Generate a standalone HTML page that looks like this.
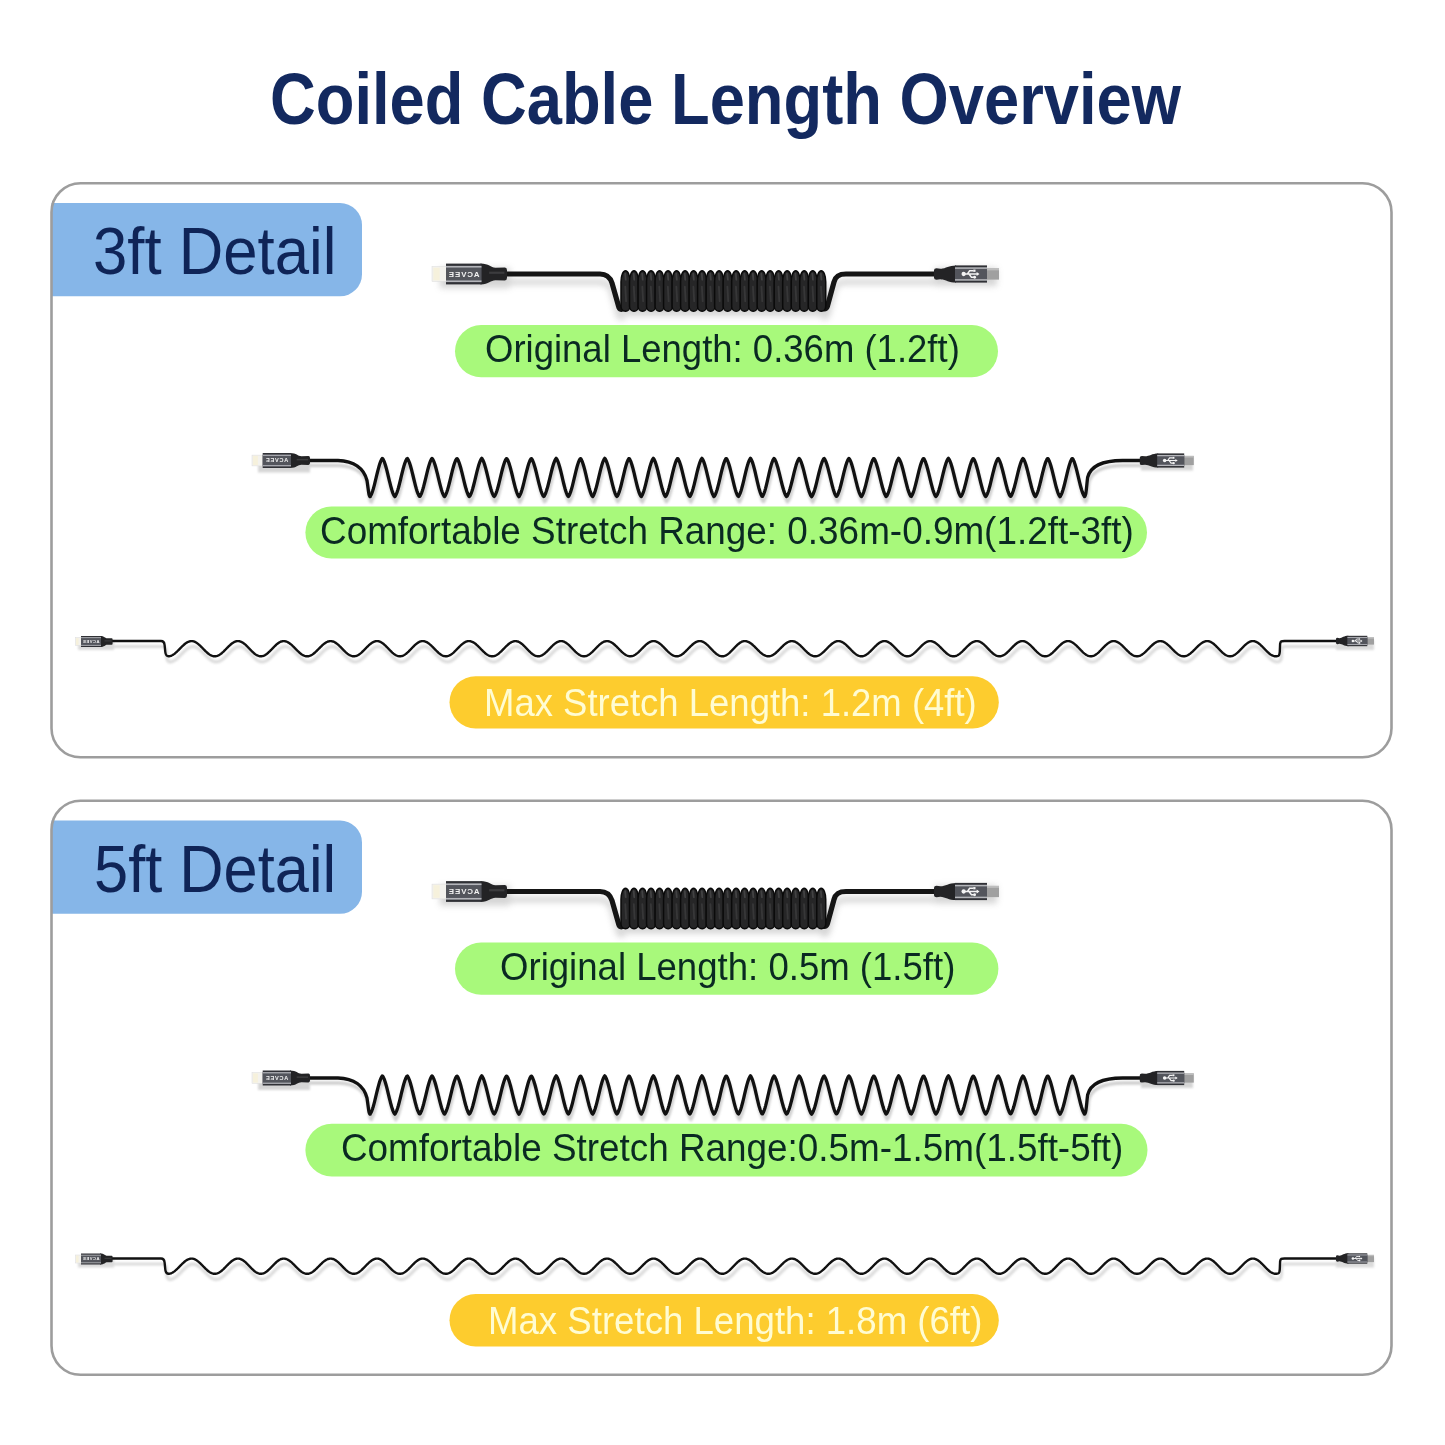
<!DOCTYPE html>
<html><head><meta charset="utf-8"><style>
html,body{margin:0;padding:0;background:#fff;}
body{width:1445px;height:1445px;position:relative;overflow:hidden;font-family:"Liberation Sans",sans-serif;}
svg{position:absolute;left:0;top:0;}
.t{position:absolute;white-space:nowrap;line-height:1;transform-origin:0 0;}
</style></head><body>
<svg width="1445" height="1445" viewBox="0 0 1445 1445">
<defs><filter id="sh" x="-10%" y="-50%" width="120%" height="200%"><feGaussianBlur stdDeviation="3"/></filter><filter id="sh2" x="-10%" y="-100%" width="120%" height="300%"><feGaussianBlur stdDeviation="1.3"/></filter></defs>
<path d="M51.5,203 H340 A22,22 0 0 1 362,225 V274.3 A22,22 0 0 1 340,296.3 H51.5 Z" fill="#86b6e8"/>
<rect x="51.5" y="183.3" width="1340" height="574" rx="29" ry="29" fill="none" stroke="#9d9d9d" stroke-width="2.6"/>
<path d="M51.5,820.5 H340 A22,22 0 0 1 362,842.5 V891.8 A22,22 0 0 1 340,913.8 H51.5 Z" fill="#86b6e8"/>
<rect x="51.5" y="800.8" width="1340" height="574" rx="29" ry="29" fill="none" stroke="#9d9d9d" stroke-width="2.6"/>
<rect x="455" y="325" width="543" height="52.3" rx="26.15" ry="26.15" fill="#a8f97b"/>
<rect x="305.4" y="506.6" width="841.6" height="51.9" rx="25.95" ry="25.95" fill="#a8f97b"/>
<rect x="449.5" y="676.2" width="549.3" height="52.3" rx="26.15" ry="26.15" fill="#fdcc2e"/>
<rect x="455" y="942.5" width="543.4" height="52.3" rx="26.15" ry="26.15" fill="#a8f97b"/>
<rect x="305.4" y="1123.7" width="842.1" height="52.7" rx="26.35" ry="26.35" fill="#a8f97b"/>
<rect x="449.5" y="1294" width="549.3" height="52.4" rx="26.2" ry="26.2" fill="#fdcc2e"/>
<g filter="url(#sh)" opacity="0.35"><path d="M505,274 L600,274 C606,274 610,277 612,283 L618.5,306 C619.5,310 622,310 624,308" stroke="#777" stroke-width="5" fill="none" transform="translate(0,8)"/><path d="M822,308 C825,310 827,309 828,304 L834,282 C835.5,276 839,274 846,274 L936,274" stroke="#777" stroke-width="5" fill="none" transform="translate(0,8)"/><rect x="622" y="284" width="206" height="32" rx="4" fill="#888"/><rect x="440" y="268" width="70" height="20" fill="#888"/><rect x="935" y="268" width="62" height="18" fill="#888"/></g>
<path d="M505,274 L600,274 C606,274 610,277 612,283 L618.5,306 C619.5,310 622,310 624,308" stroke="#151515" stroke-width="5.2" fill="none" stroke-linecap="round"/>
<path d="M822,308 C825,310 827,309 828,304 L834,282 C835.5,276 839,274 846,274 L936,274" stroke="#151515" stroke-width="5.2" fill="none" stroke-linecap="round"/>
<rect x="622" y="280.7" width="202.73" height="24.5" fill="#141414"/>
<path d="M621,281.7 C621,275.62 623.01,270.7 625.5,270.7 C627.99,270.7 630,275.62 630,281.7 V306.2 C630,308.96 627.99,311.2 625.5,311.2 C623.01,311.2 621,308.96 621,306.2 Z" fill="#262627" stroke="#0a0a0a" stroke-width="1.5"/>
<path d="M625.2,273.7 L625.7,279.7" stroke="#4a4a4b" stroke-width="1.8" stroke-linecap="round" opacity="0.8"/>
<path d="M625.3,286.7 L626.1,301.2" stroke="#3c3c3d" stroke-width="1.8" stroke-linecap="round" opacity="0.8"/>
<path d="M629.51,281.7 C629.51,275.62 631.52,270.7 634.01,270.7 C636.5,270.7 638.51,275.62 638.51,281.7 V306.2 C638.51,308.96 636.5,311.2 634.01,311.2 C631.52,311.2 629.51,308.96 629.51,306.2 Z" fill="#262627" stroke="#0a0a0a" stroke-width="1.5"/>
<path d="M633.71,273.7 L634.21,279.7" stroke="#4a4a4b" stroke-width="1.8" stroke-linecap="round" opacity="0.8"/>
<path d="M633.81,286.7 L634.61,301.2" stroke="#3c3c3d" stroke-width="1.8" stroke-linecap="round" opacity="0.8"/>
<path d="M638.02,281.7 C638.02,275.62 640.03,270.7 642.52,270.7 C645.01,270.7 647.02,275.62 647.02,281.7 V306.2 C647.02,308.96 645.01,311.2 642.52,311.2 C640.03,311.2 638.02,308.96 638.02,306.2 Z" fill="#262627" stroke="#0a0a0a" stroke-width="1.5"/>
<path d="M642.22,273.7 L642.72,279.7" stroke="#4a4a4b" stroke-width="1.8" stroke-linecap="round" opacity="0.8"/>
<path d="M642.32,286.7 L643.12,301.2" stroke="#3c3c3d" stroke-width="1.8" stroke-linecap="round" opacity="0.8"/>
<path d="M646.53,281.7 C646.53,275.62 648.54,270.7 651.03,270.7 C653.52,270.7 655.53,275.62 655.53,281.7 V306.2 C655.53,308.96 653.52,311.2 651.03,311.2 C648.54,311.2 646.53,308.96 646.53,306.2 Z" fill="#262627" stroke="#0a0a0a" stroke-width="1.5"/>
<path d="M650.73,273.7 L651.23,279.7" stroke="#4a4a4b" stroke-width="1.8" stroke-linecap="round" opacity="0.8"/>
<path d="M650.83,286.7 L651.63,301.2" stroke="#3c3c3d" stroke-width="1.8" stroke-linecap="round" opacity="0.8"/>
<path d="M655.04,281.7 C655.04,275.62 657.05,270.7 659.54,270.7 C662.03,270.7 664.04,275.62 664.04,281.7 V306.2 C664.04,308.96 662.03,311.2 659.54,311.2 C657.05,311.2 655.04,308.96 655.04,306.2 Z" fill="#262627" stroke="#0a0a0a" stroke-width="1.5"/>
<path d="M659.24,273.7 L659.74,279.7" stroke="#4a4a4b" stroke-width="1.8" stroke-linecap="round" opacity="0.8"/>
<path d="M659.34,286.7 L660.14,301.2" stroke="#3c3c3d" stroke-width="1.8" stroke-linecap="round" opacity="0.8"/>
<path d="M663.55,281.7 C663.55,275.62 665.56,270.7 668.05,270.7 C670.54,270.7 672.55,275.62 672.55,281.7 V306.2 C672.55,308.96 670.54,311.2 668.05,311.2 C665.56,311.2 663.55,308.96 663.55,306.2 Z" fill="#262627" stroke="#0a0a0a" stroke-width="1.5"/>
<path d="M667.75,273.7 L668.25,279.7" stroke="#4a4a4b" stroke-width="1.8" stroke-linecap="round" opacity="0.8"/>
<path d="M667.85,286.7 L668.65,301.2" stroke="#3c3c3d" stroke-width="1.8" stroke-linecap="round" opacity="0.8"/>
<path d="M672.06,281.7 C672.06,275.62 674.07,270.7 676.56,270.7 C679.05,270.7 681.06,275.62 681.06,281.7 V306.2 C681.06,308.96 679.05,311.2 676.56,311.2 C674.07,311.2 672.06,308.96 672.06,306.2 Z" fill="#262627" stroke="#0a0a0a" stroke-width="1.5"/>
<path d="M676.26,273.7 L676.76,279.7" stroke="#4a4a4b" stroke-width="1.8" stroke-linecap="round" opacity="0.8"/>
<path d="M676.36,286.7 L677.16,301.2" stroke="#3c3c3d" stroke-width="1.8" stroke-linecap="round" opacity="0.8"/>
<path d="M680.57,281.7 C680.57,275.62 682.58,270.7 685.07,270.7 C687.56,270.7 689.57,275.62 689.57,281.7 V306.2 C689.57,308.96 687.56,311.2 685.07,311.2 C682.58,311.2 680.57,308.96 680.57,306.2 Z" fill="#262627" stroke="#0a0a0a" stroke-width="1.5"/>
<path d="M684.77,273.7 L685.27,279.7" stroke="#4a4a4b" stroke-width="1.8" stroke-linecap="round" opacity="0.8"/>
<path d="M684.87,286.7 L685.67,301.2" stroke="#3c3c3d" stroke-width="1.8" stroke-linecap="round" opacity="0.8"/>
<path d="M689.08,281.7 C689.08,275.62 691.09,270.7 693.58,270.7 C696.07,270.7 698.08,275.62 698.08,281.7 V306.2 C698.08,308.96 696.07,311.2 693.58,311.2 C691.09,311.2 689.08,308.96 689.08,306.2 Z" fill="#262627" stroke="#0a0a0a" stroke-width="1.5"/>
<path d="M693.28,273.7 L693.78,279.7" stroke="#4a4a4b" stroke-width="1.8" stroke-linecap="round" opacity="0.8"/>
<path d="M693.38,286.7 L694.18,301.2" stroke="#3c3c3d" stroke-width="1.8" stroke-linecap="round" opacity="0.8"/>
<path d="M697.59,281.7 C697.59,275.62 699.6,270.7 702.09,270.7 C704.58,270.7 706.59,275.62 706.59,281.7 V306.2 C706.59,308.96 704.58,311.2 702.09,311.2 C699.6,311.2 697.59,308.96 697.59,306.2 Z" fill="#262627" stroke="#0a0a0a" stroke-width="1.5"/>
<path d="M701.79,273.7 L702.29,279.7" stroke="#4a4a4b" stroke-width="1.8" stroke-linecap="round" opacity="0.8"/>
<path d="M701.89,286.7 L702.69,301.2" stroke="#3c3c3d" stroke-width="1.8" stroke-linecap="round" opacity="0.8"/>
<path d="M706.1,281.7 C706.1,275.62 708.11,270.7 710.6,270.7 C713.09,270.7 715.1,275.62 715.1,281.7 V306.2 C715.1,308.96 713.09,311.2 710.6,311.2 C708.11,311.2 706.1,308.96 706.1,306.2 Z" fill="#262627" stroke="#0a0a0a" stroke-width="1.5"/>
<path d="M710.3,273.7 L710.8,279.7" stroke="#4a4a4b" stroke-width="1.8" stroke-linecap="round" opacity="0.8"/>
<path d="M710.4,286.7 L711.2,301.2" stroke="#3c3c3d" stroke-width="1.8" stroke-linecap="round" opacity="0.8"/>
<path d="M714.61,281.7 C714.61,275.62 716.62,270.7 719.11,270.7 C721.6,270.7 723.61,275.62 723.61,281.7 V306.2 C723.61,308.96 721.6,311.2 719.11,311.2 C716.62,311.2 714.61,308.96 714.61,306.2 Z" fill="#262627" stroke="#0a0a0a" stroke-width="1.5"/>
<path d="M718.81,273.7 L719.31,279.7" stroke="#4a4a4b" stroke-width="1.8" stroke-linecap="round" opacity="0.8"/>
<path d="M718.91,286.7 L719.71,301.2" stroke="#3c3c3d" stroke-width="1.8" stroke-linecap="round" opacity="0.8"/>
<path d="M723.12,281.7 C723.12,275.62 725.13,270.7 727.62,270.7 C730.11,270.7 732.12,275.62 732.12,281.7 V306.2 C732.12,308.96 730.11,311.2 727.62,311.2 C725.13,311.2 723.12,308.96 723.12,306.2 Z" fill="#262627" stroke="#0a0a0a" stroke-width="1.5"/>
<path d="M727.32,273.7 L727.82,279.7" stroke="#4a4a4b" stroke-width="1.8" stroke-linecap="round" opacity="0.8"/>
<path d="M727.42,286.7 L728.22,301.2" stroke="#3c3c3d" stroke-width="1.8" stroke-linecap="round" opacity="0.8"/>
<path d="M731.63,281.7 C731.63,275.62 733.64,270.7 736.13,270.7 C738.62,270.7 740.63,275.62 740.63,281.7 V306.2 C740.63,308.96 738.62,311.2 736.13,311.2 C733.64,311.2 731.63,308.96 731.63,306.2 Z" fill="#262627" stroke="#0a0a0a" stroke-width="1.5"/>
<path d="M735.83,273.7 L736.33,279.7" stroke="#4a4a4b" stroke-width="1.8" stroke-linecap="round" opacity="0.8"/>
<path d="M735.93,286.7 L736.73,301.2" stroke="#3c3c3d" stroke-width="1.8" stroke-linecap="round" opacity="0.8"/>
<path d="M740.14,281.7 C740.14,275.62 742.15,270.7 744.64,270.7 C747.13,270.7 749.14,275.62 749.14,281.7 V306.2 C749.14,308.96 747.13,311.2 744.64,311.2 C742.15,311.2 740.14,308.96 740.14,306.2 Z" fill="#262627" stroke="#0a0a0a" stroke-width="1.5"/>
<path d="M744.34,273.7 L744.84,279.7" stroke="#4a4a4b" stroke-width="1.8" stroke-linecap="round" opacity="0.8"/>
<path d="M744.44,286.7 L745.24,301.2" stroke="#3c3c3d" stroke-width="1.8" stroke-linecap="round" opacity="0.8"/>
<path d="M748.65,281.7 C748.65,275.62 750.66,270.7 753.15,270.7 C755.64,270.7 757.65,275.62 757.65,281.7 V306.2 C757.65,308.96 755.64,311.2 753.15,311.2 C750.66,311.2 748.65,308.96 748.65,306.2 Z" fill="#262627" stroke="#0a0a0a" stroke-width="1.5"/>
<path d="M752.85,273.7 L753.35,279.7" stroke="#4a4a4b" stroke-width="1.8" stroke-linecap="round" opacity="0.8"/>
<path d="M752.95,286.7 L753.75,301.2" stroke="#3c3c3d" stroke-width="1.8" stroke-linecap="round" opacity="0.8"/>
<path d="M757.16,281.7 C757.16,275.62 759.17,270.7 761.66,270.7 C764.15,270.7 766.16,275.62 766.16,281.7 V306.2 C766.16,308.96 764.15,311.2 761.66,311.2 C759.17,311.2 757.16,308.96 757.16,306.2 Z" fill="#262627" stroke="#0a0a0a" stroke-width="1.5"/>
<path d="M761.36,273.7 L761.86,279.7" stroke="#4a4a4b" stroke-width="1.8" stroke-linecap="round" opacity="0.8"/>
<path d="M761.46,286.7 L762.26,301.2" stroke="#3c3c3d" stroke-width="1.8" stroke-linecap="round" opacity="0.8"/>
<path d="M765.67,281.7 C765.67,275.62 767.68,270.7 770.17,270.7 C772.66,270.7 774.67,275.62 774.67,281.7 V306.2 C774.67,308.96 772.66,311.2 770.17,311.2 C767.68,311.2 765.67,308.96 765.67,306.2 Z" fill="#262627" stroke="#0a0a0a" stroke-width="1.5"/>
<path d="M769.87,273.7 L770.37,279.7" stroke="#4a4a4b" stroke-width="1.8" stroke-linecap="round" opacity="0.8"/>
<path d="M769.97,286.7 L770.77,301.2" stroke="#3c3c3d" stroke-width="1.8" stroke-linecap="round" opacity="0.8"/>
<path d="M774.18,281.7 C774.18,275.62 776.19,270.7 778.68,270.7 C781.17,270.7 783.18,275.62 783.18,281.7 V306.2 C783.18,308.96 781.17,311.2 778.68,311.2 C776.19,311.2 774.18,308.96 774.18,306.2 Z" fill="#262627" stroke="#0a0a0a" stroke-width="1.5"/>
<path d="M778.38,273.7 L778.88,279.7" stroke="#4a4a4b" stroke-width="1.8" stroke-linecap="round" opacity="0.8"/>
<path d="M778.48,286.7 L779.28,301.2" stroke="#3c3c3d" stroke-width="1.8" stroke-linecap="round" opacity="0.8"/>
<path d="M782.69,281.7 C782.69,275.62 784.7,270.7 787.19,270.7 C789.68,270.7 791.69,275.62 791.69,281.7 V306.2 C791.69,308.96 789.68,311.2 787.19,311.2 C784.7,311.2 782.69,308.96 782.69,306.2 Z" fill="#262627" stroke="#0a0a0a" stroke-width="1.5"/>
<path d="M786.89,273.7 L787.39,279.7" stroke="#4a4a4b" stroke-width="1.8" stroke-linecap="round" opacity="0.8"/>
<path d="M786.99,286.7 L787.79,301.2" stroke="#3c3c3d" stroke-width="1.8" stroke-linecap="round" opacity="0.8"/>
<path d="M791.2,281.7 C791.2,275.62 793.21,270.7 795.7,270.7 C798.19,270.7 800.2,275.62 800.2,281.7 V306.2 C800.2,308.96 798.19,311.2 795.7,311.2 C793.21,311.2 791.2,308.96 791.2,306.2 Z" fill="#262627" stroke="#0a0a0a" stroke-width="1.5"/>
<path d="M795.4,273.7 L795.9,279.7" stroke="#4a4a4b" stroke-width="1.8" stroke-linecap="round" opacity="0.8"/>
<path d="M795.5,286.7 L796.3,301.2" stroke="#3c3c3d" stroke-width="1.8" stroke-linecap="round" opacity="0.8"/>
<path d="M799.71,281.7 C799.71,275.62 801.72,270.7 804.21,270.7 C806.7,270.7 808.71,275.62 808.71,281.7 V306.2 C808.71,308.96 806.7,311.2 804.21,311.2 C801.72,311.2 799.71,308.96 799.71,306.2 Z" fill="#262627" stroke="#0a0a0a" stroke-width="1.5"/>
<path d="M803.91,273.7 L804.41,279.7" stroke="#4a4a4b" stroke-width="1.8" stroke-linecap="round" opacity="0.8"/>
<path d="M804.01,286.7 L804.81,301.2" stroke="#3c3c3d" stroke-width="1.8" stroke-linecap="round" opacity="0.8"/>
<path d="M808.22,281.7 C808.22,275.62 810.23,270.7 812.72,270.7 C815.21,270.7 817.22,275.62 817.22,281.7 V306.2 C817.22,308.96 815.21,311.2 812.72,311.2 C810.23,311.2 808.22,308.96 808.22,306.2 Z" fill="#262627" stroke="#0a0a0a" stroke-width="1.5"/>
<path d="M812.42,273.7 L812.92,279.7" stroke="#4a4a4b" stroke-width="1.8" stroke-linecap="round" opacity="0.8"/>
<path d="M812.52,286.7 L813.32,301.2" stroke="#3c3c3d" stroke-width="1.8" stroke-linecap="round" opacity="0.8"/>
<path d="M816.73,281.7 C816.73,275.62 818.74,270.7 821.23,270.7 C823.72,270.7 825.73,275.62 825.73,281.7 V306.2 C825.73,308.96 823.72,311.2 821.23,311.2 C818.74,311.2 816.73,308.96 816.73,306.2 Z" fill="#262627" stroke="#0a0a0a" stroke-width="1.5"/>
<path d="M820.93,273.7 L821.43,279.7" stroke="#4a4a4b" stroke-width="1.8" stroke-linecap="round" opacity="0.8"/>
<path d="M821.03,286.7 L821.83,301.2" stroke="#3c3c3d" stroke-width="1.8" stroke-linecap="round" opacity="0.8"/>
<rect x="432" y="266.6" width="15" height="14.8" fill="#f3f2ee" stroke="#dcdcdc" stroke-width="0.5"/>
<rect x="433.4" y="267.71" width="6.3" height="12.58" fill="#f6f1dc"/>
<path d="M480.5,263.6 C489.15,263.6 490.43,267.7 495.52,267.7 L504.96,267.57 Q507,267.7 507,270.22 L507,277.78 Q507,280.3 504.96,280.43 L495.52,280.3 C490.43,280.3 489.15,284.4 480.5,284.4 Z" fill="#232325"/>
<path d="M489.15,272.74 L504.45,272.74" stroke="#3c3c3e" stroke-width="2.2"/>
<rect x="446" y="263.6" width="35.5" height="20.8" fill="#303136"/>
<rect x="446" y="266.51" width="35.5" height="14.98" fill="#53555c"/>
<rect x="446" y="265.89" width="35.5" height="1.66" fill="#b4b5ba"/>
<rect x="446" y="280.45" width="35.5" height="1.66" fill="#b4b5ba"/>
<g opacity="0.99"><text x="0" y="0" transform="translate(463.75,276.7) scale(-1.05,1)" text-anchor="middle" font-family="Liberation Sans" font-weight="bold" font-size="7.49" fill="#f4f4f4" letter-spacing="0.9">ACVEE</text></g>
<rect x="986" y="268.4" width="13" height="11.2" fill="#a0a0a0"/>
<rect x="986" y="268.4" width="13" height="1.96" fill="#bdbdbd"/>
<path d="M934,270.22 Q934,268.33 936.52,268.33 L940.3,268.87 C945.55,268.6 948.7,265.4 956,265.4 L956,282.6 C948.7,282.6 945.55,279.4 940.3,279.13 L936.52,279.67 Q934,279.67 934,277.78 Z" fill="#232325"/>
<rect x="955" y="265.4" width="32" height="17.2" fill="#303136"/>
<rect x="955" y="267.98" width="32" height="12.04" fill="#53555c"/>
<rect x="955" y="267.29" width="32" height="1.55" fill="#b4b5ba"/>
<rect x="955" y="279.16" width="32" height="1.55" fill="#b4b5ba"/>
<g transform="translate(971,274) scale(1.13)" fill="#f4f4f4" stroke="#f4f4f4"><circle cx="-6.5" cy="0" r="1.9" stroke="none"/><path d="M-6,0 H6 M-3.2,0 L-1.2,-2.9 H2.2 M-1.8,0 L0.4,2.9 H2.6" fill="none" stroke-width="1.3"/><path d="M7.5,0 L5,-1.7 V1.7 Z" stroke="none"/><rect x="2" y="-3.9" width="2" height="2" stroke="none"/><circle cx="3.2" cy="2.9" r="1.25" stroke="none"/></g>
<g filter="url(#sh2)" opacity="0.4"><path d="M309,460.5 L338,460.5 C354,461 364,468.5 367,480.5 C368.5,490.5 368.8,496.7 370.2,496.7 L370.2,496.42 L370.8,495.48 L371.4,494.27 L372,492.81 L372.6,491.1 L373.2,489.18 L373.8,487.08 L374.4,484.82 L375,482.43 L375.6,479.97 L376.2,477.47 L376.8,474.96 L377.4,472.5 L378,470.12 L378.6,467.86 L379.2,465.76 L379.8,463.85 L380.4,462.15 L381,460.69 L381.6,459.49 L382.2,458.55 L382.8,458.83 L383.4,459.85 L384,461.13 L384.6,462.67 L385.2,464.44 L385.8,466.42 L386.4,468.57 L387,470.87 L387.6,473.29 L388.19,475.76 L388.79,478.27 L389.39,480.77 L389.99,483.21 L390.59,485.56 L391.19,487.77 L391.79,489.82 L392.39,491.68 L392.99,493.31 L393.59,494.69 L394.19,495.81 L394.79,496.67 L395.39,495.9 L395.99,494.8 L396.59,493.44 L397.19,491.83 L397.79,490 L398.39,487.97 L398.99,485.76 L399.59,483.43 L400.19,480.99 L400.79,478.5 L401.39,475.99 L401.99,473.51 L402.59,471.09 L403.19,468.77 L403.79,466.6 L404.39,464.61 L404.99,462.82 L405.59,461.26 L406.19,459.95 L406.79,458.91 L407.39,458.48 L407.99,459.39 L408.59,460.57 L409.19,462.01 L409.79,463.68 L410.39,465.58 L410.99,467.67 L411.59,469.91 L412.19,472.28 L412.79,474.74 L413.39,477.24 L413.99,479.75 L414.59,482.21 L415.19,484.61 L415.79,486.88 L416.39,489 L416.99,490.94 L417.59,492.66 L418.19,494.15 L418.79,495.38 L419.39,496.35 L419.99,496.28 L420.59,495.29 L421.19,494.03 L421.79,492.52 L422.39,490.78 L422.99,488.82 L423.59,486.69 L424.18,484.4 L424.78,482 L425.38,479.53 L425.98,477.02 L426.58,474.52 L427.18,472.07 L427.78,469.71 L428.38,467.48 L428.98,465.41 L429.58,463.53 L430.18,461.87 L430.78,460.46 L431.38,459.3 L431.98,458.42 L432.58,458.99 L433.18,460.05 L433.78,461.39 L434.38,462.97 L434.98,464.77 L435.58,466.79 L436.18,468.97 L436.78,471.29 L437.38,473.72 L437.98,476.21 L438.58,478.72 L439.18,481.21 L439.78,483.63 L440.38,485.96 L440.98,488.15 L441.58,490.17 L442.18,491.98 L442.78,493.57 L443.38,494.91 L443.98,495.99 L444.58,496.6 L445.18,495.73 L445.78,494.58 L446.38,493.17 L446.98,491.52 L447.58,489.65 L448.18,487.59 L448.78,485.36 L449.38,483 L449.98,480.55 L450.58,478.05 L451.18,475.55 L451.78,473.07 L452.38,470.67 L452.98,468.38 L453.58,466.24 L454.18,464.28 L454.78,462.53 L455.38,461.01 L455.98,459.75 L456.58,458.75 L457.18,458.63 L457.78,459.58 L458.38,460.81 L458.98,462.29 L459.57,464 L460.17,465.94 L460.77,468.05 L461.37,470.32 L461.97,472.71 L462.57,475.18 L463.17,477.68 L463.77,480.19 L464.37,482.64 L464.97,485.02 L465.57,487.27 L466.17,489.36 L466.77,491.26 L467.37,492.95 L467.97,494.39 L468.57,495.57 L469.17,496.49 L469.77,496.12 L470.37,495.08 L470.97,493.78 L471.57,492.23 L472.17,490.45 L472.77,488.46 L473.37,486.29 L473.97,483.98 L474.57,481.57 L475.17,479.09 L475.77,476.58 L476.37,474.08 L476.97,471.65 L477.57,469.31 L478.17,467.1 L478.77,465.06 L479.37,463.22 L479.97,461.6 L480.57,460.24 L481.17,459.13 L481.77,458.31 L482.37,459.16 L482.97,460.27 L483.57,461.65 L484.17,463.27 L484.77,465.12 L485.37,467.16 L485.97,469.37 L486.57,471.72 L487.17,474.16 L487.77,476.65 L488.37,479.16 L488.97,481.64 L489.57,484.05 L490.17,486.36 L490.77,488.52 L491.37,490.5 L491.97,492.28 L492.57,493.82 L493.17,495.12 L493.77,496.15 L494.37,496.47 L494.97,495.54 L495.56,494.35 L496.16,492.9 L496.76,491.21 L497.36,489.3 L497.96,487.2 L498.56,484.95 L499.16,482.57 L499.76,480.11 L500.36,477.61 L500.96,475.11 L501.56,472.64 L502.16,470.26 L502.76,467.99 L503.36,465.88 L503.96,463.95 L504.56,462.24 L505.16,460.77 L505.76,459.55 L506.36,458.6 L506.96,458.78 L507.56,459.79 L508.16,461.07 L508.76,462.61 L509.36,464.38 L509.96,466.36 L510.56,468.53 L511.16,470.84 L511.76,473.26 L512.36,475.76 L512.96,478.28 L513.56,480.79 L514.16,483.24 L514.76,485.6 L515.36,487.83 L515.96,489.88 L516.56,491.74 L517.16,493.37 L517.76,494.75 L518.36,495.87 L518.96,496.69 L519.56,495.84 L520.16,494.72 L520.76,493.33 L521.36,491.69 L521.96,489.83 L522.56,487.77 L523.16,485.54 L523.76,483.18 L524.36,480.72 L524.96,478.21 L525.56,475.69 L526.16,473.19 L526.76,470.77 L527.36,468.47 L527.96,466.3 L528.56,464.33 L529.16,462.56 L529.76,461.03 L530.36,459.76 L530.95,458.75 L531.55,458.62 L532.15,459.58 L532.75,460.8 L533.35,462.27 L533.95,463.98 L534.55,465.91 L535.15,468.02 L535.75,470.28 L536.35,472.66 L536.95,475.12 L537.55,477.62 L538.15,480.11 L538.75,482.57 L539.35,484.94 L539.95,487.19 L540.55,489.28 L541.15,491.19 L541.75,492.88 L542.35,494.33 L542.95,495.52 L543.55,496.45 L544.15,496.17 L544.75,495.15 L545.35,493.87 L545.95,492.33 L546.55,490.57 L547.15,488.59 L547.75,486.44 L548.35,484.15 L548.95,481.75 L549.55,479.27 L550.15,476.77 L550.75,474.28 L551.35,471.84 L551.95,469.5 L552.55,467.28 L553.15,465.23 L553.75,463.38 L554.35,461.75 L554.95,460.36 L555.55,459.22 L556.15,458.36 L556.75,459.08 L557.35,460.2 L557.95,461.6 L558.55,463.25 L559.15,465.14 L559.75,467.23 L560.35,469.5 L560.95,471.91 L561.55,474.41 L562.15,476.96 L562.75,479.53 L563.35,482.06 L563.95,484.51 L564.55,486.84 L565.15,489.01 L565.75,490.99 L566.35,492.74 L566.94,494.25 L567.54,495.49 L568.14,496.44 L568.74,496.15 L569.34,495.1 L569.94,493.77 L570.54,492.18 L571.14,490.35 L571.74,488.3 L572.34,486.07 L572.94,483.69 L573.54,481.21 L574.14,478.67 L574.74,476.1 L575.34,473.56 L575.94,471.08 L576.54,468.72 L577.14,466.51 L577.74,464.48 L578.34,462.67 L578.94,461.1 L579.54,459.79 L580.14,458.76 L580.74,458.63 L581.34,459.61 L581.94,460.88 L582.54,462.41 L583.14,464.18 L583.74,466.18 L584.34,468.37 L584.94,470.71 L585.54,473.17 L586.14,475.71 L586.74,478.27 L587.34,480.82 L587.94,483.32 L588.54,485.71 L589.14,487.97 L589.74,490.04 L590.34,491.91 L590.94,493.54 L591.54,494.91 L592.14,496.01 L592.74,496.57 L593.34,495.65 L593.94,494.46 L594.54,492.99 L595.14,491.27 L595.74,489.33 L596.34,487.18 L596.94,484.88 L597.54,482.44 L598.14,479.92 L598.74,477.36 L599.34,474.8 L599.94,472.29 L600.54,469.86 L601.14,467.57 L601.74,465.45 L602.34,463.53 L602.93,461.83 L603.53,460.4 L604.13,459.23 L604.73,458.35 L605.33,459.1 L605.93,460.22 L606.53,461.62 L607.13,463.28 L607.73,465.17 L608.33,467.27 L608.93,469.54 L609.53,471.95 L610.13,474.46 L610.73,477.01 L611.33,479.58 L611.93,482.1 L612.53,484.55 L613.13,486.88 L613.73,489.05 L614.33,491.02 L614.93,492.77 L615.53,494.27 L616.13,495.51 L616.73,496.46 L617.33,496.14 L617.93,495.08 L618.53,493.74 L619.13,492.15 L619.73,490.31 L620.33,488.26 L620.93,486.03 L621.53,483.65 L622.13,481.16 L622.73,478.62 L623.33,476.05 L623.93,473.51 L624.53,471.04 L625.13,468.68 L625.73,466.47 L626.33,464.44 L626.93,462.63 L627.53,461.07 L628.13,459.77 L628.73,458.75 L629.33,458.65 L629.93,459.64 L630.53,460.9 L631.13,462.44 L631.73,464.22 L632.33,466.22 L632.93,468.41 L633.53,470.76 L634.13,473.22 L634.73,475.75 L635.33,478.32 L635.93,480.87 L636.53,483.36 L637.13,485.76 L637.73,488.01 L638.32,490.08 L638.92,491.94 L639.52,493.57 L640.12,494.94 L640.72,496.03 L641.32,496.55 L641.92,495.63 L642.52,494.43 L643.12,492.96 L643.72,491.24 L644.32,489.29 L644.92,487.14 L645.52,484.83 L646.12,482.39 L646.72,479.87 L647.32,477.31 L647.92,474.75 L648.52,472.24 L649.12,469.82 L649.72,467.53 L650.32,465.41 L650.92,463.49 L651.52,461.8 L652.12,460.37 L652.72,459.21 L653.32,458.34 L653.92,459.12 L654.52,460.25 L655.12,461.65 L655.72,463.32 L656.32,465.21 L656.92,467.31 L657.52,469.59 L658.12,472 L658.72,474.5 L659.32,477.06 L659.92,479.62 L660.52,482.15 L661.12,484.6 L661.72,486.92 L662.32,489.09 L662.92,491.06 L663.52,492.8 L664.12,494.3 L664.72,495.53 L665.32,496.48 L665.92,496.12 L666.52,495.06 L667.12,493.72 L667.72,492.11 L668.32,490.27 L668.92,488.22 L669.52,485.98 L670.12,483.6 L670.72,481.12 L671.32,478.57 L671.92,476 L672.52,473.46 L673.12,470.99 L673.72,468.63 L674.31,466.43 L674.91,464.4 L675.51,462.6 L676.11,461.04 L676.71,459.75 L677.31,458.73 L677.91,458.66 L678.51,459.66 L679.11,460.93 L679.71,462.47 L680.31,464.25 L680.91,466.26 L681.51,468.45 L682.11,470.8 L682.71,473.27 L683.31,475.8 L683.91,478.37 L684.51,480.92 L685.11,483.41 L685.71,485.8 L686.31,488.05 L686.91,490.12 L687.51,491.98 L688.11,493.6 L688.71,494.96 L689.31,496.05 L689.91,496.54 L690.51,495.61 L691.11,494.41 L691.71,492.93 L692.31,491.2 L692.91,489.25 L693.51,487.1 L694.11,484.79 L694.71,482.35 L695.31,479.82 L695.91,477.26 L696.51,474.7 L697.11,472.19 L697.71,469.77 L698.31,467.49 L698.91,465.37 L699.51,463.46 L700.11,461.78 L700.71,460.35 L701.31,459.19 L701.91,458.32 L702.51,459.13 L703.11,460.27 L703.71,461.68 L704.31,463.35 L704.91,465.25 L705.51,467.36 L706.11,469.63 L706.71,472.05 L707.31,474.55 L707.91,477.11 L708.51,479.67 L709.11,482.2 L709.7,484.64 L710.3,486.97 L710.9,489.13 L711.5,491.09 L712.1,492.84 L712.7,494.33 L713.3,495.55 L713.9,496.49 L714.5,496.1 L715.1,495.03 L715.7,493.69 L716.3,492.08 L716.9,490.24 L717.5,488.18 L718.1,485.94 L718.7,483.56 L719.3,481.07 L719.9,478.52 L720.5,475.95 L721.1,473.42 L721.7,470.95 L722.3,468.59 L722.9,466.39 L723.5,464.37 L724.1,462.57 L724.7,461.02 L725.3,459.73 L725.9,458.71 L726.5,458.68 L727.1,459.68 L727.7,460.96 L728.3,462.5 L728.9,464.29 L729.5,466.3 L730.1,468.5 L730.7,470.85 L731.3,473.31 L731.9,475.85 L732.5,478.42 L733.1,480.97 L733.7,483.46 L734.3,485.84 L734.9,488.09 L735.5,490.16 L736.1,492.01 L736.7,493.63 L737.3,494.98 L737.9,496.06 L738.5,496.52 L739.1,495.59 L739.7,494.38 L740.3,492.9 L740.9,491.17 L741.5,489.21 L742.1,487.06 L742.7,484.74 L743.3,482.3 L743.9,479.78 L744.5,477.21 L745.1,474.65 L745.69,472.15 L746.29,469.73 L746.89,467.45 L747.49,465.33 L748.09,463.42 L748.69,461.75 L749.29,460.32 L749.89,459.17 L750.49,458.31 L751.09,459.18 L751.69,460.38 L752.29,461.86 L752.89,463.61 L753.49,465.61 L754.09,467.81 L754.69,470.2 L755.29,472.71 L755.89,475.32 L756.49,477.96 L757.09,480.6 L757.69,483.17 L758.29,485.65 L758.89,487.98 L759.49,490.11 L760.09,492.03 L760.69,493.69 L761.29,495.07 L761.89,496.16 L762.49,496.41 L763.09,495.41 L763.69,494.11 L764.29,492.52 L764.89,490.68 L765.49,488.6 L766.09,486.32 L766.69,483.89 L767.29,481.33 L767.89,478.71 L768.49,476.06 L769.09,473.44 L769.69,470.9 L770.29,468.47 L770.89,466.21 L771.49,464.15 L772.09,462.33 L772.69,460.77 L773.29,459.49 L773.89,458.51 L774.49,458.88 L775.09,459.9 L775.69,461.18 L776.29,462.71 L776.89,464.46 L777.49,466.41 L778.09,468.54 L778.69,470.81 L779.29,473.19 L779.89,475.63 L780.49,478.11 L781.08,480.58 L781.68,482.99 L782.28,485.32 L782.88,487.53 L783.48,489.58 L784.08,491.43 L784.68,493.08 L785.28,494.48 L785.88,495.64 L786.48,496.53 L787.08,496.09 L787.68,495.06 L788.28,493.77 L788.88,492.24 L789.48,490.48 L790.08,488.52 L790.68,486.38 L791.28,484.11 L791.88,481.73 L792.48,479.28 L793.08,476.8 L793.68,474.33 L794.28,471.92 L794.88,469.59 L795.48,467.39 L796.08,465.35 L796.68,463.5 L797.28,461.87 L797.88,460.47 L798.48,459.33 L799.08,458.44 L799.68,458.95 L800.28,460.01 L800.88,461.33 L801.48,462.9 L802.08,464.69 L802.68,466.69 L803.28,468.87 L803.88,471.18 L804.48,473.6 L805.08,476.09 L805.68,478.59 L806.28,481.08 L806.88,483.51 L807.48,485.84 L808.08,488.04 L808.68,490.06 L809.28,491.89 L809.88,493.49 L810.48,494.84 L811.08,495.93 L811.68,496.65 L812.28,495.79 L812.88,494.66 L813.48,493.27 L814.08,491.64 L814.68,489.78 L815.28,487.73 L815.88,485.51 L816.48,483.17 L817.07,480.73 L817.67,478.23 L818.27,475.73 L818.87,473.25 L819.47,470.84 L820.07,468.55 L820.67,466.39 L821.27,464.42 L821.87,462.66 L822.47,461.12 L823.07,459.84 L823.67,458.82 L824.27,458.56 L824.87,459.49 L825.47,460.69 L826.07,462.15 L826.67,463.85 L827.27,465.76 L827.87,467.86 L828.47,470.11 L829.07,472.49 L829.67,474.95 L830.27,477.45 L830.87,479.95 L831.47,482.41 L832.07,484.79 L832.67,487.05 L833.27,489.16 L833.87,491.08 L834.47,492.79 L835.07,494.25 L835.67,495.46 L836.27,496.41 L836.87,496.21 L837.47,495.21 L838.07,493.94 L838.67,492.41 L839.27,490.65 L839.87,488.69 L840.47,486.54 L841.07,484.25 L841.67,481.85 L842.27,479.37 L842.87,476.87 L843.47,474.37 L844.07,471.93 L844.67,469.58 L845.27,467.36 L845.87,465.3 L846.47,463.43 L847.07,461.79 L847.67,460.39 L848.27,459.25 L848.87,458.38 L849.47,459.03 L850.07,460.11 L850.67,461.45 L851.27,463.04 L851.87,464.86 L852.46,466.88 L853.06,469.07 L853.66,471.39 L854.26,473.82 L854.86,476.31 L855.46,478.81 L856.06,481.3 L856.66,483.72 L857.26,486.04 L857.86,488.22 L858.46,490.23 L859.06,492.04 L859.66,493.61 L860.26,494.94 L860.86,496.01 L861.46,496.58 L862.06,495.7 L862.66,494.55 L863.26,493.14 L863.86,491.48 L864.46,489.61 L865.06,487.54 L865.66,485.31 L866.26,482.96 L866.86,480.51 L867.46,478.01 L868.06,475.51 L868.66,473.04 L869.26,470.64 L869.86,468.35 L870.46,466.21 L871.06,464.26 L871.66,462.51 L872.26,461 L872.86,459.74 L873.46,458.74 L874.06,458.63 L874.66,459.59 L875.26,460.81 L875.86,462.29 L876.46,464.01 L877.06,465.93 L877.66,468.05 L878.26,470.32 L878.86,472.7 L879.46,475.17 L880.06,477.67 L880.66,480.17 L881.26,482.63 L881.86,485 L882.46,487.25 L883.06,489.34 L883.66,491.24 L884.26,492.92 L884.86,494.37 L885.46,495.56 L886.06,496.48 L886.66,496.14 L887.26,495.11 L887.86,493.81 L888.45,492.27 L889.05,490.49 L889.65,488.51 L890.25,486.35 L890.85,484.04 L891.45,481.63 L892.05,479.15 L892.65,476.65 L893.25,474.16 L893.85,471.72 L894.45,469.38 L895.05,467.17 L895.65,465.12 L896.25,463.28 L896.85,461.66 L897.45,460.28 L898.05,459.16 L898.65,458.32 L899.25,459.12 L899.85,460.22 L900.45,461.59 L901.05,463.2 L901.65,465.03 L902.25,467.06 L902.85,469.27 L903.45,471.6 L904.05,474.04 L904.65,476.53 L905.25,479.03 L905.85,481.51 L906.45,483.93 L907.05,486.24 L907.65,488.41 L908.25,490.4 L908.85,492.18 L909.45,493.74 L910.05,495.05 L910.65,496.09 L911.25,496.52 L911.85,495.61 L912.45,494.43 L913.05,493 L913.65,491.33 L914.25,489.44 L914.85,487.35 L915.45,485.11 L916.05,482.74 L916.65,480.29 L917.25,477.79 L917.85,475.29 L918.45,472.82 L919.05,470.43 L919.65,468.16 L920.25,466.03 L920.85,464.09 L921.45,462.37 L922.05,460.88 L922.65,459.64 L923.25,458.67 L923.85,458.7 L924.44,459.68 L925.04,460.93 L925.64,462.43 L926.24,464.17 L926.84,466.11 L927.44,468.24 L928.04,470.52 L928.64,472.92 L929.24,475.39 L929.84,477.89 L930.44,480.39 L931.04,482.84 L931.64,485.2 L932.24,487.44 L932.84,489.51 L933.44,491.4 L934.04,493.06 L934.64,494.48 L935.24,495.65 L935.84,496.55 L936.44,496.06 L937.04,495 L937.64,493.69 L938.24,492.12 L938.84,490.32 L939.44,488.32 L940.04,486.15 L940.64,483.84 L941.24,481.42 L941.84,478.93 L942.44,476.43 L943.04,473.94 L943.64,471.51 L944.24,469.18 L944.84,466.98 L945.44,464.95 L946.04,463.13 L946.64,461.53 L947.24,460.17 L947.84,459.08 L948.44,458.35 L949.04,459.2 L949.64,460.33 L950.24,461.72 L950.84,463.35 L951.44,465.2 L952.04,467.25 L952.64,469.47 L953.24,471.81 L953.84,474.25 L954.44,476.75 L955.04,479.25 L955.64,481.73 L956.24,484.14 L956.84,486.43 L957.44,488.59 L958.04,490.56 L958.64,492.33 L959.24,493.87 L959.83,495.15 L960.43,496.17 L961.03,496.45 L961.63,495.52 L962.23,494.32 L962.83,492.86 L963.43,491.17 L964.03,489.26 L964.63,487.16 L965.23,484.91 L965.83,482.53 L966.43,480.07 L967.03,477.57 L967.63,475.07 L968.23,472.61 L968.83,470.23 L969.43,467.96 L970.03,465.86 L970.63,463.93 L971.23,462.23 L971.83,460.76 L972.43,459.54 L973.03,458.6 L973.63,458.78 L974.23,459.78 L974.83,461.05 L975.43,462.58 L976.03,464.33 L976.63,466.29 L977.23,468.44 L977.83,470.73 L978.43,473.13 L979.03,475.61 L979.63,478.11 L980.23,480.61 L980.83,483.05 L981.43,485.4 L982.03,487.63 L982.63,489.69 L983.23,491.55 L983.83,493.2 L984.43,494.6 L985.03,495.74 L985.63,496.61 L986.23,495.98 L986.83,494.9 L987.43,493.56 L988.03,491.97 L988.63,490.16 L989.23,488.14 L989.83,485.95 L990.43,483.63 L991.03,481.2 L991.63,478.71 L992.23,476.21 L992.83,473.72 L993.43,471.3 L994.03,468.98 L994.63,466.8 L995.23,464.79 L995.82,462.98 L996.42,461.4 L997.02,460.07 L997.62,459 L998.22,458.41 L998.82,459.29 L999.42,460.44 L1000.02,461.85 L1000.62,463.5 L1001.22,465.37 L1001.82,467.44 L1002.42,469.67 L1003.02,472.02 L1003.62,474.47 L1004.22,476.97 L1004.82,479.47 L1005.42,481.94 L1006.02,484.34 L1006.62,486.63 L1007.22,488.77 L1007.82,490.73 L1008.42,492.48 L1009.02,493.99 L1009.62,495.25 L1010.22,496.25 L1010.82,496.38 L1011.42,495.42 L1012.02,494.2 L1012.62,492.72 L1013.22,491.01 L1013.82,489.08 L1014.42,486.97 L1015.02,484.7 L1015.62,482.32 L1016.22,479.85 L1016.82,477.35 L1017.42,474.85 L1018.02,472.39 L1018.62,470.02 L1019.22,467.77 L1019.82,465.68 L1020.42,463.78 L1021.02,462.09 L1021.62,460.64 L1022.22,459.45 L1022.82,458.53 L1023.42,458.86 L1024.02,459.9 L1024.62,461.2 L1025.22,462.76 L1025.82,464.55 L1026.42,466.56 L1027.02,468.74 L1027.62,471.06 L1028.22,473.49 L1028.82,475.99 L1029.42,478.51 L1030.02,481.02 L1030.62,483.47 L1031.21,485.81 L1031.81,488.03 L1032.41,490.06 L1033.01,491.9 L1033.61,493.51 L1034.21,494.86 L1034.81,495.96 L1035.41,496.62 L1036.01,495.75 L1036.61,494.6 L1037.21,493.19 L1037.81,491.53 L1038.41,489.65 L1039.01,487.57 L1039.61,485.32 L1040.21,482.95 L1040.81,480.49 L1041.41,477.98 L1042.01,475.45 L1042.61,472.97 L1043.21,470.56 L1043.81,468.26 L1044.41,466.11 L1045.01,464.15 L1045.61,462.41 L1046.21,460.9 L1046.81,459.65 L1047.41,458.67 L1048.01,458.71 L1048.61,459.7 L1049.21,460.97 L1049.81,462.49 L1050.41,464.25 L1051.01,466.23 L1051.61,468.39 L1052.21,470.71 L1052.81,473.14 L1053.41,475.64 L1054.01,478.17 L1054.61,480.69 L1055.21,483.16 L1055.81,485.53 L1056.41,487.77 L1057.01,489.84 L1057.61,491.71 L1058.21,493.35 L1058.81,494.74 L1059.41,495.86 L1060.01,496.69 L1060.61,495.84 L1061.21,494.71 L1061.81,493.31 L1062.41,491.67 L1063.01,489.79 L1063.61,487.72 L1064.21,485.48 L1064.81,483.1 L1065.41,480.63 L1066.01,478.11 L1066.61,475.58 L1067.2,473.08 L1067.8,470.65 L1068.4,468.34 L1069,466.18 L1069.6,464.21 L1070.2,462.45 L1070.8,460.93 L1071.4,459.67 L1072,458.69 L1072.6,458.7 L1073.2,459.69 L1073.8,460.95 L1074.4,462.47 L1075,464.23 L1075.6,466.21 L1076.2,468.37 L1076.8,470.68 L1077.4,473.11 L1078,475.61 L1078.6,478.14 L1079.2,480.66 L1079.8,483.13 L1080.4,485.5 L1081,487.75 L1081.6,489.82 L1082.2,491.69 L1082.8,493.33 L1083.4,494.72 L1084,495.85 L1084.6,496.7 C1086.1,496.7 1086.6,485.5 1087.6,477.5 C1090.6,465.5 1102.6,460.5 1122.6,460.5 L1141,460.5" stroke="#888" stroke-width="3.5" fill="none" transform="translate(1,5)"/><rect x="258" y="458.5" width="52" height="14" fill="#999"/><rect x="1141" y="458.5" width="52" height="12" fill="#999"/></g>
<path d="M309,460.5 L338,460.5 C354,461 364,468.5 367,480.5 C368.5,490.5 368.8,496.7 370.2,496.7 L370.2,496.42 L370.8,495.48 L371.4,494.27 L372,492.81 L372.6,491.1 L373.2,489.18 L373.8,487.08 L374.4,484.82 L375,482.43 L375.6,479.97 L376.2,477.47 L376.8,474.96 L377.4,472.5 L378,470.12 L378.6,467.86 L379.2,465.76 L379.8,463.85 L380.4,462.15 L381,460.69 L381.6,459.49 L382.2,458.55 L382.8,458.83 L383.4,459.85 L384,461.13 L384.6,462.67 L385.2,464.44 L385.8,466.42 L386.4,468.57 L387,470.87 L387.6,473.29 L388.19,475.76 L388.79,478.27 L389.39,480.77 L389.99,483.21 L390.59,485.56 L391.19,487.77 L391.79,489.82 L392.39,491.68 L392.99,493.31 L393.59,494.69 L394.19,495.81 L394.79,496.67 L395.39,495.9 L395.99,494.8 L396.59,493.44 L397.19,491.83 L397.79,490 L398.39,487.97 L398.99,485.76 L399.59,483.43 L400.19,480.99 L400.79,478.5 L401.39,475.99 L401.99,473.51 L402.59,471.09 L403.19,468.77 L403.79,466.6 L404.39,464.61 L404.99,462.82 L405.59,461.26 L406.19,459.95 L406.79,458.91 L407.39,458.48 L407.99,459.39 L408.59,460.57 L409.19,462.01 L409.79,463.68 L410.39,465.58 L410.99,467.67 L411.59,469.91 L412.19,472.28 L412.79,474.74 L413.39,477.24 L413.99,479.75 L414.59,482.21 L415.19,484.61 L415.79,486.88 L416.39,489 L416.99,490.94 L417.59,492.66 L418.19,494.15 L418.79,495.38 L419.39,496.35 L419.99,496.28 L420.59,495.29 L421.19,494.03 L421.79,492.52 L422.39,490.78 L422.99,488.82 L423.59,486.69 L424.18,484.4 L424.78,482 L425.38,479.53 L425.98,477.02 L426.58,474.52 L427.18,472.07 L427.78,469.71 L428.38,467.48 L428.98,465.41 L429.58,463.53 L430.18,461.87 L430.78,460.46 L431.38,459.3 L431.98,458.42 L432.58,458.99 L433.18,460.05 L433.78,461.39 L434.38,462.97 L434.98,464.77 L435.58,466.79 L436.18,468.97 L436.78,471.29 L437.38,473.72 L437.98,476.21 L438.58,478.72 L439.18,481.21 L439.78,483.63 L440.38,485.96 L440.98,488.15 L441.58,490.17 L442.18,491.98 L442.78,493.57 L443.38,494.91 L443.98,495.99 L444.58,496.6 L445.18,495.73 L445.78,494.58 L446.38,493.17 L446.98,491.52 L447.58,489.65 L448.18,487.59 L448.78,485.36 L449.38,483 L449.98,480.55 L450.58,478.05 L451.18,475.55 L451.78,473.07 L452.38,470.67 L452.98,468.38 L453.58,466.24 L454.18,464.28 L454.78,462.53 L455.38,461.01 L455.98,459.75 L456.58,458.75 L457.18,458.63 L457.78,459.58 L458.38,460.81 L458.98,462.29 L459.57,464 L460.17,465.94 L460.77,468.05 L461.37,470.32 L461.97,472.71 L462.57,475.18 L463.17,477.68 L463.77,480.19 L464.37,482.64 L464.97,485.02 L465.57,487.27 L466.17,489.36 L466.77,491.26 L467.37,492.95 L467.97,494.39 L468.57,495.57 L469.17,496.49 L469.77,496.12 L470.37,495.08 L470.97,493.78 L471.57,492.23 L472.17,490.45 L472.77,488.46 L473.37,486.29 L473.97,483.98 L474.57,481.57 L475.17,479.09 L475.77,476.58 L476.37,474.08 L476.97,471.65 L477.57,469.31 L478.17,467.1 L478.77,465.06 L479.37,463.22 L479.97,461.6 L480.57,460.24 L481.17,459.13 L481.77,458.31 L482.37,459.16 L482.97,460.27 L483.57,461.65 L484.17,463.27 L484.77,465.12 L485.37,467.16 L485.97,469.37 L486.57,471.72 L487.17,474.16 L487.77,476.65 L488.37,479.16 L488.97,481.64 L489.57,484.05 L490.17,486.36 L490.77,488.52 L491.37,490.5 L491.97,492.28 L492.57,493.82 L493.17,495.12 L493.77,496.15 L494.37,496.47 L494.97,495.54 L495.56,494.35 L496.16,492.9 L496.76,491.21 L497.36,489.3 L497.96,487.2 L498.56,484.95 L499.16,482.57 L499.76,480.11 L500.36,477.61 L500.96,475.11 L501.56,472.64 L502.16,470.26 L502.76,467.99 L503.36,465.88 L503.96,463.95 L504.56,462.24 L505.16,460.77 L505.76,459.55 L506.36,458.6 L506.96,458.78 L507.56,459.79 L508.16,461.07 L508.76,462.61 L509.36,464.38 L509.96,466.36 L510.56,468.53 L511.16,470.84 L511.76,473.26 L512.36,475.76 L512.96,478.28 L513.56,480.79 L514.16,483.24 L514.76,485.6 L515.36,487.83 L515.96,489.88 L516.56,491.74 L517.16,493.37 L517.76,494.75 L518.36,495.87 L518.96,496.69 L519.56,495.84 L520.16,494.72 L520.76,493.33 L521.36,491.69 L521.96,489.83 L522.56,487.77 L523.16,485.54 L523.76,483.18 L524.36,480.72 L524.96,478.21 L525.56,475.69 L526.16,473.19 L526.76,470.77 L527.36,468.47 L527.96,466.3 L528.56,464.33 L529.16,462.56 L529.76,461.03 L530.36,459.76 L530.95,458.75 L531.55,458.62 L532.15,459.58 L532.75,460.8 L533.35,462.27 L533.95,463.98 L534.55,465.91 L535.15,468.02 L535.75,470.28 L536.35,472.66 L536.95,475.12 L537.55,477.62 L538.15,480.11 L538.75,482.57 L539.35,484.94 L539.95,487.19 L540.55,489.28 L541.15,491.19 L541.75,492.88 L542.35,494.33 L542.95,495.52 L543.55,496.45 L544.15,496.17 L544.75,495.15 L545.35,493.87 L545.95,492.33 L546.55,490.57 L547.15,488.59 L547.75,486.44 L548.35,484.15 L548.95,481.75 L549.55,479.27 L550.15,476.77 L550.75,474.28 L551.35,471.84 L551.95,469.5 L552.55,467.28 L553.15,465.23 L553.75,463.38 L554.35,461.75 L554.95,460.36 L555.55,459.22 L556.15,458.36 L556.75,459.08 L557.35,460.2 L557.95,461.6 L558.55,463.25 L559.15,465.14 L559.75,467.23 L560.35,469.5 L560.95,471.91 L561.55,474.41 L562.15,476.96 L562.75,479.53 L563.35,482.06 L563.95,484.51 L564.55,486.84 L565.15,489.01 L565.75,490.99 L566.35,492.74 L566.94,494.25 L567.54,495.49 L568.14,496.44 L568.74,496.15 L569.34,495.1 L569.94,493.77 L570.54,492.18 L571.14,490.35 L571.74,488.3 L572.34,486.07 L572.94,483.69 L573.54,481.21 L574.14,478.67 L574.74,476.1 L575.34,473.56 L575.94,471.08 L576.54,468.72 L577.14,466.51 L577.74,464.48 L578.34,462.67 L578.94,461.1 L579.54,459.79 L580.14,458.76 L580.74,458.63 L581.34,459.61 L581.94,460.88 L582.54,462.41 L583.14,464.18 L583.74,466.18 L584.34,468.37 L584.94,470.71 L585.54,473.17 L586.14,475.71 L586.74,478.27 L587.34,480.82 L587.94,483.32 L588.54,485.71 L589.14,487.97 L589.74,490.04 L590.34,491.91 L590.94,493.54 L591.54,494.91 L592.14,496.01 L592.74,496.57 L593.34,495.65 L593.94,494.46 L594.54,492.99 L595.14,491.27 L595.74,489.33 L596.34,487.18 L596.94,484.88 L597.54,482.44 L598.14,479.92 L598.74,477.36 L599.34,474.8 L599.94,472.29 L600.54,469.86 L601.14,467.57 L601.74,465.45 L602.34,463.53 L602.93,461.83 L603.53,460.4 L604.13,459.23 L604.73,458.35 L605.33,459.1 L605.93,460.22 L606.53,461.62 L607.13,463.28 L607.73,465.17 L608.33,467.27 L608.93,469.54 L609.53,471.95 L610.13,474.46 L610.73,477.01 L611.33,479.58 L611.93,482.1 L612.53,484.55 L613.13,486.88 L613.73,489.05 L614.33,491.02 L614.93,492.77 L615.53,494.27 L616.13,495.51 L616.73,496.46 L617.33,496.14 L617.93,495.08 L618.53,493.74 L619.13,492.15 L619.73,490.31 L620.33,488.26 L620.93,486.03 L621.53,483.65 L622.13,481.16 L622.73,478.62 L623.33,476.05 L623.93,473.51 L624.53,471.04 L625.13,468.68 L625.73,466.47 L626.33,464.44 L626.93,462.63 L627.53,461.07 L628.13,459.77 L628.73,458.75 L629.33,458.65 L629.93,459.64 L630.53,460.9 L631.13,462.44 L631.73,464.22 L632.33,466.22 L632.93,468.41 L633.53,470.76 L634.13,473.22 L634.73,475.75 L635.33,478.32 L635.93,480.87 L636.53,483.36 L637.13,485.76 L637.73,488.01 L638.32,490.08 L638.92,491.94 L639.52,493.57 L640.12,494.94 L640.72,496.03 L641.32,496.55 L641.92,495.63 L642.52,494.43 L643.12,492.96 L643.72,491.24 L644.32,489.29 L644.92,487.14 L645.52,484.83 L646.12,482.39 L646.72,479.87 L647.32,477.31 L647.92,474.75 L648.52,472.24 L649.12,469.82 L649.72,467.53 L650.32,465.41 L650.92,463.49 L651.52,461.8 L652.12,460.37 L652.72,459.21 L653.32,458.34 L653.92,459.12 L654.52,460.25 L655.12,461.65 L655.72,463.32 L656.32,465.21 L656.92,467.31 L657.52,469.59 L658.12,472 L658.72,474.5 L659.32,477.06 L659.92,479.62 L660.52,482.15 L661.12,484.6 L661.72,486.92 L662.32,489.09 L662.92,491.06 L663.52,492.8 L664.12,494.3 L664.72,495.53 L665.32,496.48 L665.92,496.12 L666.52,495.06 L667.12,493.72 L667.72,492.11 L668.32,490.27 L668.92,488.22 L669.52,485.98 L670.12,483.6 L670.72,481.12 L671.32,478.57 L671.92,476 L672.52,473.46 L673.12,470.99 L673.72,468.63 L674.31,466.43 L674.91,464.4 L675.51,462.6 L676.11,461.04 L676.71,459.75 L677.31,458.73 L677.91,458.66 L678.51,459.66 L679.11,460.93 L679.71,462.47 L680.31,464.25 L680.91,466.26 L681.51,468.45 L682.11,470.8 L682.71,473.27 L683.31,475.8 L683.91,478.37 L684.51,480.92 L685.11,483.41 L685.71,485.8 L686.31,488.05 L686.91,490.12 L687.51,491.98 L688.11,493.6 L688.71,494.96 L689.31,496.05 L689.91,496.54 L690.51,495.61 L691.11,494.41 L691.71,492.93 L692.31,491.2 L692.91,489.25 L693.51,487.1 L694.11,484.79 L694.71,482.35 L695.31,479.82 L695.91,477.26 L696.51,474.7 L697.11,472.19 L697.71,469.77 L698.31,467.49 L698.91,465.37 L699.51,463.46 L700.11,461.78 L700.71,460.35 L701.31,459.19 L701.91,458.32 L702.51,459.13 L703.11,460.27 L703.71,461.68 L704.31,463.35 L704.91,465.25 L705.51,467.36 L706.11,469.63 L706.71,472.05 L707.31,474.55 L707.91,477.11 L708.51,479.67 L709.11,482.2 L709.7,484.64 L710.3,486.97 L710.9,489.13 L711.5,491.09 L712.1,492.84 L712.7,494.33 L713.3,495.55 L713.9,496.49 L714.5,496.1 L715.1,495.03 L715.7,493.69 L716.3,492.08 L716.9,490.24 L717.5,488.18 L718.1,485.94 L718.7,483.56 L719.3,481.07 L719.9,478.52 L720.5,475.95 L721.1,473.42 L721.7,470.95 L722.3,468.59 L722.9,466.39 L723.5,464.37 L724.1,462.57 L724.7,461.02 L725.3,459.73 L725.9,458.71 L726.5,458.68 L727.1,459.68 L727.7,460.96 L728.3,462.5 L728.9,464.29 L729.5,466.3 L730.1,468.5 L730.7,470.85 L731.3,473.31 L731.9,475.85 L732.5,478.42 L733.1,480.97 L733.7,483.46 L734.3,485.84 L734.9,488.09 L735.5,490.16 L736.1,492.01 L736.7,493.63 L737.3,494.98 L737.9,496.06 L738.5,496.52 L739.1,495.59 L739.7,494.38 L740.3,492.9 L740.9,491.17 L741.5,489.21 L742.1,487.06 L742.7,484.74 L743.3,482.3 L743.9,479.78 L744.5,477.21 L745.1,474.65 L745.69,472.15 L746.29,469.73 L746.89,467.45 L747.49,465.33 L748.09,463.42 L748.69,461.75 L749.29,460.32 L749.89,459.17 L750.49,458.31 L751.09,459.18 L751.69,460.38 L752.29,461.86 L752.89,463.61 L753.49,465.61 L754.09,467.81 L754.69,470.2 L755.29,472.71 L755.89,475.32 L756.49,477.96 L757.09,480.6 L757.69,483.17 L758.29,485.65 L758.89,487.98 L759.49,490.11 L760.09,492.03 L760.69,493.69 L761.29,495.07 L761.89,496.16 L762.49,496.41 L763.09,495.41 L763.69,494.11 L764.29,492.52 L764.89,490.68 L765.49,488.6 L766.09,486.32 L766.69,483.89 L767.29,481.33 L767.89,478.71 L768.49,476.06 L769.09,473.44 L769.69,470.9 L770.29,468.47 L770.89,466.21 L771.49,464.15 L772.09,462.33 L772.69,460.77 L773.29,459.49 L773.89,458.51 L774.49,458.88 L775.09,459.9 L775.69,461.18 L776.29,462.71 L776.89,464.46 L777.49,466.41 L778.09,468.54 L778.69,470.81 L779.29,473.19 L779.89,475.63 L780.49,478.11 L781.08,480.58 L781.68,482.99 L782.28,485.32 L782.88,487.53 L783.48,489.58 L784.08,491.43 L784.68,493.08 L785.28,494.48 L785.88,495.64 L786.48,496.53 L787.08,496.09 L787.68,495.06 L788.28,493.77 L788.88,492.24 L789.48,490.48 L790.08,488.52 L790.68,486.38 L791.28,484.11 L791.88,481.73 L792.48,479.28 L793.08,476.8 L793.68,474.33 L794.28,471.92 L794.88,469.59 L795.48,467.39 L796.08,465.35 L796.68,463.5 L797.28,461.87 L797.88,460.47 L798.48,459.33 L799.08,458.44 L799.68,458.95 L800.28,460.01 L800.88,461.33 L801.48,462.9 L802.08,464.69 L802.68,466.69 L803.28,468.87 L803.88,471.18 L804.48,473.6 L805.08,476.09 L805.68,478.59 L806.28,481.08 L806.88,483.51 L807.48,485.84 L808.08,488.04 L808.68,490.06 L809.28,491.89 L809.88,493.49 L810.48,494.84 L811.08,495.93 L811.68,496.65 L812.28,495.79 L812.88,494.66 L813.48,493.27 L814.08,491.64 L814.68,489.78 L815.28,487.73 L815.88,485.51 L816.48,483.17 L817.07,480.73 L817.67,478.23 L818.27,475.73 L818.87,473.25 L819.47,470.84 L820.07,468.55 L820.67,466.39 L821.27,464.42 L821.87,462.66 L822.47,461.12 L823.07,459.84 L823.67,458.82 L824.27,458.56 L824.87,459.49 L825.47,460.69 L826.07,462.15 L826.67,463.85 L827.27,465.76 L827.87,467.86 L828.47,470.11 L829.07,472.49 L829.67,474.95 L830.27,477.45 L830.87,479.95 L831.47,482.41 L832.07,484.79 L832.67,487.05 L833.27,489.16 L833.87,491.08 L834.47,492.79 L835.07,494.25 L835.67,495.46 L836.27,496.41 L836.87,496.21 L837.47,495.21 L838.07,493.94 L838.67,492.41 L839.27,490.65 L839.87,488.69 L840.47,486.54 L841.07,484.25 L841.67,481.85 L842.27,479.37 L842.87,476.87 L843.47,474.37 L844.07,471.93 L844.67,469.58 L845.27,467.36 L845.87,465.3 L846.47,463.43 L847.07,461.79 L847.67,460.39 L848.27,459.25 L848.87,458.38 L849.47,459.03 L850.07,460.11 L850.67,461.45 L851.27,463.04 L851.87,464.86 L852.46,466.88 L853.06,469.07 L853.66,471.39 L854.26,473.82 L854.86,476.31 L855.46,478.81 L856.06,481.3 L856.66,483.72 L857.26,486.04 L857.86,488.22 L858.46,490.23 L859.06,492.04 L859.66,493.61 L860.26,494.94 L860.86,496.01 L861.46,496.58 L862.06,495.7 L862.66,494.55 L863.26,493.14 L863.86,491.48 L864.46,489.61 L865.06,487.54 L865.66,485.31 L866.26,482.96 L866.86,480.51 L867.46,478.01 L868.06,475.51 L868.66,473.04 L869.26,470.64 L869.86,468.35 L870.46,466.21 L871.06,464.26 L871.66,462.51 L872.26,461 L872.86,459.74 L873.46,458.74 L874.06,458.63 L874.66,459.59 L875.26,460.81 L875.86,462.29 L876.46,464.01 L877.06,465.93 L877.66,468.05 L878.26,470.32 L878.86,472.7 L879.46,475.17 L880.06,477.67 L880.66,480.17 L881.26,482.63 L881.86,485 L882.46,487.25 L883.06,489.34 L883.66,491.24 L884.26,492.92 L884.86,494.37 L885.46,495.56 L886.06,496.48 L886.66,496.14 L887.26,495.11 L887.86,493.81 L888.45,492.27 L889.05,490.49 L889.65,488.51 L890.25,486.35 L890.85,484.04 L891.45,481.63 L892.05,479.15 L892.65,476.65 L893.25,474.16 L893.85,471.72 L894.45,469.38 L895.05,467.17 L895.65,465.12 L896.25,463.28 L896.85,461.66 L897.45,460.28 L898.05,459.16 L898.65,458.32 L899.25,459.12 L899.85,460.22 L900.45,461.59 L901.05,463.2 L901.65,465.03 L902.25,467.06 L902.85,469.27 L903.45,471.6 L904.05,474.04 L904.65,476.53 L905.25,479.03 L905.85,481.51 L906.45,483.93 L907.05,486.24 L907.65,488.41 L908.25,490.4 L908.85,492.18 L909.45,493.74 L910.05,495.05 L910.65,496.09 L911.25,496.52 L911.85,495.61 L912.45,494.43 L913.05,493 L913.65,491.33 L914.25,489.44 L914.85,487.35 L915.45,485.11 L916.05,482.74 L916.65,480.29 L917.25,477.79 L917.85,475.29 L918.45,472.82 L919.05,470.43 L919.65,468.16 L920.25,466.03 L920.85,464.09 L921.45,462.37 L922.05,460.88 L922.65,459.64 L923.25,458.67 L923.85,458.7 L924.44,459.68 L925.04,460.93 L925.64,462.43 L926.24,464.17 L926.84,466.11 L927.44,468.24 L928.04,470.52 L928.64,472.92 L929.24,475.39 L929.84,477.89 L930.44,480.39 L931.04,482.84 L931.64,485.2 L932.24,487.44 L932.84,489.51 L933.44,491.4 L934.04,493.06 L934.64,494.48 L935.24,495.65 L935.84,496.55 L936.44,496.06 L937.04,495 L937.64,493.69 L938.24,492.12 L938.84,490.32 L939.44,488.32 L940.04,486.15 L940.64,483.84 L941.24,481.42 L941.84,478.93 L942.44,476.43 L943.04,473.94 L943.64,471.51 L944.24,469.18 L944.84,466.98 L945.44,464.95 L946.04,463.13 L946.64,461.53 L947.24,460.17 L947.84,459.08 L948.44,458.35 L949.04,459.2 L949.64,460.33 L950.24,461.72 L950.84,463.35 L951.44,465.2 L952.04,467.25 L952.64,469.47 L953.24,471.81 L953.84,474.25 L954.44,476.75 L955.04,479.25 L955.64,481.73 L956.24,484.14 L956.84,486.43 L957.44,488.59 L958.04,490.56 L958.64,492.33 L959.24,493.87 L959.83,495.15 L960.43,496.17 L961.03,496.45 L961.63,495.52 L962.23,494.32 L962.83,492.86 L963.43,491.17 L964.03,489.26 L964.63,487.16 L965.23,484.91 L965.83,482.53 L966.43,480.07 L967.03,477.57 L967.63,475.07 L968.23,472.61 L968.83,470.23 L969.43,467.96 L970.03,465.86 L970.63,463.93 L971.23,462.23 L971.83,460.76 L972.43,459.54 L973.03,458.6 L973.63,458.78 L974.23,459.78 L974.83,461.05 L975.43,462.58 L976.03,464.33 L976.63,466.29 L977.23,468.44 L977.83,470.73 L978.43,473.13 L979.03,475.61 L979.63,478.11 L980.23,480.61 L980.83,483.05 L981.43,485.4 L982.03,487.63 L982.63,489.69 L983.23,491.55 L983.83,493.2 L984.43,494.6 L985.03,495.74 L985.63,496.61 L986.23,495.98 L986.83,494.9 L987.43,493.56 L988.03,491.97 L988.63,490.16 L989.23,488.14 L989.83,485.95 L990.43,483.63 L991.03,481.2 L991.63,478.71 L992.23,476.21 L992.83,473.72 L993.43,471.3 L994.03,468.98 L994.63,466.8 L995.23,464.79 L995.82,462.98 L996.42,461.4 L997.02,460.07 L997.62,459 L998.22,458.41 L998.82,459.29 L999.42,460.44 L1000.02,461.85 L1000.62,463.5 L1001.22,465.37 L1001.82,467.44 L1002.42,469.67 L1003.02,472.02 L1003.62,474.47 L1004.22,476.97 L1004.82,479.47 L1005.42,481.94 L1006.02,484.34 L1006.62,486.63 L1007.22,488.77 L1007.82,490.73 L1008.42,492.48 L1009.02,493.99 L1009.62,495.25 L1010.22,496.25 L1010.82,496.38 L1011.42,495.42 L1012.02,494.2 L1012.62,492.72 L1013.22,491.01 L1013.82,489.08 L1014.42,486.97 L1015.02,484.7 L1015.62,482.32 L1016.22,479.85 L1016.82,477.35 L1017.42,474.85 L1018.02,472.39 L1018.62,470.02 L1019.22,467.77 L1019.82,465.68 L1020.42,463.78 L1021.02,462.09 L1021.62,460.64 L1022.22,459.45 L1022.82,458.53 L1023.42,458.86 L1024.02,459.9 L1024.62,461.2 L1025.22,462.76 L1025.82,464.55 L1026.42,466.56 L1027.02,468.74 L1027.62,471.06 L1028.22,473.49 L1028.82,475.99 L1029.42,478.51 L1030.02,481.02 L1030.62,483.47 L1031.21,485.81 L1031.81,488.03 L1032.41,490.06 L1033.01,491.9 L1033.61,493.51 L1034.21,494.86 L1034.81,495.96 L1035.41,496.62 L1036.01,495.75 L1036.61,494.6 L1037.21,493.19 L1037.81,491.53 L1038.41,489.65 L1039.01,487.57 L1039.61,485.32 L1040.21,482.95 L1040.81,480.49 L1041.41,477.98 L1042.01,475.45 L1042.61,472.97 L1043.21,470.56 L1043.81,468.26 L1044.41,466.11 L1045.01,464.15 L1045.61,462.41 L1046.21,460.9 L1046.81,459.65 L1047.41,458.67 L1048.01,458.71 L1048.61,459.7 L1049.21,460.97 L1049.81,462.49 L1050.41,464.25 L1051.01,466.23 L1051.61,468.39 L1052.21,470.71 L1052.81,473.14 L1053.41,475.64 L1054.01,478.17 L1054.61,480.69 L1055.21,483.16 L1055.81,485.53 L1056.41,487.77 L1057.01,489.84 L1057.61,491.71 L1058.21,493.35 L1058.81,494.74 L1059.41,495.86 L1060.01,496.69 L1060.61,495.84 L1061.21,494.71 L1061.81,493.31 L1062.41,491.67 L1063.01,489.79 L1063.61,487.72 L1064.21,485.48 L1064.81,483.1 L1065.41,480.63 L1066.01,478.11 L1066.61,475.58 L1067.2,473.08 L1067.8,470.65 L1068.4,468.34 L1069,466.18 L1069.6,464.21 L1070.2,462.45 L1070.8,460.93 L1071.4,459.67 L1072,458.69 L1072.6,458.7 L1073.2,459.69 L1073.8,460.95 L1074.4,462.47 L1075,464.23 L1075.6,466.21 L1076.2,468.37 L1076.8,470.68 L1077.4,473.11 L1078,475.61 L1078.6,478.14 L1079.2,480.66 L1079.8,483.13 L1080.4,485.5 L1081,487.75 L1081.6,489.82 L1082.2,491.69 L1082.8,493.33 L1083.4,494.72 L1084,495.85 L1084.6,496.7 C1086.1,496.7 1086.6,485.5 1087.6,477.5 C1090.6,465.5 1102.6,460.5 1122.6,460.5 L1141,460.5" stroke="#111" stroke-width="3.3" fill="none" stroke-linejoin="round"/>
<rect x="252" y="455.1" width="11.7" height="10.8" fill="#f3f2ee" stroke="#dcdcdc" stroke-width="0.5"/>
<rect x="253.07" y="455.91" width="4.81" height="9.18" fill="#f6f1dc"/>
<path d="M290,453 C296.7,453 297.65,456.2 301.45,456.2 L308.48,456.11 Q310,456.2 310,457.92 L310,463.08 Q310,464.8 308.48,464.89 L301.45,464.8 C297.65,464.8 296.7,468 290,468 Z" fill="#232325"/>
<path d="M296.7,459.64 L308.1,459.64" stroke="#3c3c3e" stroke-width="1.5"/>
<rect x="262.7" y="453" width="28.3" height="15" fill="#303136"/>
<rect x="262.7" y="455.1" width="28.3" height="10.8" fill="#53555c"/>
<rect x="262.7" y="454.65" width="28.3" height="1.2" fill="#b4b5ba"/>
<rect x="262.7" y="465.15" width="28.3" height="1.2" fill="#b4b5ba"/>
<g opacity="0.99"><text x="0" y="0" transform="translate(276.85,462.44) scale(-1.05,1)" text-anchor="middle" font-family="Liberation Sans" font-weight="bold" font-size="5.4" fill="#f4f4f4" letter-spacing="0.65">ACVEE</text></g>
<rect x="1183.2" y="455.9" width="10.6" height="9.2" fill="#a0a0a0"/>
<rect x="1183.2" y="455.9" width="10.6" height="1.61" fill="#bdbdbd"/>
<path d="M1139.8,457.42 Q1139.8,455.88 1141.89,455.88 L1145.02,456.32 C1149.37,456.1 1151.98,453.4 1158.2,453.4 L1158.2,467.6 C1151.98,467.6 1149.37,464.9 1145.02,464.68 L1141.89,465.12 Q1139.8,465.12 1139.8,463.58 Z" fill="#232325"/>
<rect x="1157.2" y="453.4" width="27" height="14.2" fill="#303136"/>
<rect x="1157.2" y="455.53" width="27" height="9.94" fill="#53555c"/>
<rect x="1157.2" y="454.96" width="27" height="1.28" fill="#b4b5ba"/>
<rect x="1157.2" y="464.76" width="27" height="1.28" fill="#b4b5ba"/>
<g transform="translate(1170.7,460.5) scale(0.93)" fill="#f4f4f4" stroke="#f4f4f4"><circle cx="-6.5" cy="0" r="1.9" stroke="none"/><path d="M-6,0 H6 M-3.2,0 L-1.2,-2.9 H2.2 M-1.8,0 L0.4,2.9 H2.6" fill="none" stroke-width="1.3"/><path d="M7.5,0 L5,-1.7 V1.7 Z" stroke="none"/><rect x="2" y="-3.9" width="2" height="2" stroke="none"/><circle cx="3.2" cy="2.9" r="1.25" stroke="none"/></g>
<g filter="url(#sh2)" opacity="0.35"><path d="M111,641 L161,641 C163.5,641 164.3,642 164.6,645 L165.3,652 C165.8,656.3 167.6,656.3 168.6,656.3 L168.6,656.29 L169.2,656.24 L169.8,656.13 L170.4,655.98 L171,655.78 L171.6,655.53 L172.2,655.24 L172.8,654.91 L173.4,654.53 L174,654.12 L174.6,653.67 L175.2,653.19 L175.8,652.68 L176.4,652.14 L177,651.58 L177.6,651 L178.2,650.41 L178.8,649.8 L179.4,649.19 L180,648.57 L180.6,647.96 L181.2,647.35 L181.8,646.75 L182.4,646.16 L183,645.59 L183.6,645.04 L184.2,644.51 L184.8,644.01 L185.4,643.54 L186,643.11 L186.6,642.71 L187.19,642.35 L187.79,642.03 L188.39,641.76 L188.99,641.53 L189.59,641.35 L190.19,641.22 L190.79,641.13 L191.39,641.1 L191.99,641.12 L192.59,641.18 L193.19,641.3 L193.79,641.46 L194.39,641.67 L194.99,641.93 L195.59,642.23 L196.19,642.58 L196.79,642.96 L197.39,643.38 L197.99,643.84 L198.59,644.33 L199.19,644.85 L199.79,645.39 L200.39,645.96 L200.99,646.54 L201.59,647.14 L202.19,647.74 L202.79,648.36 L203.39,648.97 L203.99,649.59 L204.59,650.19 L205.19,650.79 L205.79,651.38 L206.39,651.94 L206.99,652.49 L207.59,653.01 L208.19,653.5 L208.79,653.97 L209.39,654.39 L209.99,654.78 L210.59,655.13 L211.19,655.44 L211.79,655.7 L212.39,655.92 L212.99,656.09 L213.59,656.21 L214.19,656.28 L214.79,656.3 L215.39,656.27 L215.99,656.19 L216.59,656.07 L217.19,655.89 L217.79,655.67 L218.39,655.4 L218.99,655.09 L219.59,654.73 L220.19,654.34 L220.79,653.91 L221.39,653.44 L221.99,652.95 L222.59,652.42 L223.19,651.88 L223.79,651.31 L224.38,650.72 L224.98,650.12 L225.58,649.51 L226.18,648.9 L226.78,648.28 L227.38,647.67 L227.98,647.06 L228.58,646.47 L229.18,645.88 L229.78,645.32 L230.38,644.78 L230.98,644.27 L231.58,643.78 L232.18,643.33 L232.78,642.91 L233.38,642.53 L233.98,642.19 L234.58,641.9 L235.18,641.64 L235.78,641.44 L236.38,641.28 L236.98,641.17 L237.58,641.11 L238.18,641.1 L238.78,641.14 L239.38,641.24 L239.98,641.38 L240.58,641.57 L241.18,641.82 L241.78,642.1 L242.38,642.44 L242.98,642.81 L243.58,643.23 L244.18,643.68 L244.78,644.17 L245.38,644.69 L245.98,645.23 L246.58,645.8 L247.18,646.39 L247.78,646.99 L248.38,647.61 L248.98,648.23 L249.58,648.86 L250.18,649.49 L250.78,650.11 L251.38,650.72 L251.98,651.31 L252.58,651.89 L253.18,652.45 L253.78,652.98 L254.38,653.48 L254.98,653.95 L255.58,654.39 L256.18,654.78 L256.78,655.14 L257.38,655.45 L257.98,655.71 L258.58,655.93 L259.18,656.1 L259.78,656.22 L260.38,656.28 L260.97,656.3 L261.57,656.26 L262.17,656.17 L262.77,656.04 L263.37,655.85 L263.97,655.61 L264.57,655.33 L265.17,655 L265.77,654.62 L266.37,654.21 L266.97,653.76 L267.57,653.28 L268.17,652.76 L268.77,652.22 L269.37,651.65 L269.97,651.07 L270.57,650.46 L271.17,649.85 L271.77,649.23 L272.37,648.6 L272.97,647.97 L273.57,647.35 L274.17,646.74 L274.77,646.14 L275.37,645.56 L275.97,645 L276.57,644.47 L277.17,643.96 L277.77,643.49 L278.37,643.05 L278.97,642.65 L279.57,642.29 L280.17,641.98 L280.77,641.71 L281.37,641.49 L281.97,641.31 L282.57,641.19 L283.17,641.12 L283.77,641.1 L284.37,641.13 L284.97,641.21 L285.57,641.34 L286.17,641.51 L286.77,641.73 L287.37,642 L287.97,642.31 L288.57,642.66 L289.17,643.05 L289.77,643.48 L290.37,643.94 L290.97,644.43 L291.57,644.94 L292.17,645.49 L292.77,646.05 L293.37,646.63 L293.97,647.22 L294.57,647.83 L295.17,648.44 L295.77,649.05 L296.37,649.65 L296.97,650.26 L297.57,650.85 L298.16,651.43 L298.76,651.99 L299.36,652.53 L299.96,653.04 L300.56,653.53 L301.16,653.98 L301.76,654.41 L302.36,654.79 L302.96,655.14 L303.56,655.44 L304.16,655.7 L304.76,655.91 L305.36,656.08 L305.96,656.2 L306.56,656.28 L307.16,656.3 L307.76,656.27 L308.36,656.2 L308.96,656.08 L309.56,655.91 L310.16,655.69 L310.76,655.43 L311.36,655.12 L311.96,654.78 L312.56,654.39 L313.16,653.97 L313.76,653.51 L314.36,653.02 L314.96,652.51 L315.56,651.97 L316.16,651.4 L316.76,650.82 L317.36,650.23 L317.96,649.63 L318.56,649.02 L319.16,648.41 L319.76,647.8 L320.36,647.2 L320.96,646.61 L321.56,646.03 L322.16,645.46 L322.76,644.92 L323.36,644.4 L323.96,643.92 L324.56,643.46 L325.16,643.03 L325.76,642.64 L326.36,642.29 L326.96,641.99 L327.56,641.72 L328.16,641.5 L328.76,641.33 L329.36,641.21 L329.96,641.13 L330.56,641.1 L331.16,641.12 L331.76,641.19 L332.36,641.31 L332.96,641.48 L333.56,641.7 L334.16,641.96 L334.76,642.27 L335.35,642.62 L335.95,643.01 L336.55,643.44 L337.15,643.9 L337.75,644.4 L338.35,644.92 L338.95,645.47 L339.55,646.03 L340.15,646.62 L340.75,647.22 L341.35,647.83 L341.95,648.45 L342.55,649.06 L343.15,649.68 L343.75,650.29 L344.35,650.88 L344.95,651.47 L345.55,652.03 L346.15,652.58 L346.75,653.09 L347.35,653.58 L347.95,654.04 L348.55,654.46 L349.15,654.84 L349.75,655.19 L350.35,655.49 L350.95,655.74 L351.55,655.95 L352.15,656.11 L352.75,656.22 L353.35,656.29 L353.95,656.3 L354.55,656.26 L355.15,656.17 L355.75,656.04 L356.35,655.85 L356.95,655.62 L357.55,655.34 L358.15,655.02 L358.75,654.66 L359.35,654.25 L359.95,653.81 L360.55,653.34 L361.15,652.84 L361.75,652.31 L362.35,651.75 L362.95,651.18 L363.55,650.59 L364.15,649.98 L364.75,649.37 L365.35,648.75 L365.95,648.14 L366.55,647.52 L367.15,646.92 L367.75,646.33 L368.35,645.75 L368.95,645.19 L369.55,644.65 L370.15,644.15 L370.75,643.67 L371.35,643.22 L371.94,642.81 L372.54,642.44 L373.14,642.11 L373.74,641.83 L374.34,641.59 L374.94,641.39 L375.54,641.25 L376.14,641.15 L376.74,641.1 L377.34,641.11 L377.94,641.16 L378.54,641.27 L379.14,641.43 L379.74,641.63 L380.34,641.89 L380.94,642.18 L381.54,642.53 L382.14,642.91 L382.74,643.34 L383.34,643.8 L383.94,644.29 L384.54,644.82 L385.14,645.37 L385.74,645.94 L386.34,646.53 L386.94,647.14 L387.54,647.75 L388.14,648.38 L388.74,649 L389.34,649.63 L389.94,650.24 L390.54,650.85 L391.14,651.44 L391.74,652.01 L392.34,652.57 L392.94,653.09 L393.54,653.59 L394.14,654.05 L394.74,654.47 L395.34,654.86 L395.94,655.2 L396.54,655.51 L397.14,655.76 L397.74,655.97 L398.34,656.13 L398.94,656.23 L399.54,656.29 L400.14,656.3 L400.74,656.25 L401.34,656.15 L401.94,656.01 L402.54,655.81 L403.14,655.56 L403.74,655.27 L404.34,654.94 L404.94,654.56 L405.54,654.14 L406.14,653.68 L406.74,653.2 L407.34,652.68 L407.94,652.13 L408.54,651.56 L409.13,650.97 L409.73,650.37 L410.33,649.76 L410.93,649.13 L411.53,648.51 L412.13,647.88 L412.73,647.27 L413.33,646.66 L413.93,646.06 L414.53,645.49 L415.13,644.93 L415.73,644.4 L416.33,643.9 L416.93,643.43 L417.53,643 L418.13,642.61 L418.73,642.25 L419.33,641.94 L419.93,641.68 L420.53,641.46 L421.13,641.3 L421.73,641.18 L422.33,641.12 L422.93,641.1 L423.53,641.14 L424.13,641.22 L424.73,641.36 L425.33,641.55 L425.93,641.78 L426.53,642.06 L427.13,642.38 L427.73,642.75 L428.33,643.15 L428.93,643.59 L429.53,644.07 L430.13,644.57 L430.73,645.11 L431.33,645.66 L431.93,646.24 L432.53,646.84 L433.13,647.44 L433.73,648.06 L434.33,648.68 L434.93,649.3 L435.53,649.91 L436.13,650.52 L436.73,651.11 L437.33,651.69 L437.93,652.25 L438.53,652.79 L439.13,653.3 L439.73,653.78 L440.33,654.22 L440.93,654.63 L441.53,654.99 L442.13,655.32 L442.73,655.6 L443.33,655.84 L443.93,656.03 L444.53,656.17 L445.13,656.26 L445.72,656.3 L446.32,656.29 L446.92,656.23 L447.52,656.12 L448.12,655.95 L448.72,655.75 L449.32,655.49 L449.92,655.19 L450.52,654.85 L451.12,654.46 L451.72,654.04 L452.32,653.58 L452.92,653.09 L453.52,652.57 L454.12,652.02 L454.72,651.45 L455.32,650.87 L455.92,650.27 L456.52,649.66 L457.12,649.04 L457.72,648.42 L458.32,647.8 L458.92,647.19 L459.52,646.59 L460.12,646 L460.72,645.43 L461.32,644.88 L461.92,644.36 L462.52,643.86 L463.12,643.4 L463.72,642.98 L464.32,642.59 L464.92,642.24 L465.52,641.94 L466.12,641.68 L466.72,641.46 L467.32,641.3 L467.92,641.18 L468.52,641.12 L469.12,641.1 L469.72,641.14 L470.32,641.22 L470.92,641.35 L471.52,641.54 L472.12,641.77 L472.72,642.04 L473.32,642.36 L473.92,642.72 L474.52,643.12 L475.12,643.56 L475.72,644.03 L476.32,644.53 L476.92,645.06 L477.52,645.62 L478.12,646.19 L478.72,646.78 L479.32,647.39 L479.92,648 L480.52,648.61 L481.12,649.23 L481.72,649.84 L482.32,650.45 L482.91,651.04 L483.51,651.62 L484.11,652.18 L484.71,652.72 L485.31,653.23 L485.91,653.71 L486.51,654.16 L487.11,654.57 L487.71,654.94 L488.31,655.27 L488.91,655.56 L489.51,655.8 L490.11,656 L490.71,656.15 L491.31,656.25 L491.91,656.29 L492.51,656.29 L493.11,656.24 L493.71,656.14 L494.31,655.99 L494.91,655.79 L495.51,655.55 L496.11,655.26 L496.71,654.93 L497.31,654.55 L497.91,654.14 L498.51,653.69 L499.11,653.21 L499.71,652.7 L500.31,652.16 L500.91,651.6 L501.51,651.02 L502.11,650.42 L502.71,649.82 L503.31,649.2 L503.91,648.59 L504.51,647.97 L505.11,647.36 L505.71,646.76 L506.31,646.17 L506.91,645.59 L507.51,645.04 L508.11,644.51 L508.71,644.01 L509.31,643.54 L509.91,643.11 L510.51,642.71 L511.11,642.35 L511.71,642.03 L512.31,641.76 L512.91,641.53 L513.51,641.35 L514.11,641.22 L514.71,641.13 L515.31,641.1 L515.91,641.12 L516.51,641.19 L517.11,641.31 L517.71,641.48 L518.31,641.7 L518.91,641.97 L519.5,642.28 L520.1,642.64 L520.7,643.04 L521.3,643.48 L521.9,643.95 L522.5,644.46 L523.1,644.99 L523.7,645.56 L524.3,646.14 L524.9,646.74 L525.5,647.35 L526.1,647.97 L526.7,648.6 L527.3,649.23 L527.9,649.85 L528.5,650.47 L529.1,651.07 L529.7,651.66 L530.3,652.23 L530.9,652.77 L531.5,653.29 L532.1,653.77 L532.7,654.22 L533.3,654.63 L533.9,655.01 L534.5,655.33 L535.1,655.62 L535.7,655.85 L536.3,656.04 L536.9,656.18 L537.5,656.26 L538.1,656.3 L538.7,656.28 L539.3,656.21 L539.9,656.09 L540.5,655.92 L541.1,655.7 L541.7,655.43 L542.3,655.12 L542.9,654.76 L543.5,654.36 L544.1,653.93 L544.7,653.45 L545.3,652.95 L545.9,652.41 L546.5,651.85 L547.1,651.27 L547.7,650.67 L548.3,650.06 L548.9,649.44 L549.5,648.81 L550.1,648.18 L550.7,647.56 L551.3,646.94 L551.9,646.34 L552.5,645.75 L553.1,645.18 L553.7,644.64 L554.3,644.12 L554.9,643.63 L555.5,643.18 L556.1,642.77 L556.69,642.4 L557.29,642.07 L557.89,641.79 L558.49,641.55 L559.09,641.36 L559.69,641.22 L560.29,641.14 L560.89,641.1 L561.49,641.12 L562.09,641.18 L562.69,641.3 L563.29,641.47 L563.89,641.69 L564.49,641.95 L565.09,642.26 L565.69,642.61 L566.29,643 L566.89,643.43 L567.49,643.9 L568.09,644.4 L568.69,644.92 L569.29,645.47 L569.89,646.05 L570.49,646.64 L571.09,647.25 L571.69,647.86 L572.29,648.48 L572.89,649.11 L573.49,649.72 L574.09,650.34 L574.69,650.94 L575.29,651.53 L575.89,652.09 L576.49,652.64 L577.09,653.16 L577.69,653.65 L578.29,654.1 L578.89,654.52 L579.49,654.9 L580.09,655.24 L580.69,655.54 L581.29,655.78 L581.89,655.99 L582.49,656.14 L583.09,656.24 L583.69,656.29 L584.29,656.29 L584.89,656.24 L585.49,656.14 L586.09,655.99 L586.69,655.79 L587.29,655.55 L587.89,655.25 L588.49,654.92 L589.09,654.54 L589.69,654.12 L590.29,653.67 L590.89,653.18 L591.49,652.66 L592.09,652.12 L592.69,651.55 L593.29,650.96 L593.88,650.36 L594.48,649.75 L595.08,649.13 L595.68,648.51 L596.28,647.89 L596.88,647.27 L597.48,646.67 L598.08,646.07 L598.68,645.5 L599.28,644.94 L599.88,644.42 L600.48,643.92 L601.08,643.45 L601.68,643.02 L602.28,642.62 L602.88,642.27 L603.48,641.96 L604.08,641.7 L604.68,641.48 L605.28,641.31 L605.88,641.19 L606.48,641.12 L607.08,641.1 L607.68,641.13 L608.28,641.21 L608.88,641.34 L609.48,641.52 L610.08,641.75 L610.68,642.02 L611.28,642.33 L611.88,642.69 L612.48,643.08 L613.08,643.51 L613.68,643.98 L614.28,644.48 L614.88,645 L615.48,645.55 L616.08,646.12 L616.68,646.7 L617.28,647.3 L617.88,647.91 L618.48,648.52 L619.08,649.14 L619.68,649.75 L620.28,650.35 L620.88,650.95 L621.48,651.53 L622.08,652.09 L622.68,652.63 L623.28,653.14 L623.88,653.62 L624.48,654.08 L625.08,654.49 L625.68,654.87 L626.28,655.21 L626.88,655.5 L627.48,655.76 L628.08,655.96 L628.68,656.12 L629.28,656.23 L629.88,656.29 L630.47,656.3 L631.07,656.26 L631.67,656.17 L632.27,656.03 L632.87,655.85 L633.47,655.61 L634.07,655.34 L634.67,655.02 L635.27,654.65 L635.87,654.25 L636.47,653.82 L637.07,653.35 L637.67,652.84 L638.27,652.32 L638.87,651.76 L639.47,651.19 L640.07,650.6 L640.67,650 L641.27,649.39 L641.87,648.78 L642.47,648.17 L643.07,647.56 L643.67,646.95 L644.27,646.36 L644.87,645.78 L645.47,645.23 L646.07,644.69 L646.67,644.18 L647.27,643.7 L647.87,643.26 L648.47,642.85 L649.07,642.47 L649.67,642.14 L650.27,641.85 L650.87,641.61 L651.47,641.41 L652.07,641.26 L652.67,641.16 L653.27,641.11 L653.87,641.11 L654.47,641.15 L655.07,641.25 L655.67,641.4 L656.27,641.59 L656.87,641.84 L657.47,642.13 L658.07,642.46 L658.67,642.83 L659.27,643.25 L659.87,643.7 L660.47,644.18 L661.07,644.69 L661.67,645.23 L662.27,645.8 L662.87,646.38 L663.47,646.97 L664.07,647.58 L664.67,648.2 L665.27,648.82 L665.87,649.44 L666.47,650.05 L667.07,650.66 L667.66,651.25 L668.26,651.82 L668.86,652.38 L669.46,652.91 L670.06,653.41 L670.66,653.88 L671.26,654.32 L671.86,654.71 L672.46,655.07 L673.06,655.39 L673.66,655.66 L674.26,655.89 L674.86,656.06 L675.46,656.19 L676.06,656.27 L676.66,656.3 L677.26,656.28 L677.86,656.21 L678.46,656.08 L679.06,655.91 L679.66,655.69 L680.26,655.43 L680.86,655.12 L681.46,654.76 L682.06,654.37 L682.66,653.94 L683.26,653.47 L683.86,652.97 L684.46,652.45 L685.06,651.89 L685.66,651.32 L686.26,650.73 L686.86,650.13 L687.46,649.52 L688.06,648.9 L688.66,648.28 L689.26,647.66 L689.86,647.05 L690.46,646.45 L691.06,645.87 L691.66,645.3 L692.26,644.76 L692.86,644.24 L693.46,643.76 L694.06,643.3 L694.66,642.88 L695.26,642.5 L695.86,642.17 L696.46,641.87 L697.06,641.62 L697.66,641.42 L698.26,641.27 L698.86,641.16 L699.46,641.11 L700.06,641.1 L700.66,641.15 L701.26,641.26 L701.86,641.41 L702.46,641.62 L703.06,641.87 L703.66,642.17 L704.25,642.52 L704.85,642.91 L705.45,643.34 L706.05,643.81 L706.65,644.32 L707.25,644.85 L707.85,645.41 L708.45,646 L709.05,646.6 L709.65,647.22 L710.25,647.84 L710.85,648.48 L711.45,649.11 L712.05,649.75 L712.65,650.37 L713.25,650.99 L713.85,651.58 L714.45,652.16 L715.05,652.71 L715.65,653.24 L716.25,653.73 L716.85,654.19 L717.45,654.61 L718.05,654.99 L718.65,655.32 L719.25,655.61 L719.85,655.85 L720.45,656.04 L721.05,656.18 L721.65,656.27 L722.25,656.3 L722.85,656.28 L723.45,656.21 L724.05,656.08 L724.65,655.9 L725.25,655.68 L725.85,655.4 L726.45,655.08 L727.05,654.71 L727.65,654.3 L728.25,653.85 L728.85,653.37 L729.45,652.85 L730.05,652.3 L730.65,651.73 L731.25,651.14 L731.85,650.53 L732.45,649.9 L733.05,649.27 L733.65,648.64 L734.25,648 L734.85,647.37 L735.45,646.75 L736.05,646.14 L736.65,645.56 L737.25,644.99 L737.85,644.45 L738.45,643.94 L739.05,643.46 L739.65,643.02 L740.25,642.61 L740.85,642.26 L741.44,641.94 L742.04,641.67 L742.64,641.46 L743.24,641.29 L743.84,641.17 L744.44,641.11 L745.04,641.1 L745.64,641.14 L746.24,641.23 L746.84,641.37 L747.44,641.55 L748.04,641.78 L748.64,642.05 L749.24,642.37 L749.84,642.73 L750.44,643.12 L751.04,643.55 L751.64,644.02 L752.24,644.51 L752.84,645.03 L753.44,645.58 L754.04,646.14 L754.64,646.72 L755.24,647.32 L755.84,647.92 L756.44,648.53 L757.04,649.13 L757.64,649.74 L758.24,650.34 L758.84,650.93 L759.44,651.5 L760.04,652.06 L760.64,652.59 L761.24,653.1 L761.84,653.58 L762.44,654.03 L763.04,654.45 L763.64,654.83 L764.24,655.17 L764.84,655.47 L765.44,655.72 L766.04,655.93 L766.64,656.1 L767.24,656.21 L767.84,656.28 L768.44,656.3 L769.04,656.27 L769.64,656.19 L770.24,656.07 L770.84,655.89 L771.44,655.67 L772.04,655.41 L772.64,655.1 L773.24,654.75 L773.84,654.37 L774.44,653.94 L775.04,653.49 L775.64,653 L776.24,652.48 L776.84,651.94 L777.44,651.38 L778.03,650.81 L778.63,650.21 L779.23,649.61 L779.83,649.01 L780.43,648.4 L781.03,647.79 L781.63,647.19 L782.23,646.6 L782.83,646.02 L783.43,645.46 L784.03,644.92 L784.63,644.41 L785.23,643.92 L785.83,643.46 L786.43,643.04 L787.03,642.65 L787.63,642.3 L788.23,641.99 L788.83,641.73 L789.43,641.51 L790.03,641.34 L790.63,641.21 L791.23,641.13 L791.83,641.1 L792.43,641.12 L793.03,641.19 L793.63,641.31 L794.23,641.47 L794.83,641.69 L795.43,641.95 L796.03,642.25 L796.63,642.6 L797.23,642.99 L797.83,643.41 L798.43,643.87 L799.03,644.36 L799.63,644.88 L800.23,645.43 L800.83,645.99 L801.43,646.58 L802.03,647.17 L802.63,647.78 L803.23,648.4 L803.83,649.01 L804.43,649.62 L805.03,650.23 L805.63,650.83 L806.23,651.41 L806.83,651.98 L807.43,652.52 L808.03,653.04 L808.63,653.53 L809.23,653.99 L809.83,654.42 L810.43,654.8 L811.03,655.15 L811.63,655.45 L812.23,655.71 L812.83,655.93 L813.43,656.09 L814.03,656.21 L814.63,656.28 L815.22,656.3 L815.82,656.27 L816.42,656.19 L817.02,656.06 L817.62,655.88 L818.22,655.65 L818.82,655.38 L819.42,655.07 L820.02,654.71 L820.62,654.31 L821.22,653.88 L821.82,653.41 L822.42,652.92 L823.02,652.39 L823.62,651.84 L824.22,651.27 L824.82,650.68 L825.42,650.08 L826.02,649.47 L826.62,648.86 L827.22,648.24 L827.82,647.63 L828.42,647.02 L829.02,646.43 L829.62,645.85 L830.22,645.29 L830.82,644.75 L831.42,644.24 L832.02,643.75 L832.62,643.3 L833.22,642.89 L833.82,642.51 L834.42,642.17 L835.02,641.88 L835.62,641.63 L836.22,641.43 L836.82,641.27 L837.42,641.17 L838.02,641.11 L838.62,641.1 L839.22,641.15 L839.82,641.24 L840.42,641.39 L841.02,641.58 L841.62,641.82 L842.22,642.11 L842.82,642.44 L843.42,642.81 L844.02,643.22 L844.62,643.67 L845.22,644.15 L845.82,644.66 L846.42,645.2 L847.02,645.77 L847.62,646.35 L848.22,646.95 L848.82,647.56 L849.42,648.17 L850.02,648.79 L850.62,649.41 L851.22,650.03 L851.81,650.64 L852.41,651.23 L853.01,651.81 L853.61,652.36 L854.21,652.89 L854.81,653.4 L855.41,653.87 L856.01,654.31 L856.61,654.71 L857.21,655.07 L857.81,655.39 L858.41,655.66 L859.01,655.88 L859.61,656.06 L860.21,656.19 L860.81,656.27 L861.41,656.3 L862.01,656.28 L862.61,656.2 L863.21,656.08 L863.81,655.91 L864.41,655.69 L865.01,655.42 L865.61,655.11 L866.21,654.76 L866.81,654.36 L867.41,653.93 L868.01,653.46 L868.61,652.96 L869.21,652.43 L869.81,651.88 L870.41,651.3 L871.01,650.71 L871.61,650.11 L872.21,649.49 L872.81,648.87 L873.41,648.25 L874.01,647.63 L874.61,647.02 L875.21,646.42 L875.81,645.84 L876.41,645.27 L877.01,644.73 L877.61,644.21 L878.21,643.73 L878.81,643.27 L879.41,642.86 L880.01,642.48 L880.61,642.14 L881.21,641.85 L881.81,641.61 L882.41,641.41 L883.01,641.26 L883.61,641.16 L884.21,641.11 L884.81,641.11 L885.41,641.16 L886.01,641.26 L886.61,641.42 L887.21,641.62 L887.81,641.87 L888.41,642.17 L889,642.51 L889.6,642.9 L890.2,643.32 L890.8,643.78 L891.4,644.27 L892,644.8 L892.6,645.35 L893.2,645.92 L893.8,646.51 L894.4,647.12 L895,647.74 L895.6,648.36 L896.2,648.99 L896.8,649.62 L897.4,650.23 L898,650.84 L898.6,651.43 L899.2,652.01 L899.8,652.56 L900.4,653.09 L901,653.58 L901.6,654.05 L902.2,654.47 L902.8,654.86 L903.4,655.21 L904,655.51 L904.6,655.76 L905.2,655.97 L905.8,656.13 L906.4,656.24 L907,656.29 L907.6,656.3 L908.2,656.25 L908.8,656.15 L909.4,656 L910,655.8 L910.6,655.55 L911.2,655.26 L911.8,654.92 L912.4,654.54 L913,654.12 L913.6,653.66 L914.2,653.17 L914.8,652.65 L915.4,652.1 L916,651.53 L916.6,650.94 L917.2,650.34 L917.8,649.72 L918.4,649.09 L919,648.47 L919.6,647.84 L920.2,647.22 L920.8,646.61 L921.4,646.02 L922,645.44 L922.6,644.89 L923.2,644.36 L923.8,643.86 L924.4,643.39 L925,642.96 L925.6,642.57 L926.19,642.22 L926.79,641.92 L927.39,641.66 L927.99,641.45 L928.59,641.28 L929.19,641.17 L929.79,641.11 L930.39,641.1 L930.99,641.14 L931.59,641.23 L932.19,641.37 L932.79,641.56 L933.39,641.8 L933.99,642.08 L934.59,642.4 L935.19,642.76 L935.79,643.17 L936.39,643.61 L936.99,644.08 L937.59,644.59 L938.19,645.12 L938.79,645.67 L939.39,646.25 L939.99,646.84 L940.59,647.44 L941.19,648.05 L941.79,648.66 L942.39,649.28 L942.99,649.89 L943.59,650.5 L944.19,651.09 L944.79,651.66 L945.39,652.22 L945.99,652.75 L946.59,653.26 L947.19,653.74 L947.79,654.18 L948.39,654.59 L948.99,654.96 L949.59,655.29 L950.19,655.57 L950.79,655.81 L951.39,656.01 L951.99,656.15 L952.59,656.25 L953.19,656.3 L953.79,656.29 L954.39,656.24 L954.99,656.14 L955.59,655.99 L956.19,655.79 L956.79,655.54 L957.39,655.25 L957.99,654.92 L958.59,654.54 L959.19,654.13 L959.79,653.68 L960.39,653.2 L960.99,652.69 L961.59,652.15 L962.19,651.59 L962.78,651.01 L963.38,650.42 L963.98,649.82 L964.58,649.2 L965.18,648.59 L965.78,647.97 L966.38,647.36 L966.98,646.76 L967.58,646.17 L968.18,645.6 L968.78,645.05 L969.38,644.52 L969.98,644.02 L970.58,643.55 L971.18,643.12 L971.78,642.72 L972.38,642.36 L972.98,642.04 L973.58,641.76 L974.18,641.54 L974.78,641.35 L975.38,641.22 L975.98,641.14 L976.58,641.1 L977.18,641.12 L977.78,641.18 L978.38,641.3 L978.98,641.47 L979.58,641.69 L980.18,641.95 L980.78,642.26 L981.38,642.62 L981.98,643.02 L982.58,643.45 L983.18,643.92 L983.78,644.42 L984.38,644.96 L984.98,645.51 L985.58,646.09 L986.18,646.69 L986.78,647.3 L987.38,647.92 L987.98,648.55 L988.58,649.17 L989.18,649.8 L989.78,650.41 L990.38,651.02 L990.98,651.6 L991.58,652.17 L992.18,652.72 L992.78,653.24 L993.38,653.72 L993.98,654.18 L994.58,654.59 L995.18,654.97 L995.78,655.3 L996.38,655.59 L996.98,655.83 L997.58,656.02 L998.18,656.16 L998.78,656.26 L999.38,656.3 L999.97,656.29 L1000.57,656.22 L1001.17,656.11 L1001.77,655.95 L1002.37,655.73 L1002.97,655.47 L1003.57,655.17 L1004.17,654.82 L1004.77,654.42 L1005.37,653.99 L1005.97,653.52 L1006.57,653.02 L1007.17,652.49 L1007.77,651.94 L1008.37,651.36 L1008.97,650.77 L1009.57,650.16 L1010.17,649.54 L1010.77,648.91 L1011.37,648.29 L1011.97,647.66 L1012.57,647.05 L1013.17,646.44 L1013.77,645.85 L1014.37,645.28 L1014.97,644.73 L1015.57,644.21 L1016.17,643.72 L1016.77,643.27 L1017.37,642.85 L1017.97,642.47 L1018.57,642.13 L1019.17,641.84 L1019.77,641.59 L1020.37,641.39 L1020.97,641.25 L1021.57,641.15 L1022.17,641.1 L1022.77,641.11 L1023.37,641.17 L1023.97,641.28 L1024.57,641.44 L1025.17,641.65 L1025.77,641.9 L1026.37,642.21 L1026.97,642.56 L1027.57,642.95 L1028.17,643.38 L1028.77,643.84 L1029.37,644.34 L1029.97,644.87 L1030.57,645.42 L1031.17,646 L1031.77,646.6 L1032.37,647.21 L1032.97,647.83 L1033.57,648.45 L1034.17,649.08 L1034.77,649.71 L1035.37,650.33 L1035.97,650.93 L1036.56,651.53 L1037.16,652.1 L1037.76,652.65 L1038.36,653.17 L1038.96,653.66 L1039.56,654.12 L1040.16,654.54 L1040.76,654.92 L1041.36,655.26 L1041.96,655.56 L1042.56,655.8 L1043.16,656 L1043.76,656.15 L1044.36,656.25 L1044.96,656.3 L1045.56,656.29 L1046.16,656.23 L1046.76,656.12 L1047.36,655.97 L1047.96,655.76 L1048.56,655.5 L1049.16,655.2 L1049.76,654.85 L1050.36,654.46 L1050.96,654.03 L1051.56,653.56 L1052.16,653.06 L1052.76,652.54 L1053.36,651.98 L1053.96,651.4 L1054.56,650.81 L1055.16,650.2 L1055.76,649.58 L1056.36,648.95 L1056.96,648.32 L1057.56,647.7 L1058.16,647.08 L1058.76,646.47 L1059.36,645.88 L1059.96,645.31 L1060.56,644.76 L1061.16,644.23 L1061.76,643.74 L1062.36,643.28 L1062.96,642.86 L1063.56,642.48 L1064.16,642.14 L1064.76,641.85 L1065.36,641.6 L1065.96,641.4 L1066.56,641.25 L1067.16,641.15 L1067.76,641.1 L1068.36,641.11 L1068.96,641.17 L1069.56,641.27 L1070.16,641.43 L1070.76,641.64 L1071.36,641.89 L1071.96,642.2 L1072.56,642.54 L1073.16,642.93 L1073.75,643.36 L1074.35,643.82 L1074.95,644.32 L1075.55,644.84 L1076.15,645.4 L1076.75,645.97 L1077.35,646.57 L1077.95,647.17 L1078.55,647.79 L1079.15,648.42 L1079.75,649.04 L1080.35,649.67 L1080.95,650.28 L1081.55,650.89 L1082.15,651.48 L1082.75,652.06 L1083.35,652.61 L1083.95,653.13 L1084.55,653.62 L1085.15,654.08 L1085.75,654.51 L1086.35,654.89 L1086.95,655.23 L1087.55,655.53 L1088.15,655.78 L1088.75,655.99 L1089.35,656.14 L1089.95,656.24 L1090.55,656.29 L1091.15,656.29 L1091.75,656.24 L1092.35,656.14 L1092.95,655.99 L1093.55,655.78 L1094.15,655.53 L1094.75,655.23 L1095.35,654.89 L1095.95,654.51 L1096.55,654.08 L1097.15,653.62 L1097.75,653.13 L1098.35,652.61 L1098.95,652.06 L1099.55,651.48 L1100.15,650.89 L1100.75,650.28 L1101.35,649.67 L1101.95,649.04 L1102.55,648.42 L1103.15,647.79 L1103.75,647.17 L1104.35,646.56 L1104.95,645.97 L1105.55,645.4 L1106.15,644.84 L1106.75,644.32 L1107.35,643.82 L1107.95,643.36 L1108.55,642.93 L1109.15,642.54 L1109.75,642.2 L1110.34,641.89 L1110.94,641.64 L1111.54,641.43 L1112.14,641.27 L1112.74,641.17 L1113.34,641.11 L1113.94,641.1 L1114.54,641.15 L1115.14,641.24 L1115.74,641.39 L1116.34,641.58 L1116.94,641.82 L1117.54,642.1 L1118.14,642.43 L1118.74,642.8 L1119.34,643.2 L1119.94,643.65 L1120.54,644.12 L1121.14,644.63 L1121.74,645.16 L1122.34,645.72 L1122.94,646.29 L1123.54,646.89 L1124.14,647.49 L1124.74,648.1 L1125.34,648.72 L1125.94,649.33 L1126.54,649.94 L1127.14,650.55 L1127.74,651.14 L1128.34,651.71 L1128.94,652.27 L1129.54,652.8 L1130.14,653.3 L1130.74,653.78 L1131.34,654.22 L1131.94,654.62 L1132.54,654.99 L1133.14,655.31 L1133.74,655.6 L1134.34,655.83 L1134.94,656.02 L1135.54,656.16 L1136.14,656.25 L1136.74,656.3 L1137.34,656.29 L1137.94,656.23 L1138.54,656.13 L1139.14,655.97 L1139.74,655.77 L1140.34,655.52 L1140.94,655.22 L1141.54,654.89 L1142.14,654.51 L1142.74,654.09 L1143.34,653.64 L1143.94,653.16 L1144.54,652.65 L1145.14,652.11 L1145.74,651.55 L1146.34,650.97 L1146.94,650.37 L1147.53,649.76 L1148.13,649.15 L1148.73,648.54 L1149.33,647.92 L1149.93,647.31 L1150.53,646.71 L1151.13,646.12 L1151.73,645.55 L1152.33,645 L1152.93,644.48 L1153.53,643.98 L1154.13,643.51 L1154.73,643.08 L1155.33,642.69 L1155.93,642.33 L1156.53,642.01 L1157.13,641.74 L1157.73,641.52 L1158.33,641.34 L1158.93,641.21 L1159.53,641.13 L1160.13,641.1 L1160.73,641.12 L1161.33,641.19 L1161.93,641.3 L1162.53,641.47 L1163.13,641.68 L1163.73,641.93 L1164.33,642.23 L1164.93,642.57 L1165.53,642.95 L1166.13,643.37 L1166.73,643.82 L1167.33,644.3 L1167.93,644.81 L1168.53,645.34 L1169.13,645.9 L1169.73,646.48 L1170.33,647.07 L1170.93,647.67 L1171.53,648.27 L1172.13,648.88 L1172.73,649.49 L1173.33,650.09 L1173.93,650.69 L1174.53,651.27 L1175.13,651.83 L1175.73,652.38 L1176.33,652.9 L1176.93,653.39 L1177.53,653.86 L1178.13,654.29 L1178.73,654.68 L1179.33,655.04 L1179.93,655.35 L1180.53,655.63 L1181.13,655.85 L1181.73,656.04 L1182.33,656.17 L1182.93,656.26 L1183.53,656.3 L1184.13,656.29 L1184.72,656.23 L1185.32,656.12 L1185.92,655.97 L1186.52,655.76 L1187.12,655.52 L1187.72,655.23 L1188.32,654.89 L1188.92,654.52 L1189.52,654.11 L1190.12,653.67 L1190.72,653.19 L1191.32,652.68 L1191.92,652.15 L1192.52,651.6 L1193.12,651.03 L1193.72,650.44 L1194.32,649.84 L1194.92,649.24 L1195.52,648.63 L1196.12,648.02 L1196.72,647.41 L1197.32,646.82 L1197.92,646.23 L1198.52,645.67 L1199.12,645.12 L1199.72,644.59 L1200.32,644.09 L1200.92,643.62 L1201.52,643.19 L1202.12,642.79 L1202.72,642.42 L1203.32,642.1 L1203.92,641.82 L1204.52,641.58 L1205.12,641.39 L1205.72,641.25 L1206.32,641.15 L1206.92,641.11 L1207.52,641.11 L1208.12,641.16 L1208.72,641.26 L1209.32,641.42 L1209.92,641.62 L1210.52,641.88 L1211.12,642.18 L1211.72,642.52 L1212.32,642.9 L1212.92,643.33 L1213.52,643.79 L1214.12,644.29 L1214.72,644.81 L1215.32,645.36 L1215.92,645.93 L1216.52,646.53 L1217.12,647.13 L1217.72,647.75 L1218.32,648.38 L1218.92,649 L1219.52,649.63 L1220.12,650.25 L1220.72,650.85 L1221.31,651.45 L1221.91,652.02 L1222.51,652.57 L1223.11,653.1 L1223.71,653.59 L1224.31,654.06 L1224.91,654.48 L1225.51,654.87 L1226.11,655.21 L1226.71,655.51 L1227.31,655.77 L1227.91,655.97 L1228.51,656.13 L1229.11,656.24 L1229.71,656.29 L1230.31,656.3 L1230.91,656.25 L1231.51,656.15 L1232.11,656 L1232.71,655.8 L1233.31,655.55 L1233.91,655.25 L1234.51,654.91 L1235.11,654.53 L1235.71,654.11 L1236.31,653.65 L1236.91,653.16 L1237.51,652.64 L1238.11,652.09 L1238.71,651.52 L1239.31,650.93 L1239.91,650.32 L1240.51,649.71 L1241.11,649.08 L1241.71,648.46 L1242.31,647.83 L1242.91,647.21 L1243.51,646.6 L1244.11,646.01 L1244.71,645.43 L1245.31,644.88 L1245.91,644.35 L1246.51,643.85 L1247.11,643.39 L1247.71,642.96 L1248.31,642.57 L1248.91,642.22 L1249.51,641.91 L1250.11,641.65 L1250.71,641.44 L1251.31,641.28 L1251.91,641.17 L1252.51,641.11 L1253.11,641.1 L1253.71,641.15 L1254.31,641.24 L1254.91,641.39 L1255.51,641.58 L1256.11,641.83 L1256.71,642.12 L1257.31,642.45 L1257.91,642.83 L1258.5,643.25 L1259.1,643.7 L1259.7,644.19 L1260.3,644.71 L1260.9,645.26 L1261.5,645.83 L1262.1,646.42 L1262.7,647.02 L1263.3,647.64 L1263.9,648.26 L1264.5,648.89 L1265.1,649.51 L1265.7,650.13 L1266.3,650.74 L1266.9,651.34 L1267.5,651.92 L1268.1,652.47 L1268.7,653 L1269.3,653.5 L1269.9,653.97 L1270.5,654.41 L1271.1,654.8 L1271.7,655.15 L1272.3,655.46 L1272.9,655.72 L1273.5,655.94 L1274.1,656.11 L1274.7,656.22 L1275.3,656.29 L1275.9,656.3 L1276.5,656.26 C1279,656.3 1279.5,655.3 1279.8,651.7 L1280.1,644 C1280.5,641 1281.5,641 1284.5,641 L1337,641" stroke="#999" stroke-width="3.2" fill="none" transform="translate(1.5,5.5)"/><rect x="78" y="640" width="36" height="10" fill="#999"/><rect x="1336" y="640" width="38" height="10" fill="#999"/></g>
<path d="M111,641 L161,641 C163.5,641 164.3,642 164.6,645 L165.3,652 C165.8,656.3 167.6,656.3 168.6,656.3 L168.6,656.29 L169.2,656.24 L169.8,656.13 L170.4,655.98 L171,655.78 L171.6,655.53 L172.2,655.24 L172.8,654.91 L173.4,654.53 L174,654.12 L174.6,653.67 L175.2,653.19 L175.8,652.68 L176.4,652.14 L177,651.58 L177.6,651 L178.2,650.41 L178.8,649.8 L179.4,649.19 L180,648.57 L180.6,647.96 L181.2,647.35 L181.8,646.75 L182.4,646.16 L183,645.59 L183.6,645.04 L184.2,644.51 L184.8,644.01 L185.4,643.54 L186,643.11 L186.6,642.71 L187.19,642.35 L187.79,642.03 L188.39,641.76 L188.99,641.53 L189.59,641.35 L190.19,641.22 L190.79,641.13 L191.39,641.1 L191.99,641.12 L192.59,641.18 L193.19,641.3 L193.79,641.46 L194.39,641.67 L194.99,641.93 L195.59,642.23 L196.19,642.58 L196.79,642.96 L197.39,643.38 L197.99,643.84 L198.59,644.33 L199.19,644.85 L199.79,645.39 L200.39,645.96 L200.99,646.54 L201.59,647.14 L202.19,647.74 L202.79,648.36 L203.39,648.97 L203.99,649.59 L204.59,650.19 L205.19,650.79 L205.79,651.38 L206.39,651.94 L206.99,652.49 L207.59,653.01 L208.19,653.5 L208.79,653.97 L209.39,654.39 L209.99,654.78 L210.59,655.13 L211.19,655.44 L211.79,655.7 L212.39,655.92 L212.99,656.09 L213.59,656.21 L214.19,656.28 L214.79,656.3 L215.39,656.27 L215.99,656.19 L216.59,656.07 L217.19,655.89 L217.79,655.67 L218.39,655.4 L218.99,655.09 L219.59,654.73 L220.19,654.34 L220.79,653.91 L221.39,653.44 L221.99,652.95 L222.59,652.42 L223.19,651.88 L223.79,651.31 L224.38,650.72 L224.98,650.12 L225.58,649.51 L226.18,648.9 L226.78,648.28 L227.38,647.67 L227.98,647.06 L228.58,646.47 L229.18,645.88 L229.78,645.32 L230.38,644.78 L230.98,644.27 L231.58,643.78 L232.18,643.33 L232.78,642.91 L233.38,642.53 L233.98,642.19 L234.58,641.9 L235.18,641.64 L235.78,641.44 L236.38,641.28 L236.98,641.17 L237.58,641.11 L238.18,641.1 L238.78,641.14 L239.38,641.24 L239.98,641.38 L240.58,641.57 L241.18,641.82 L241.78,642.1 L242.38,642.44 L242.98,642.81 L243.58,643.23 L244.18,643.68 L244.78,644.17 L245.38,644.69 L245.98,645.23 L246.58,645.8 L247.18,646.39 L247.78,646.99 L248.38,647.61 L248.98,648.23 L249.58,648.86 L250.18,649.49 L250.78,650.11 L251.38,650.72 L251.98,651.31 L252.58,651.89 L253.18,652.45 L253.78,652.98 L254.38,653.48 L254.98,653.95 L255.58,654.39 L256.18,654.78 L256.78,655.14 L257.38,655.45 L257.98,655.71 L258.58,655.93 L259.18,656.1 L259.78,656.22 L260.38,656.28 L260.97,656.3 L261.57,656.26 L262.17,656.17 L262.77,656.04 L263.37,655.85 L263.97,655.61 L264.57,655.33 L265.17,655 L265.77,654.62 L266.37,654.21 L266.97,653.76 L267.57,653.28 L268.17,652.76 L268.77,652.22 L269.37,651.65 L269.97,651.07 L270.57,650.46 L271.17,649.85 L271.77,649.23 L272.37,648.6 L272.97,647.97 L273.57,647.35 L274.17,646.74 L274.77,646.14 L275.37,645.56 L275.97,645 L276.57,644.47 L277.17,643.96 L277.77,643.49 L278.37,643.05 L278.97,642.65 L279.57,642.29 L280.17,641.98 L280.77,641.71 L281.37,641.49 L281.97,641.31 L282.57,641.19 L283.17,641.12 L283.77,641.1 L284.37,641.13 L284.97,641.21 L285.57,641.34 L286.17,641.51 L286.77,641.73 L287.37,642 L287.97,642.31 L288.57,642.66 L289.17,643.05 L289.77,643.48 L290.37,643.94 L290.97,644.43 L291.57,644.94 L292.17,645.49 L292.77,646.05 L293.37,646.63 L293.97,647.22 L294.57,647.83 L295.17,648.44 L295.77,649.05 L296.37,649.65 L296.97,650.26 L297.57,650.85 L298.16,651.43 L298.76,651.99 L299.36,652.53 L299.96,653.04 L300.56,653.53 L301.16,653.98 L301.76,654.41 L302.36,654.79 L302.96,655.14 L303.56,655.44 L304.16,655.7 L304.76,655.91 L305.36,656.08 L305.96,656.2 L306.56,656.28 L307.16,656.3 L307.76,656.27 L308.36,656.2 L308.96,656.08 L309.56,655.91 L310.16,655.69 L310.76,655.43 L311.36,655.12 L311.96,654.78 L312.56,654.39 L313.16,653.97 L313.76,653.51 L314.36,653.02 L314.96,652.51 L315.56,651.97 L316.16,651.4 L316.76,650.82 L317.36,650.23 L317.96,649.63 L318.56,649.02 L319.16,648.41 L319.76,647.8 L320.36,647.2 L320.96,646.61 L321.56,646.03 L322.16,645.46 L322.76,644.92 L323.36,644.4 L323.96,643.92 L324.56,643.46 L325.16,643.03 L325.76,642.64 L326.36,642.29 L326.96,641.99 L327.56,641.72 L328.16,641.5 L328.76,641.33 L329.36,641.21 L329.96,641.13 L330.56,641.1 L331.16,641.12 L331.76,641.19 L332.36,641.31 L332.96,641.48 L333.56,641.7 L334.16,641.96 L334.76,642.27 L335.35,642.62 L335.95,643.01 L336.55,643.44 L337.15,643.9 L337.75,644.4 L338.35,644.92 L338.95,645.47 L339.55,646.03 L340.15,646.62 L340.75,647.22 L341.35,647.83 L341.95,648.45 L342.55,649.06 L343.15,649.68 L343.75,650.29 L344.35,650.88 L344.95,651.47 L345.55,652.03 L346.15,652.58 L346.75,653.09 L347.35,653.58 L347.95,654.04 L348.55,654.46 L349.15,654.84 L349.75,655.19 L350.35,655.49 L350.95,655.74 L351.55,655.95 L352.15,656.11 L352.75,656.22 L353.35,656.29 L353.95,656.3 L354.55,656.26 L355.15,656.17 L355.75,656.04 L356.35,655.85 L356.95,655.62 L357.55,655.34 L358.15,655.02 L358.75,654.66 L359.35,654.25 L359.95,653.81 L360.55,653.34 L361.15,652.84 L361.75,652.31 L362.35,651.75 L362.95,651.18 L363.55,650.59 L364.15,649.98 L364.75,649.37 L365.35,648.75 L365.95,648.14 L366.55,647.52 L367.15,646.92 L367.75,646.33 L368.35,645.75 L368.95,645.19 L369.55,644.65 L370.15,644.15 L370.75,643.67 L371.35,643.22 L371.94,642.81 L372.54,642.44 L373.14,642.11 L373.74,641.83 L374.34,641.59 L374.94,641.39 L375.54,641.25 L376.14,641.15 L376.74,641.1 L377.34,641.11 L377.94,641.16 L378.54,641.27 L379.14,641.43 L379.74,641.63 L380.34,641.89 L380.94,642.18 L381.54,642.53 L382.14,642.91 L382.74,643.34 L383.34,643.8 L383.94,644.29 L384.54,644.82 L385.14,645.37 L385.74,645.94 L386.34,646.53 L386.94,647.14 L387.54,647.75 L388.14,648.38 L388.74,649 L389.34,649.63 L389.94,650.24 L390.54,650.85 L391.14,651.44 L391.74,652.01 L392.34,652.57 L392.94,653.09 L393.54,653.59 L394.14,654.05 L394.74,654.47 L395.34,654.86 L395.94,655.2 L396.54,655.51 L397.14,655.76 L397.74,655.97 L398.34,656.13 L398.94,656.23 L399.54,656.29 L400.14,656.3 L400.74,656.25 L401.34,656.15 L401.94,656.01 L402.54,655.81 L403.14,655.56 L403.74,655.27 L404.34,654.94 L404.94,654.56 L405.54,654.14 L406.14,653.68 L406.74,653.2 L407.34,652.68 L407.94,652.13 L408.54,651.56 L409.13,650.97 L409.73,650.37 L410.33,649.76 L410.93,649.13 L411.53,648.51 L412.13,647.88 L412.73,647.27 L413.33,646.66 L413.93,646.06 L414.53,645.49 L415.13,644.93 L415.73,644.4 L416.33,643.9 L416.93,643.43 L417.53,643 L418.13,642.61 L418.73,642.25 L419.33,641.94 L419.93,641.68 L420.53,641.46 L421.13,641.3 L421.73,641.18 L422.33,641.12 L422.93,641.1 L423.53,641.14 L424.13,641.22 L424.73,641.36 L425.33,641.55 L425.93,641.78 L426.53,642.06 L427.13,642.38 L427.73,642.75 L428.33,643.15 L428.93,643.59 L429.53,644.07 L430.13,644.57 L430.73,645.11 L431.33,645.66 L431.93,646.24 L432.53,646.84 L433.13,647.44 L433.73,648.06 L434.33,648.68 L434.93,649.3 L435.53,649.91 L436.13,650.52 L436.73,651.11 L437.33,651.69 L437.93,652.25 L438.53,652.79 L439.13,653.3 L439.73,653.78 L440.33,654.22 L440.93,654.63 L441.53,654.99 L442.13,655.32 L442.73,655.6 L443.33,655.84 L443.93,656.03 L444.53,656.17 L445.13,656.26 L445.72,656.3 L446.32,656.29 L446.92,656.23 L447.52,656.12 L448.12,655.95 L448.72,655.75 L449.32,655.49 L449.92,655.19 L450.52,654.85 L451.12,654.46 L451.72,654.04 L452.32,653.58 L452.92,653.09 L453.52,652.57 L454.12,652.02 L454.72,651.45 L455.32,650.87 L455.92,650.27 L456.52,649.66 L457.12,649.04 L457.72,648.42 L458.32,647.8 L458.92,647.19 L459.52,646.59 L460.12,646 L460.72,645.43 L461.32,644.88 L461.92,644.36 L462.52,643.86 L463.12,643.4 L463.72,642.98 L464.32,642.59 L464.92,642.24 L465.52,641.94 L466.12,641.68 L466.72,641.46 L467.32,641.3 L467.92,641.18 L468.52,641.12 L469.12,641.1 L469.72,641.14 L470.32,641.22 L470.92,641.35 L471.52,641.54 L472.12,641.77 L472.72,642.04 L473.32,642.36 L473.92,642.72 L474.52,643.12 L475.12,643.56 L475.72,644.03 L476.32,644.53 L476.92,645.06 L477.52,645.62 L478.12,646.19 L478.72,646.78 L479.32,647.39 L479.92,648 L480.52,648.61 L481.12,649.23 L481.72,649.84 L482.32,650.45 L482.91,651.04 L483.51,651.62 L484.11,652.18 L484.71,652.72 L485.31,653.23 L485.91,653.71 L486.51,654.16 L487.11,654.57 L487.71,654.94 L488.31,655.27 L488.91,655.56 L489.51,655.8 L490.11,656 L490.71,656.15 L491.31,656.25 L491.91,656.29 L492.51,656.29 L493.11,656.24 L493.71,656.14 L494.31,655.99 L494.91,655.79 L495.51,655.55 L496.11,655.26 L496.71,654.93 L497.31,654.55 L497.91,654.14 L498.51,653.69 L499.11,653.21 L499.71,652.7 L500.31,652.16 L500.91,651.6 L501.51,651.02 L502.11,650.42 L502.71,649.82 L503.31,649.2 L503.91,648.59 L504.51,647.97 L505.11,647.36 L505.71,646.76 L506.31,646.17 L506.91,645.59 L507.51,645.04 L508.11,644.51 L508.71,644.01 L509.31,643.54 L509.91,643.11 L510.51,642.71 L511.11,642.35 L511.71,642.03 L512.31,641.76 L512.91,641.53 L513.51,641.35 L514.11,641.22 L514.71,641.13 L515.31,641.1 L515.91,641.12 L516.51,641.19 L517.11,641.31 L517.71,641.48 L518.31,641.7 L518.91,641.97 L519.5,642.28 L520.1,642.64 L520.7,643.04 L521.3,643.48 L521.9,643.95 L522.5,644.46 L523.1,644.99 L523.7,645.56 L524.3,646.14 L524.9,646.74 L525.5,647.35 L526.1,647.97 L526.7,648.6 L527.3,649.23 L527.9,649.85 L528.5,650.47 L529.1,651.07 L529.7,651.66 L530.3,652.23 L530.9,652.77 L531.5,653.29 L532.1,653.77 L532.7,654.22 L533.3,654.63 L533.9,655.01 L534.5,655.33 L535.1,655.62 L535.7,655.85 L536.3,656.04 L536.9,656.18 L537.5,656.26 L538.1,656.3 L538.7,656.28 L539.3,656.21 L539.9,656.09 L540.5,655.92 L541.1,655.7 L541.7,655.43 L542.3,655.12 L542.9,654.76 L543.5,654.36 L544.1,653.93 L544.7,653.45 L545.3,652.95 L545.9,652.41 L546.5,651.85 L547.1,651.27 L547.7,650.67 L548.3,650.06 L548.9,649.44 L549.5,648.81 L550.1,648.18 L550.7,647.56 L551.3,646.94 L551.9,646.34 L552.5,645.75 L553.1,645.18 L553.7,644.64 L554.3,644.12 L554.9,643.63 L555.5,643.18 L556.1,642.77 L556.69,642.4 L557.29,642.07 L557.89,641.79 L558.49,641.55 L559.09,641.36 L559.69,641.22 L560.29,641.14 L560.89,641.1 L561.49,641.12 L562.09,641.18 L562.69,641.3 L563.29,641.47 L563.89,641.69 L564.49,641.95 L565.09,642.26 L565.69,642.61 L566.29,643 L566.89,643.43 L567.49,643.9 L568.09,644.4 L568.69,644.92 L569.29,645.47 L569.89,646.05 L570.49,646.64 L571.09,647.25 L571.69,647.86 L572.29,648.48 L572.89,649.11 L573.49,649.72 L574.09,650.34 L574.69,650.94 L575.29,651.53 L575.89,652.09 L576.49,652.64 L577.09,653.16 L577.69,653.65 L578.29,654.1 L578.89,654.52 L579.49,654.9 L580.09,655.24 L580.69,655.54 L581.29,655.78 L581.89,655.99 L582.49,656.14 L583.09,656.24 L583.69,656.29 L584.29,656.29 L584.89,656.24 L585.49,656.14 L586.09,655.99 L586.69,655.79 L587.29,655.55 L587.89,655.25 L588.49,654.92 L589.09,654.54 L589.69,654.12 L590.29,653.67 L590.89,653.18 L591.49,652.66 L592.09,652.12 L592.69,651.55 L593.29,650.96 L593.88,650.36 L594.48,649.75 L595.08,649.13 L595.68,648.51 L596.28,647.89 L596.88,647.27 L597.48,646.67 L598.08,646.07 L598.68,645.5 L599.28,644.94 L599.88,644.42 L600.48,643.92 L601.08,643.45 L601.68,643.02 L602.28,642.62 L602.88,642.27 L603.48,641.96 L604.08,641.7 L604.68,641.48 L605.28,641.31 L605.88,641.19 L606.48,641.12 L607.08,641.1 L607.68,641.13 L608.28,641.21 L608.88,641.34 L609.48,641.52 L610.08,641.75 L610.68,642.02 L611.28,642.33 L611.88,642.69 L612.48,643.08 L613.08,643.51 L613.68,643.98 L614.28,644.48 L614.88,645 L615.48,645.55 L616.08,646.12 L616.68,646.7 L617.28,647.3 L617.88,647.91 L618.48,648.52 L619.08,649.14 L619.68,649.75 L620.28,650.35 L620.88,650.95 L621.48,651.53 L622.08,652.09 L622.68,652.63 L623.28,653.14 L623.88,653.62 L624.48,654.08 L625.08,654.49 L625.68,654.87 L626.28,655.21 L626.88,655.5 L627.48,655.76 L628.08,655.96 L628.68,656.12 L629.28,656.23 L629.88,656.29 L630.47,656.3 L631.07,656.26 L631.67,656.17 L632.27,656.03 L632.87,655.85 L633.47,655.61 L634.07,655.34 L634.67,655.02 L635.27,654.65 L635.87,654.25 L636.47,653.82 L637.07,653.35 L637.67,652.84 L638.27,652.32 L638.87,651.76 L639.47,651.19 L640.07,650.6 L640.67,650 L641.27,649.39 L641.87,648.78 L642.47,648.17 L643.07,647.56 L643.67,646.95 L644.27,646.36 L644.87,645.78 L645.47,645.23 L646.07,644.69 L646.67,644.18 L647.27,643.7 L647.87,643.26 L648.47,642.85 L649.07,642.47 L649.67,642.14 L650.27,641.85 L650.87,641.61 L651.47,641.41 L652.07,641.26 L652.67,641.16 L653.27,641.11 L653.87,641.11 L654.47,641.15 L655.07,641.25 L655.67,641.4 L656.27,641.59 L656.87,641.84 L657.47,642.13 L658.07,642.46 L658.67,642.83 L659.27,643.25 L659.87,643.7 L660.47,644.18 L661.07,644.69 L661.67,645.23 L662.27,645.8 L662.87,646.38 L663.47,646.97 L664.07,647.58 L664.67,648.2 L665.27,648.82 L665.87,649.44 L666.47,650.05 L667.07,650.66 L667.66,651.25 L668.26,651.82 L668.86,652.38 L669.46,652.91 L670.06,653.41 L670.66,653.88 L671.26,654.32 L671.86,654.71 L672.46,655.07 L673.06,655.39 L673.66,655.66 L674.26,655.89 L674.86,656.06 L675.46,656.19 L676.06,656.27 L676.66,656.3 L677.26,656.28 L677.86,656.21 L678.46,656.08 L679.06,655.91 L679.66,655.69 L680.26,655.43 L680.86,655.12 L681.46,654.76 L682.06,654.37 L682.66,653.94 L683.26,653.47 L683.86,652.97 L684.46,652.45 L685.06,651.89 L685.66,651.32 L686.26,650.73 L686.86,650.13 L687.46,649.52 L688.06,648.9 L688.66,648.28 L689.26,647.66 L689.86,647.05 L690.46,646.45 L691.06,645.87 L691.66,645.3 L692.26,644.76 L692.86,644.24 L693.46,643.76 L694.06,643.3 L694.66,642.88 L695.26,642.5 L695.86,642.17 L696.46,641.87 L697.06,641.62 L697.66,641.42 L698.26,641.27 L698.86,641.16 L699.46,641.11 L700.06,641.1 L700.66,641.15 L701.26,641.26 L701.86,641.41 L702.46,641.62 L703.06,641.87 L703.66,642.17 L704.25,642.52 L704.85,642.91 L705.45,643.34 L706.05,643.81 L706.65,644.32 L707.25,644.85 L707.85,645.41 L708.45,646 L709.05,646.6 L709.65,647.22 L710.25,647.84 L710.85,648.48 L711.45,649.11 L712.05,649.75 L712.65,650.37 L713.25,650.99 L713.85,651.58 L714.45,652.16 L715.05,652.71 L715.65,653.24 L716.25,653.73 L716.85,654.19 L717.45,654.61 L718.05,654.99 L718.65,655.32 L719.25,655.61 L719.85,655.85 L720.45,656.04 L721.05,656.18 L721.65,656.27 L722.25,656.3 L722.85,656.28 L723.45,656.21 L724.05,656.08 L724.65,655.9 L725.25,655.68 L725.85,655.4 L726.45,655.08 L727.05,654.71 L727.65,654.3 L728.25,653.85 L728.85,653.37 L729.45,652.85 L730.05,652.3 L730.65,651.73 L731.25,651.14 L731.85,650.53 L732.45,649.9 L733.05,649.27 L733.65,648.64 L734.25,648 L734.85,647.37 L735.45,646.75 L736.05,646.14 L736.65,645.56 L737.25,644.99 L737.85,644.45 L738.45,643.94 L739.05,643.46 L739.65,643.02 L740.25,642.61 L740.85,642.26 L741.44,641.94 L742.04,641.67 L742.64,641.46 L743.24,641.29 L743.84,641.17 L744.44,641.11 L745.04,641.1 L745.64,641.14 L746.24,641.23 L746.84,641.37 L747.44,641.55 L748.04,641.78 L748.64,642.05 L749.24,642.37 L749.84,642.73 L750.44,643.12 L751.04,643.55 L751.64,644.02 L752.24,644.51 L752.84,645.03 L753.44,645.58 L754.04,646.14 L754.64,646.72 L755.24,647.32 L755.84,647.92 L756.44,648.53 L757.04,649.13 L757.64,649.74 L758.24,650.34 L758.84,650.93 L759.44,651.5 L760.04,652.06 L760.64,652.59 L761.24,653.1 L761.84,653.58 L762.44,654.03 L763.04,654.45 L763.64,654.83 L764.24,655.17 L764.84,655.47 L765.44,655.72 L766.04,655.93 L766.64,656.1 L767.24,656.21 L767.84,656.28 L768.44,656.3 L769.04,656.27 L769.64,656.19 L770.24,656.07 L770.84,655.89 L771.44,655.67 L772.04,655.41 L772.64,655.1 L773.24,654.75 L773.84,654.37 L774.44,653.94 L775.04,653.49 L775.64,653 L776.24,652.48 L776.84,651.94 L777.44,651.38 L778.03,650.81 L778.63,650.21 L779.23,649.61 L779.83,649.01 L780.43,648.4 L781.03,647.79 L781.63,647.19 L782.23,646.6 L782.83,646.02 L783.43,645.46 L784.03,644.92 L784.63,644.41 L785.23,643.92 L785.83,643.46 L786.43,643.04 L787.03,642.65 L787.63,642.3 L788.23,641.99 L788.83,641.73 L789.43,641.51 L790.03,641.34 L790.63,641.21 L791.23,641.13 L791.83,641.1 L792.43,641.12 L793.03,641.19 L793.63,641.31 L794.23,641.47 L794.83,641.69 L795.43,641.95 L796.03,642.25 L796.63,642.6 L797.23,642.99 L797.83,643.41 L798.43,643.87 L799.03,644.36 L799.63,644.88 L800.23,645.43 L800.83,645.99 L801.43,646.58 L802.03,647.17 L802.63,647.78 L803.23,648.4 L803.83,649.01 L804.43,649.62 L805.03,650.23 L805.63,650.83 L806.23,651.41 L806.83,651.98 L807.43,652.52 L808.03,653.04 L808.63,653.53 L809.23,653.99 L809.83,654.42 L810.43,654.8 L811.03,655.15 L811.63,655.45 L812.23,655.71 L812.83,655.93 L813.43,656.09 L814.03,656.21 L814.63,656.28 L815.22,656.3 L815.82,656.27 L816.42,656.19 L817.02,656.06 L817.62,655.88 L818.22,655.65 L818.82,655.38 L819.42,655.07 L820.02,654.71 L820.62,654.31 L821.22,653.88 L821.82,653.41 L822.42,652.92 L823.02,652.39 L823.62,651.84 L824.22,651.27 L824.82,650.68 L825.42,650.08 L826.02,649.47 L826.62,648.86 L827.22,648.24 L827.82,647.63 L828.42,647.02 L829.02,646.43 L829.62,645.85 L830.22,645.29 L830.82,644.75 L831.42,644.24 L832.02,643.75 L832.62,643.3 L833.22,642.89 L833.82,642.51 L834.42,642.17 L835.02,641.88 L835.62,641.63 L836.22,641.43 L836.82,641.27 L837.42,641.17 L838.02,641.11 L838.62,641.1 L839.22,641.15 L839.82,641.24 L840.42,641.39 L841.02,641.58 L841.62,641.82 L842.22,642.11 L842.82,642.44 L843.42,642.81 L844.02,643.22 L844.62,643.67 L845.22,644.15 L845.82,644.66 L846.42,645.2 L847.02,645.77 L847.62,646.35 L848.22,646.95 L848.82,647.56 L849.42,648.17 L850.02,648.79 L850.62,649.41 L851.22,650.03 L851.81,650.64 L852.41,651.23 L853.01,651.81 L853.61,652.36 L854.21,652.89 L854.81,653.4 L855.41,653.87 L856.01,654.31 L856.61,654.71 L857.21,655.07 L857.81,655.39 L858.41,655.66 L859.01,655.88 L859.61,656.06 L860.21,656.19 L860.81,656.27 L861.41,656.3 L862.01,656.28 L862.61,656.2 L863.21,656.08 L863.81,655.91 L864.41,655.69 L865.01,655.42 L865.61,655.11 L866.21,654.76 L866.81,654.36 L867.41,653.93 L868.01,653.46 L868.61,652.96 L869.21,652.43 L869.81,651.88 L870.41,651.3 L871.01,650.71 L871.61,650.11 L872.21,649.49 L872.81,648.87 L873.41,648.25 L874.01,647.63 L874.61,647.02 L875.21,646.42 L875.81,645.84 L876.41,645.27 L877.01,644.73 L877.61,644.21 L878.21,643.73 L878.81,643.27 L879.41,642.86 L880.01,642.48 L880.61,642.14 L881.21,641.85 L881.81,641.61 L882.41,641.41 L883.01,641.26 L883.61,641.16 L884.21,641.11 L884.81,641.11 L885.41,641.16 L886.01,641.26 L886.61,641.42 L887.21,641.62 L887.81,641.87 L888.41,642.17 L889,642.51 L889.6,642.9 L890.2,643.32 L890.8,643.78 L891.4,644.27 L892,644.8 L892.6,645.35 L893.2,645.92 L893.8,646.51 L894.4,647.12 L895,647.74 L895.6,648.36 L896.2,648.99 L896.8,649.62 L897.4,650.23 L898,650.84 L898.6,651.43 L899.2,652.01 L899.8,652.56 L900.4,653.09 L901,653.58 L901.6,654.05 L902.2,654.47 L902.8,654.86 L903.4,655.21 L904,655.51 L904.6,655.76 L905.2,655.97 L905.8,656.13 L906.4,656.24 L907,656.29 L907.6,656.3 L908.2,656.25 L908.8,656.15 L909.4,656 L910,655.8 L910.6,655.55 L911.2,655.26 L911.8,654.92 L912.4,654.54 L913,654.12 L913.6,653.66 L914.2,653.17 L914.8,652.65 L915.4,652.1 L916,651.53 L916.6,650.94 L917.2,650.34 L917.8,649.72 L918.4,649.09 L919,648.47 L919.6,647.84 L920.2,647.22 L920.8,646.61 L921.4,646.02 L922,645.44 L922.6,644.89 L923.2,644.36 L923.8,643.86 L924.4,643.39 L925,642.96 L925.6,642.57 L926.19,642.22 L926.79,641.92 L927.39,641.66 L927.99,641.45 L928.59,641.28 L929.19,641.17 L929.79,641.11 L930.39,641.1 L930.99,641.14 L931.59,641.23 L932.19,641.37 L932.79,641.56 L933.39,641.8 L933.99,642.08 L934.59,642.4 L935.19,642.76 L935.79,643.17 L936.39,643.61 L936.99,644.08 L937.59,644.59 L938.19,645.12 L938.79,645.67 L939.39,646.25 L939.99,646.84 L940.59,647.44 L941.19,648.05 L941.79,648.66 L942.39,649.28 L942.99,649.89 L943.59,650.5 L944.19,651.09 L944.79,651.66 L945.39,652.22 L945.99,652.75 L946.59,653.26 L947.19,653.74 L947.79,654.18 L948.39,654.59 L948.99,654.96 L949.59,655.29 L950.19,655.57 L950.79,655.81 L951.39,656.01 L951.99,656.15 L952.59,656.25 L953.19,656.3 L953.79,656.29 L954.39,656.24 L954.99,656.14 L955.59,655.99 L956.19,655.79 L956.79,655.54 L957.39,655.25 L957.99,654.92 L958.59,654.54 L959.19,654.13 L959.79,653.68 L960.39,653.2 L960.99,652.69 L961.59,652.15 L962.19,651.59 L962.78,651.01 L963.38,650.42 L963.98,649.82 L964.58,649.2 L965.18,648.59 L965.78,647.97 L966.38,647.36 L966.98,646.76 L967.58,646.17 L968.18,645.6 L968.78,645.05 L969.38,644.52 L969.98,644.02 L970.58,643.55 L971.18,643.12 L971.78,642.72 L972.38,642.36 L972.98,642.04 L973.58,641.76 L974.18,641.54 L974.78,641.35 L975.38,641.22 L975.98,641.14 L976.58,641.1 L977.18,641.12 L977.78,641.18 L978.38,641.3 L978.98,641.47 L979.58,641.69 L980.18,641.95 L980.78,642.26 L981.38,642.62 L981.98,643.02 L982.58,643.45 L983.18,643.92 L983.78,644.42 L984.38,644.96 L984.98,645.51 L985.58,646.09 L986.18,646.69 L986.78,647.3 L987.38,647.92 L987.98,648.55 L988.58,649.17 L989.18,649.8 L989.78,650.41 L990.38,651.02 L990.98,651.6 L991.58,652.17 L992.18,652.72 L992.78,653.24 L993.38,653.72 L993.98,654.18 L994.58,654.59 L995.18,654.97 L995.78,655.3 L996.38,655.59 L996.98,655.83 L997.58,656.02 L998.18,656.16 L998.78,656.26 L999.38,656.3 L999.97,656.29 L1000.57,656.22 L1001.17,656.11 L1001.77,655.95 L1002.37,655.73 L1002.97,655.47 L1003.57,655.17 L1004.17,654.82 L1004.77,654.42 L1005.37,653.99 L1005.97,653.52 L1006.57,653.02 L1007.17,652.49 L1007.77,651.94 L1008.37,651.36 L1008.97,650.77 L1009.57,650.16 L1010.17,649.54 L1010.77,648.91 L1011.37,648.29 L1011.97,647.66 L1012.57,647.05 L1013.17,646.44 L1013.77,645.85 L1014.37,645.28 L1014.97,644.73 L1015.57,644.21 L1016.17,643.72 L1016.77,643.27 L1017.37,642.85 L1017.97,642.47 L1018.57,642.13 L1019.17,641.84 L1019.77,641.59 L1020.37,641.39 L1020.97,641.25 L1021.57,641.15 L1022.17,641.1 L1022.77,641.11 L1023.37,641.17 L1023.97,641.28 L1024.57,641.44 L1025.17,641.65 L1025.77,641.9 L1026.37,642.21 L1026.97,642.56 L1027.57,642.95 L1028.17,643.38 L1028.77,643.84 L1029.37,644.34 L1029.97,644.87 L1030.57,645.42 L1031.17,646 L1031.77,646.6 L1032.37,647.21 L1032.97,647.83 L1033.57,648.45 L1034.17,649.08 L1034.77,649.71 L1035.37,650.33 L1035.97,650.93 L1036.56,651.53 L1037.16,652.1 L1037.76,652.65 L1038.36,653.17 L1038.96,653.66 L1039.56,654.12 L1040.16,654.54 L1040.76,654.92 L1041.36,655.26 L1041.96,655.56 L1042.56,655.8 L1043.16,656 L1043.76,656.15 L1044.36,656.25 L1044.96,656.3 L1045.56,656.29 L1046.16,656.23 L1046.76,656.12 L1047.36,655.97 L1047.96,655.76 L1048.56,655.5 L1049.16,655.2 L1049.76,654.85 L1050.36,654.46 L1050.96,654.03 L1051.56,653.56 L1052.16,653.06 L1052.76,652.54 L1053.36,651.98 L1053.96,651.4 L1054.56,650.81 L1055.16,650.2 L1055.76,649.58 L1056.36,648.95 L1056.96,648.32 L1057.56,647.7 L1058.16,647.08 L1058.76,646.47 L1059.36,645.88 L1059.96,645.31 L1060.56,644.76 L1061.16,644.23 L1061.76,643.74 L1062.36,643.28 L1062.96,642.86 L1063.56,642.48 L1064.16,642.14 L1064.76,641.85 L1065.36,641.6 L1065.96,641.4 L1066.56,641.25 L1067.16,641.15 L1067.76,641.1 L1068.36,641.11 L1068.96,641.17 L1069.56,641.27 L1070.16,641.43 L1070.76,641.64 L1071.36,641.89 L1071.96,642.2 L1072.56,642.54 L1073.16,642.93 L1073.75,643.36 L1074.35,643.82 L1074.95,644.32 L1075.55,644.84 L1076.15,645.4 L1076.75,645.97 L1077.35,646.57 L1077.95,647.17 L1078.55,647.79 L1079.15,648.42 L1079.75,649.04 L1080.35,649.67 L1080.95,650.28 L1081.55,650.89 L1082.15,651.48 L1082.75,652.06 L1083.35,652.61 L1083.95,653.13 L1084.55,653.62 L1085.15,654.08 L1085.75,654.51 L1086.35,654.89 L1086.95,655.23 L1087.55,655.53 L1088.15,655.78 L1088.75,655.99 L1089.35,656.14 L1089.95,656.24 L1090.55,656.29 L1091.15,656.29 L1091.75,656.24 L1092.35,656.14 L1092.95,655.99 L1093.55,655.78 L1094.15,655.53 L1094.75,655.23 L1095.35,654.89 L1095.95,654.51 L1096.55,654.08 L1097.15,653.62 L1097.75,653.13 L1098.35,652.61 L1098.95,652.06 L1099.55,651.48 L1100.15,650.89 L1100.75,650.28 L1101.35,649.67 L1101.95,649.04 L1102.55,648.42 L1103.15,647.79 L1103.75,647.17 L1104.35,646.56 L1104.95,645.97 L1105.55,645.4 L1106.15,644.84 L1106.75,644.32 L1107.35,643.82 L1107.95,643.36 L1108.55,642.93 L1109.15,642.54 L1109.75,642.2 L1110.34,641.89 L1110.94,641.64 L1111.54,641.43 L1112.14,641.27 L1112.74,641.17 L1113.34,641.11 L1113.94,641.1 L1114.54,641.15 L1115.14,641.24 L1115.74,641.39 L1116.34,641.58 L1116.94,641.82 L1117.54,642.1 L1118.14,642.43 L1118.74,642.8 L1119.34,643.2 L1119.94,643.65 L1120.54,644.12 L1121.14,644.63 L1121.74,645.16 L1122.34,645.72 L1122.94,646.29 L1123.54,646.89 L1124.14,647.49 L1124.74,648.1 L1125.34,648.72 L1125.94,649.33 L1126.54,649.94 L1127.14,650.55 L1127.74,651.14 L1128.34,651.71 L1128.94,652.27 L1129.54,652.8 L1130.14,653.3 L1130.74,653.78 L1131.34,654.22 L1131.94,654.62 L1132.54,654.99 L1133.14,655.31 L1133.74,655.6 L1134.34,655.83 L1134.94,656.02 L1135.54,656.16 L1136.14,656.25 L1136.74,656.3 L1137.34,656.29 L1137.94,656.23 L1138.54,656.13 L1139.14,655.97 L1139.74,655.77 L1140.34,655.52 L1140.94,655.22 L1141.54,654.89 L1142.14,654.51 L1142.74,654.09 L1143.34,653.64 L1143.94,653.16 L1144.54,652.65 L1145.14,652.11 L1145.74,651.55 L1146.34,650.97 L1146.94,650.37 L1147.53,649.76 L1148.13,649.15 L1148.73,648.54 L1149.33,647.92 L1149.93,647.31 L1150.53,646.71 L1151.13,646.12 L1151.73,645.55 L1152.33,645 L1152.93,644.48 L1153.53,643.98 L1154.13,643.51 L1154.73,643.08 L1155.33,642.69 L1155.93,642.33 L1156.53,642.01 L1157.13,641.74 L1157.73,641.52 L1158.33,641.34 L1158.93,641.21 L1159.53,641.13 L1160.13,641.1 L1160.73,641.12 L1161.33,641.19 L1161.93,641.3 L1162.53,641.47 L1163.13,641.68 L1163.73,641.93 L1164.33,642.23 L1164.93,642.57 L1165.53,642.95 L1166.13,643.37 L1166.73,643.82 L1167.33,644.3 L1167.93,644.81 L1168.53,645.34 L1169.13,645.9 L1169.73,646.48 L1170.33,647.07 L1170.93,647.67 L1171.53,648.27 L1172.13,648.88 L1172.73,649.49 L1173.33,650.09 L1173.93,650.69 L1174.53,651.27 L1175.13,651.83 L1175.73,652.38 L1176.33,652.9 L1176.93,653.39 L1177.53,653.86 L1178.13,654.29 L1178.73,654.68 L1179.33,655.04 L1179.93,655.35 L1180.53,655.63 L1181.13,655.85 L1181.73,656.04 L1182.33,656.17 L1182.93,656.26 L1183.53,656.3 L1184.13,656.29 L1184.72,656.23 L1185.32,656.12 L1185.92,655.97 L1186.52,655.76 L1187.12,655.52 L1187.72,655.23 L1188.32,654.89 L1188.92,654.52 L1189.52,654.11 L1190.12,653.67 L1190.72,653.19 L1191.32,652.68 L1191.92,652.15 L1192.52,651.6 L1193.12,651.03 L1193.72,650.44 L1194.32,649.84 L1194.92,649.24 L1195.52,648.63 L1196.12,648.02 L1196.72,647.41 L1197.32,646.82 L1197.92,646.23 L1198.52,645.67 L1199.12,645.12 L1199.72,644.59 L1200.32,644.09 L1200.92,643.62 L1201.52,643.19 L1202.12,642.79 L1202.72,642.42 L1203.32,642.1 L1203.92,641.82 L1204.52,641.58 L1205.12,641.39 L1205.72,641.25 L1206.32,641.15 L1206.92,641.11 L1207.52,641.11 L1208.12,641.16 L1208.72,641.26 L1209.32,641.42 L1209.92,641.62 L1210.52,641.88 L1211.12,642.18 L1211.72,642.52 L1212.32,642.9 L1212.92,643.33 L1213.52,643.79 L1214.12,644.29 L1214.72,644.81 L1215.32,645.36 L1215.92,645.93 L1216.52,646.53 L1217.12,647.13 L1217.72,647.75 L1218.32,648.38 L1218.92,649 L1219.52,649.63 L1220.12,650.25 L1220.72,650.85 L1221.31,651.45 L1221.91,652.02 L1222.51,652.57 L1223.11,653.1 L1223.71,653.59 L1224.31,654.06 L1224.91,654.48 L1225.51,654.87 L1226.11,655.21 L1226.71,655.51 L1227.31,655.77 L1227.91,655.97 L1228.51,656.13 L1229.11,656.24 L1229.71,656.29 L1230.31,656.3 L1230.91,656.25 L1231.51,656.15 L1232.11,656 L1232.71,655.8 L1233.31,655.55 L1233.91,655.25 L1234.51,654.91 L1235.11,654.53 L1235.71,654.11 L1236.31,653.65 L1236.91,653.16 L1237.51,652.64 L1238.11,652.09 L1238.71,651.52 L1239.31,650.93 L1239.91,650.32 L1240.51,649.71 L1241.11,649.08 L1241.71,648.46 L1242.31,647.83 L1242.91,647.21 L1243.51,646.6 L1244.11,646.01 L1244.71,645.43 L1245.31,644.88 L1245.91,644.35 L1246.51,643.85 L1247.11,643.39 L1247.71,642.96 L1248.31,642.57 L1248.91,642.22 L1249.51,641.91 L1250.11,641.65 L1250.71,641.44 L1251.31,641.28 L1251.91,641.17 L1252.51,641.11 L1253.11,641.1 L1253.71,641.15 L1254.31,641.24 L1254.91,641.39 L1255.51,641.58 L1256.11,641.83 L1256.71,642.12 L1257.31,642.45 L1257.91,642.83 L1258.5,643.25 L1259.1,643.7 L1259.7,644.19 L1260.3,644.71 L1260.9,645.26 L1261.5,645.83 L1262.1,646.42 L1262.7,647.02 L1263.3,647.64 L1263.9,648.26 L1264.5,648.89 L1265.1,649.51 L1265.7,650.13 L1266.3,650.74 L1266.9,651.34 L1267.5,651.92 L1268.1,652.47 L1268.7,653 L1269.3,653.5 L1269.9,653.97 L1270.5,654.41 L1271.1,654.8 L1271.7,655.15 L1272.3,655.46 L1272.9,655.72 L1273.5,655.94 L1274.1,656.11 L1274.7,656.22 L1275.3,656.29 L1275.9,656.3 L1276.5,656.26 C1279,656.3 1279.5,655.3 1279.8,651.7 L1280.1,644 C1280.5,641 1281.5,641 1284.5,641 L1337,641" stroke="#111" stroke-width="2.4" fill="none" stroke-linejoin="round"/>
<rect x="75.5" y="637.5" width="6.5" height="8" fill="#f3f2ee" stroke="#dcdcdc" stroke-width="0.5"/>
<rect x="76.05" y="638.1" width="2.48" height="6.8" fill="#f6f1dc"/>
<path d="M100,636 C104.48,636 105.06,638.3 107.38,638.3 L111.67,638.24 Q112.6,638.3 112.6,639.58 L112.6,643.42 Q112.6,644.7 111.67,644.76 L107.38,644.7 C105.06,644.7 104.48,647 100,647 Z" fill="#232325"/>
<path d="M104.48,640.86 L111.44,640.86" stroke="#3c3c3e" stroke-width="1.12"/>
<rect x="81" y="636" width="20" height="11" fill="#303136"/>
<rect x="81" y="637.54" width="20" height="7.92" fill="#53555c"/>
<rect x="81" y="637.21" width="20" height="0.88" fill="#b4b5ba"/>
<rect x="81" y="644.91" width="20" height="0.88" fill="#b4b5ba"/>
<g opacity="0.99"><text x="0" y="0" transform="translate(91,642.93) scale(-1.05,1)" text-anchor="middle" font-family="Liberation Sans" font-weight="bold" font-size="3.96" fill="#f4f4f4" letter-spacing="0.48">ACVEE</text></g>
<rect x="1366.3" y="637.4" width="7.7" height="7.2" fill="#a0a0a0"/>
<rect x="1366.3" y="637.4" width="7.7" height="1.26" fill="#bdbdbd"/>
<path d="M1336,638.9 Q1336,637.85 1337.37,637.85 L1339.42,638.15 C1342.27,638 1343.98,635.8 1348.4,635.8 L1348.4,646.2 C1343.98,646.2 1342.27,644 1339.42,643.85 L1337.37,644.15 Q1336,644.15 1336,643.1 Z" fill="#232325"/>
<rect x="1347.4" y="635.8" width="19.9" height="10.4" fill="#303136"/>
<rect x="1347.4" y="637.36" width="19.9" height="7.28" fill="#53555c"/>
<rect x="1347.4" y="636.94" width="19.9" height="0.94" fill="#b4b5ba"/>
<rect x="1347.4" y="644.12" width="19.9" height="0.94" fill="#b4b5ba"/>
<g transform="translate(1357.35,641) scale(0.68)" fill="#f4f4f4" stroke="#f4f4f4"><circle cx="-6.5" cy="0" r="1.9" stroke="none"/><path d="M-6,0 H6 M-3.2,0 L-1.2,-2.9 H2.2 M-1.8,0 L0.4,2.9 H2.6" fill="none" stroke-width="1.3"/><path d="M7.5,0 L5,-1.7 V1.7 Z" stroke="none"/><rect x="2" y="-3.9" width="2" height="2" stroke="none"/><circle cx="3.2" cy="2.9" r="1.25" stroke="none"/></g>
<g filter="url(#sh)" opacity="0.35"><path d="M505,891.5 L600,891.5 C606,891.5 610,894.5 612,900.5 L618.5,923.5 C619.5,927.5 622,927.5 624,925.5" stroke="#777" stroke-width="5" fill="none" transform="translate(0,8)"/><path d="M822,925.5 C825,927.5 827,926.5 828,921.5 L834,899.5 C835.5,893.5 839,891.5 846,891.5 L936,891.5" stroke="#777" stroke-width="5" fill="none" transform="translate(0,8)"/><rect x="622" y="901.5" width="206" height="32" rx="4" fill="#888"/><rect x="440" y="885.5" width="70" height="20" fill="#888"/><rect x="935" y="885.5" width="62" height="18" fill="#888"/></g>
<path d="M505,891.5 L600,891.5 C606,891.5 610,894.5 612,900.5 L618.5,923.5 C619.5,927.5 622,927.5 624,925.5" stroke="#151515" stroke-width="5.2" fill="none" stroke-linecap="round"/>
<path d="M822,925.5 C825,927.5 827,926.5 828,921.5 L834,899.5 C835.5,893.5 839,891.5 846,891.5 L936,891.5" stroke="#151515" stroke-width="5.2" fill="none" stroke-linecap="round"/>
<rect x="622" y="898.2" width="202.73" height="24.5" fill="#141414"/>
<path d="M621,899.2 C621,893.12 623.01,888.2 625.5,888.2 C627.99,888.2 630,893.12 630,899.2 V923.7 C630,926.46 627.99,928.7 625.5,928.7 C623.01,928.7 621,926.46 621,923.7 Z" fill="#262627" stroke="#0a0a0a" stroke-width="1.5"/>
<path d="M625.2,891.2 L625.7,897.2" stroke="#4a4a4b" stroke-width="1.8" stroke-linecap="round" opacity="0.8"/>
<path d="M625.3,904.2 L626.1,918.7" stroke="#3c3c3d" stroke-width="1.8" stroke-linecap="round" opacity="0.8"/>
<path d="M629.51,899.2 C629.51,893.12 631.52,888.2 634.01,888.2 C636.5,888.2 638.51,893.12 638.51,899.2 V923.7 C638.51,926.46 636.5,928.7 634.01,928.7 C631.52,928.7 629.51,926.46 629.51,923.7 Z" fill="#262627" stroke="#0a0a0a" stroke-width="1.5"/>
<path d="M633.71,891.2 L634.21,897.2" stroke="#4a4a4b" stroke-width="1.8" stroke-linecap="round" opacity="0.8"/>
<path d="M633.81,904.2 L634.61,918.7" stroke="#3c3c3d" stroke-width="1.8" stroke-linecap="round" opacity="0.8"/>
<path d="M638.02,899.2 C638.02,893.12 640.03,888.2 642.52,888.2 C645.01,888.2 647.02,893.12 647.02,899.2 V923.7 C647.02,926.46 645.01,928.7 642.52,928.7 C640.03,928.7 638.02,926.46 638.02,923.7 Z" fill="#262627" stroke="#0a0a0a" stroke-width="1.5"/>
<path d="M642.22,891.2 L642.72,897.2" stroke="#4a4a4b" stroke-width="1.8" stroke-linecap="round" opacity="0.8"/>
<path d="M642.32,904.2 L643.12,918.7" stroke="#3c3c3d" stroke-width="1.8" stroke-linecap="round" opacity="0.8"/>
<path d="M646.53,899.2 C646.53,893.12 648.54,888.2 651.03,888.2 C653.52,888.2 655.53,893.12 655.53,899.2 V923.7 C655.53,926.46 653.52,928.7 651.03,928.7 C648.54,928.7 646.53,926.46 646.53,923.7 Z" fill="#262627" stroke="#0a0a0a" stroke-width="1.5"/>
<path d="M650.73,891.2 L651.23,897.2" stroke="#4a4a4b" stroke-width="1.8" stroke-linecap="round" opacity="0.8"/>
<path d="M650.83,904.2 L651.63,918.7" stroke="#3c3c3d" stroke-width="1.8" stroke-linecap="round" opacity="0.8"/>
<path d="M655.04,899.2 C655.04,893.12 657.05,888.2 659.54,888.2 C662.03,888.2 664.04,893.12 664.04,899.2 V923.7 C664.04,926.46 662.03,928.7 659.54,928.7 C657.05,928.7 655.04,926.46 655.04,923.7 Z" fill="#262627" stroke="#0a0a0a" stroke-width="1.5"/>
<path d="M659.24,891.2 L659.74,897.2" stroke="#4a4a4b" stroke-width="1.8" stroke-linecap="round" opacity="0.8"/>
<path d="M659.34,904.2 L660.14,918.7" stroke="#3c3c3d" stroke-width="1.8" stroke-linecap="round" opacity="0.8"/>
<path d="M663.55,899.2 C663.55,893.12 665.56,888.2 668.05,888.2 C670.54,888.2 672.55,893.12 672.55,899.2 V923.7 C672.55,926.46 670.54,928.7 668.05,928.7 C665.56,928.7 663.55,926.46 663.55,923.7 Z" fill="#262627" stroke="#0a0a0a" stroke-width="1.5"/>
<path d="M667.75,891.2 L668.25,897.2" stroke="#4a4a4b" stroke-width="1.8" stroke-linecap="round" opacity="0.8"/>
<path d="M667.85,904.2 L668.65,918.7" stroke="#3c3c3d" stroke-width="1.8" stroke-linecap="round" opacity="0.8"/>
<path d="M672.06,899.2 C672.06,893.12 674.07,888.2 676.56,888.2 C679.05,888.2 681.06,893.12 681.06,899.2 V923.7 C681.06,926.46 679.05,928.7 676.56,928.7 C674.07,928.7 672.06,926.46 672.06,923.7 Z" fill="#262627" stroke="#0a0a0a" stroke-width="1.5"/>
<path d="M676.26,891.2 L676.76,897.2" stroke="#4a4a4b" stroke-width="1.8" stroke-linecap="round" opacity="0.8"/>
<path d="M676.36,904.2 L677.16,918.7" stroke="#3c3c3d" stroke-width="1.8" stroke-linecap="round" opacity="0.8"/>
<path d="M680.57,899.2 C680.57,893.12 682.58,888.2 685.07,888.2 C687.56,888.2 689.57,893.12 689.57,899.2 V923.7 C689.57,926.46 687.56,928.7 685.07,928.7 C682.58,928.7 680.57,926.46 680.57,923.7 Z" fill="#262627" stroke="#0a0a0a" stroke-width="1.5"/>
<path d="M684.77,891.2 L685.27,897.2" stroke="#4a4a4b" stroke-width="1.8" stroke-linecap="round" opacity="0.8"/>
<path d="M684.87,904.2 L685.67,918.7" stroke="#3c3c3d" stroke-width="1.8" stroke-linecap="round" opacity="0.8"/>
<path d="M689.08,899.2 C689.08,893.12 691.09,888.2 693.58,888.2 C696.07,888.2 698.08,893.12 698.08,899.2 V923.7 C698.08,926.46 696.07,928.7 693.58,928.7 C691.09,928.7 689.08,926.46 689.08,923.7 Z" fill="#262627" stroke="#0a0a0a" stroke-width="1.5"/>
<path d="M693.28,891.2 L693.78,897.2" stroke="#4a4a4b" stroke-width="1.8" stroke-linecap="round" opacity="0.8"/>
<path d="M693.38,904.2 L694.18,918.7" stroke="#3c3c3d" stroke-width="1.8" stroke-linecap="round" opacity="0.8"/>
<path d="M697.59,899.2 C697.59,893.12 699.6,888.2 702.09,888.2 C704.58,888.2 706.59,893.12 706.59,899.2 V923.7 C706.59,926.46 704.58,928.7 702.09,928.7 C699.6,928.7 697.59,926.46 697.59,923.7 Z" fill="#262627" stroke="#0a0a0a" stroke-width="1.5"/>
<path d="M701.79,891.2 L702.29,897.2" stroke="#4a4a4b" stroke-width="1.8" stroke-linecap="round" opacity="0.8"/>
<path d="M701.89,904.2 L702.69,918.7" stroke="#3c3c3d" stroke-width="1.8" stroke-linecap="round" opacity="0.8"/>
<path d="M706.1,899.2 C706.1,893.12 708.11,888.2 710.6,888.2 C713.09,888.2 715.1,893.12 715.1,899.2 V923.7 C715.1,926.46 713.09,928.7 710.6,928.7 C708.11,928.7 706.1,926.46 706.1,923.7 Z" fill="#262627" stroke="#0a0a0a" stroke-width="1.5"/>
<path d="M710.3,891.2 L710.8,897.2" stroke="#4a4a4b" stroke-width="1.8" stroke-linecap="round" opacity="0.8"/>
<path d="M710.4,904.2 L711.2,918.7" stroke="#3c3c3d" stroke-width="1.8" stroke-linecap="round" opacity="0.8"/>
<path d="M714.61,899.2 C714.61,893.12 716.62,888.2 719.11,888.2 C721.6,888.2 723.61,893.12 723.61,899.2 V923.7 C723.61,926.46 721.6,928.7 719.11,928.7 C716.62,928.7 714.61,926.46 714.61,923.7 Z" fill="#262627" stroke="#0a0a0a" stroke-width="1.5"/>
<path d="M718.81,891.2 L719.31,897.2" stroke="#4a4a4b" stroke-width="1.8" stroke-linecap="round" opacity="0.8"/>
<path d="M718.91,904.2 L719.71,918.7" stroke="#3c3c3d" stroke-width="1.8" stroke-linecap="round" opacity="0.8"/>
<path d="M723.12,899.2 C723.12,893.12 725.13,888.2 727.62,888.2 C730.11,888.2 732.12,893.12 732.12,899.2 V923.7 C732.12,926.46 730.11,928.7 727.62,928.7 C725.13,928.7 723.12,926.46 723.12,923.7 Z" fill="#262627" stroke="#0a0a0a" stroke-width="1.5"/>
<path d="M727.32,891.2 L727.82,897.2" stroke="#4a4a4b" stroke-width="1.8" stroke-linecap="round" opacity="0.8"/>
<path d="M727.42,904.2 L728.22,918.7" stroke="#3c3c3d" stroke-width="1.8" stroke-linecap="round" opacity="0.8"/>
<path d="M731.63,899.2 C731.63,893.12 733.64,888.2 736.13,888.2 C738.62,888.2 740.63,893.12 740.63,899.2 V923.7 C740.63,926.46 738.62,928.7 736.13,928.7 C733.64,928.7 731.63,926.46 731.63,923.7 Z" fill="#262627" stroke="#0a0a0a" stroke-width="1.5"/>
<path d="M735.83,891.2 L736.33,897.2" stroke="#4a4a4b" stroke-width="1.8" stroke-linecap="round" opacity="0.8"/>
<path d="M735.93,904.2 L736.73,918.7" stroke="#3c3c3d" stroke-width="1.8" stroke-linecap="round" opacity="0.8"/>
<path d="M740.14,899.2 C740.14,893.12 742.15,888.2 744.64,888.2 C747.13,888.2 749.14,893.12 749.14,899.2 V923.7 C749.14,926.46 747.13,928.7 744.64,928.7 C742.15,928.7 740.14,926.46 740.14,923.7 Z" fill="#262627" stroke="#0a0a0a" stroke-width="1.5"/>
<path d="M744.34,891.2 L744.84,897.2" stroke="#4a4a4b" stroke-width="1.8" stroke-linecap="round" opacity="0.8"/>
<path d="M744.44,904.2 L745.24,918.7" stroke="#3c3c3d" stroke-width="1.8" stroke-linecap="round" opacity="0.8"/>
<path d="M748.65,899.2 C748.65,893.12 750.66,888.2 753.15,888.2 C755.64,888.2 757.65,893.12 757.65,899.2 V923.7 C757.65,926.46 755.64,928.7 753.15,928.7 C750.66,928.7 748.65,926.46 748.65,923.7 Z" fill="#262627" stroke="#0a0a0a" stroke-width="1.5"/>
<path d="M752.85,891.2 L753.35,897.2" stroke="#4a4a4b" stroke-width="1.8" stroke-linecap="round" opacity="0.8"/>
<path d="M752.95,904.2 L753.75,918.7" stroke="#3c3c3d" stroke-width="1.8" stroke-linecap="round" opacity="0.8"/>
<path d="M757.16,899.2 C757.16,893.12 759.17,888.2 761.66,888.2 C764.15,888.2 766.16,893.12 766.16,899.2 V923.7 C766.16,926.46 764.15,928.7 761.66,928.7 C759.17,928.7 757.16,926.46 757.16,923.7 Z" fill="#262627" stroke="#0a0a0a" stroke-width="1.5"/>
<path d="M761.36,891.2 L761.86,897.2" stroke="#4a4a4b" stroke-width="1.8" stroke-linecap="round" opacity="0.8"/>
<path d="M761.46,904.2 L762.26,918.7" stroke="#3c3c3d" stroke-width="1.8" stroke-linecap="round" opacity="0.8"/>
<path d="M765.67,899.2 C765.67,893.12 767.68,888.2 770.17,888.2 C772.66,888.2 774.67,893.12 774.67,899.2 V923.7 C774.67,926.46 772.66,928.7 770.17,928.7 C767.68,928.7 765.67,926.46 765.67,923.7 Z" fill="#262627" stroke="#0a0a0a" stroke-width="1.5"/>
<path d="M769.87,891.2 L770.37,897.2" stroke="#4a4a4b" stroke-width="1.8" stroke-linecap="round" opacity="0.8"/>
<path d="M769.97,904.2 L770.77,918.7" stroke="#3c3c3d" stroke-width="1.8" stroke-linecap="round" opacity="0.8"/>
<path d="M774.18,899.2 C774.18,893.12 776.19,888.2 778.68,888.2 C781.17,888.2 783.18,893.12 783.18,899.2 V923.7 C783.18,926.46 781.17,928.7 778.68,928.7 C776.19,928.7 774.18,926.46 774.18,923.7 Z" fill="#262627" stroke="#0a0a0a" stroke-width="1.5"/>
<path d="M778.38,891.2 L778.88,897.2" stroke="#4a4a4b" stroke-width="1.8" stroke-linecap="round" opacity="0.8"/>
<path d="M778.48,904.2 L779.28,918.7" stroke="#3c3c3d" stroke-width="1.8" stroke-linecap="round" opacity="0.8"/>
<path d="M782.69,899.2 C782.69,893.12 784.7,888.2 787.19,888.2 C789.68,888.2 791.69,893.12 791.69,899.2 V923.7 C791.69,926.46 789.68,928.7 787.19,928.7 C784.7,928.7 782.69,926.46 782.69,923.7 Z" fill="#262627" stroke="#0a0a0a" stroke-width="1.5"/>
<path d="M786.89,891.2 L787.39,897.2" stroke="#4a4a4b" stroke-width="1.8" stroke-linecap="round" opacity="0.8"/>
<path d="M786.99,904.2 L787.79,918.7" stroke="#3c3c3d" stroke-width="1.8" stroke-linecap="round" opacity="0.8"/>
<path d="M791.2,899.2 C791.2,893.12 793.21,888.2 795.7,888.2 C798.19,888.2 800.2,893.12 800.2,899.2 V923.7 C800.2,926.46 798.19,928.7 795.7,928.7 C793.21,928.7 791.2,926.46 791.2,923.7 Z" fill="#262627" stroke="#0a0a0a" stroke-width="1.5"/>
<path d="M795.4,891.2 L795.9,897.2" stroke="#4a4a4b" stroke-width="1.8" stroke-linecap="round" opacity="0.8"/>
<path d="M795.5,904.2 L796.3,918.7" stroke="#3c3c3d" stroke-width="1.8" stroke-linecap="round" opacity="0.8"/>
<path d="M799.71,899.2 C799.71,893.12 801.72,888.2 804.21,888.2 C806.7,888.2 808.71,893.12 808.71,899.2 V923.7 C808.71,926.46 806.7,928.7 804.21,928.7 C801.72,928.7 799.71,926.46 799.71,923.7 Z" fill="#262627" stroke="#0a0a0a" stroke-width="1.5"/>
<path d="M803.91,891.2 L804.41,897.2" stroke="#4a4a4b" stroke-width="1.8" stroke-linecap="round" opacity="0.8"/>
<path d="M804.01,904.2 L804.81,918.7" stroke="#3c3c3d" stroke-width="1.8" stroke-linecap="round" opacity="0.8"/>
<path d="M808.22,899.2 C808.22,893.12 810.23,888.2 812.72,888.2 C815.21,888.2 817.22,893.12 817.22,899.2 V923.7 C817.22,926.46 815.21,928.7 812.72,928.7 C810.23,928.7 808.22,926.46 808.22,923.7 Z" fill="#262627" stroke="#0a0a0a" stroke-width="1.5"/>
<path d="M812.42,891.2 L812.92,897.2" stroke="#4a4a4b" stroke-width="1.8" stroke-linecap="round" opacity="0.8"/>
<path d="M812.52,904.2 L813.32,918.7" stroke="#3c3c3d" stroke-width="1.8" stroke-linecap="round" opacity="0.8"/>
<path d="M816.73,899.2 C816.73,893.12 818.74,888.2 821.23,888.2 C823.72,888.2 825.73,893.12 825.73,899.2 V923.7 C825.73,926.46 823.72,928.7 821.23,928.7 C818.74,928.7 816.73,926.46 816.73,923.7 Z" fill="#262627" stroke="#0a0a0a" stroke-width="1.5"/>
<path d="M820.93,891.2 L821.43,897.2" stroke="#4a4a4b" stroke-width="1.8" stroke-linecap="round" opacity="0.8"/>
<path d="M821.03,904.2 L821.83,918.7" stroke="#3c3c3d" stroke-width="1.8" stroke-linecap="round" opacity="0.8"/>
<rect x="432" y="884.1" width="15" height="14.8" fill="#f3f2ee" stroke="#dcdcdc" stroke-width="0.5"/>
<rect x="433.4" y="885.21" width="6.3" height="12.58" fill="#f6f1dc"/>
<path d="M480.5,881.1 C489.15,881.1 490.43,885.2 495.52,885.2 L504.96,885.07 Q507,885.2 507,887.72 L507,895.28 Q507,897.8 504.96,897.93 L495.52,897.8 C490.43,897.8 489.15,901.9 480.5,901.9 Z" fill="#232325"/>
<path d="M489.15,890.24 L504.45,890.24" stroke="#3c3c3e" stroke-width="2.2"/>
<rect x="446" y="881.1" width="35.5" height="20.8" fill="#303136"/>
<rect x="446" y="884.01" width="35.5" height="14.98" fill="#53555c"/>
<rect x="446" y="883.39" width="35.5" height="1.66" fill="#b4b5ba"/>
<rect x="446" y="897.95" width="35.5" height="1.66" fill="#b4b5ba"/>
<g opacity="0.99"><text x="0" y="0" transform="translate(463.75,894.2) scale(-1.05,1)" text-anchor="middle" font-family="Liberation Sans" font-weight="bold" font-size="7.49" fill="#f4f4f4" letter-spacing="0.9">ACVEE</text></g>
<rect x="986" y="885.9" width="13" height="11.2" fill="#a0a0a0"/>
<rect x="986" y="885.9" width="13" height="1.96" fill="#bdbdbd"/>
<path d="M934,887.72 Q934,885.83 936.52,885.83 L940.3,886.37 C945.55,886.1 948.7,882.9 956,882.9 L956,900.1 C948.7,900.1 945.55,896.9 940.3,896.63 L936.52,897.17 Q934,897.17 934,895.28 Z" fill="#232325"/>
<rect x="955" y="882.9" width="32" height="17.2" fill="#303136"/>
<rect x="955" y="885.48" width="32" height="12.04" fill="#53555c"/>
<rect x="955" y="884.79" width="32" height="1.55" fill="#b4b5ba"/>
<rect x="955" y="896.66" width="32" height="1.55" fill="#b4b5ba"/>
<g transform="translate(971,891.5) scale(1.13)" fill="#f4f4f4" stroke="#f4f4f4"><circle cx="-6.5" cy="0" r="1.9" stroke="none"/><path d="M-6,0 H6 M-3.2,0 L-1.2,-2.9 H2.2 M-1.8,0 L0.4,2.9 H2.6" fill="none" stroke-width="1.3"/><path d="M7.5,0 L5,-1.7 V1.7 Z" stroke="none"/><rect x="2" y="-3.9" width="2" height="2" stroke="none"/><circle cx="3.2" cy="2.9" r="1.25" stroke="none"/></g>
<g filter="url(#sh2)" opacity="0.4"><path d="M309,1078 L338,1078 C354,1078.5 364,1086 367,1098 C368.5,1108 368.8,1114.2 370.2,1114.2 L370.2,1113.92 L370.8,1112.98 L371.4,1111.77 L372,1110.31 L372.6,1108.6 L373.2,1106.68 L373.8,1104.58 L374.4,1102.32 L375,1099.93 L375.6,1097.47 L376.2,1094.97 L376.8,1092.46 L377.4,1090 L378,1087.62 L378.6,1085.36 L379.2,1083.26 L379.8,1081.35 L380.4,1079.65 L381,1078.19 L381.6,1076.99 L382.2,1076.05 L382.8,1076.33 L383.4,1077.35 L384,1078.63 L384.6,1080.17 L385.2,1081.94 L385.8,1083.92 L386.4,1086.07 L387,1088.37 L387.6,1090.79 L388.19,1093.26 L388.79,1095.77 L389.39,1098.27 L389.99,1100.71 L390.59,1103.06 L391.19,1105.27 L391.79,1107.32 L392.39,1109.18 L392.99,1110.81 L393.59,1112.19 L394.19,1113.31 L394.79,1114.17 L395.39,1113.4 L395.99,1112.3 L396.59,1110.94 L397.19,1109.33 L397.79,1107.5 L398.39,1105.47 L398.99,1103.26 L399.59,1100.93 L400.19,1098.49 L400.79,1096 L401.39,1093.49 L401.99,1091.01 L402.59,1088.59 L403.19,1086.27 L403.79,1084.1 L404.39,1082.11 L404.99,1080.32 L405.59,1078.76 L406.19,1077.45 L406.79,1076.41 L407.39,1075.98 L407.99,1076.89 L408.59,1078.07 L409.19,1079.51 L409.79,1081.18 L410.39,1083.08 L410.99,1085.17 L411.59,1087.41 L412.19,1089.78 L412.79,1092.24 L413.39,1094.74 L413.99,1097.25 L414.59,1099.71 L415.19,1102.11 L415.79,1104.38 L416.39,1106.5 L416.99,1108.44 L417.59,1110.16 L418.19,1111.65 L418.79,1112.88 L419.39,1113.85 L419.99,1113.78 L420.59,1112.79 L421.19,1111.53 L421.79,1110.02 L422.39,1108.28 L422.99,1106.32 L423.59,1104.19 L424.18,1101.9 L424.78,1099.5 L425.38,1097.03 L425.98,1094.52 L426.58,1092.02 L427.18,1089.57 L427.78,1087.21 L428.38,1084.98 L428.98,1082.91 L429.58,1081.03 L430.18,1079.37 L430.78,1077.96 L431.38,1076.8 L431.98,1075.92 L432.58,1076.49 L433.18,1077.55 L433.78,1078.89 L434.38,1080.47 L434.98,1082.27 L435.58,1084.29 L436.18,1086.47 L436.78,1088.79 L437.38,1091.22 L437.98,1093.71 L438.58,1096.22 L439.18,1098.71 L439.78,1101.13 L440.38,1103.46 L440.98,1105.65 L441.58,1107.67 L442.18,1109.48 L442.78,1111.07 L443.38,1112.41 L443.98,1113.49 L444.58,1114.1 L445.18,1113.23 L445.78,1112.08 L446.38,1110.67 L446.98,1109.02 L447.58,1107.15 L448.18,1105.09 L448.78,1102.86 L449.38,1100.5 L449.98,1098.05 L450.58,1095.55 L451.18,1093.05 L451.78,1090.57 L452.38,1088.17 L452.98,1085.88 L453.58,1083.74 L454.18,1081.78 L454.78,1080.03 L455.38,1078.51 L455.98,1077.25 L456.58,1076.25 L457.18,1076.13 L457.78,1077.08 L458.38,1078.31 L458.98,1079.79 L459.57,1081.5 L460.17,1083.44 L460.77,1085.55 L461.37,1087.82 L461.97,1090.21 L462.57,1092.68 L463.17,1095.18 L463.77,1097.69 L464.37,1100.14 L464.97,1102.52 L465.57,1104.77 L466.17,1106.86 L466.77,1108.76 L467.37,1110.45 L467.97,1111.89 L468.57,1113.07 L469.17,1113.99 L469.77,1113.62 L470.37,1112.58 L470.97,1111.28 L471.57,1109.73 L472.17,1107.95 L472.77,1105.96 L473.37,1103.79 L473.97,1101.48 L474.57,1099.07 L475.17,1096.59 L475.77,1094.08 L476.37,1091.58 L476.97,1089.15 L477.57,1086.81 L478.17,1084.6 L478.77,1082.56 L479.37,1080.72 L479.97,1079.1 L480.57,1077.74 L481.17,1076.63 L481.77,1075.81 L482.37,1076.66 L482.97,1077.77 L483.57,1079.15 L484.17,1080.77 L484.77,1082.62 L485.37,1084.66 L485.97,1086.87 L486.57,1089.22 L487.17,1091.66 L487.77,1094.15 L488.37,1096.66 L488.97,1099.14 L489.57,1101.55 L490.17,1103.86 L490.77,1106.02 L491.37,1108 L491.97,1109.78 L492.57,1111.32 L493.17,1112.62 L493.77,1113.65 L494.37,1113.97 L494.97,1113.04 L495.56,1111.85 L496.16,1110.4 L496.76,1108.71 L497.36,1106.8 L497.96,1104.7 L498.56,1102.45 L499.16,1100.07 L499.76,1097.61 L500.36,1095.11 L500.96,1092.61 L501.56,1090.14 L502.16,1087.76 L502.76,1085.49 L503.36,1083.38 L503.96,1081.45 L504.56,1079.74 L505.16,1078.27 L505.76,1077.05 L506.36,1076.1 L506.96,1076.28 L507.56,1077.29 L508.16,1078.57 L508.76,1080.11 L509.36,1081.88 L509.96,1083.86 L510.56,1086.03 L511.16,1088.34 L511.76,1090.76 L512.36,1093.26 L512.96,1095.78 L513.56,1098.29 L514.16,1100.74 L514.76,1103.1 L515.36,1105.33 L515.96,1107.38 L516.56,1109.24 L517.16,1110.87 L517.76,1112.25 L518.36,1113.37 L518.96,1114.19 L519.56,1113.34 L520.16,1112.22 L520.76,1110.83 L521.36,1109.19 L521.96,1107.33 L522.56,1105.27 L523.16,1103.04 L523.76,1100.68 L524.36,1098.22 L524.96,1095.71 L525.56,1093.19 L526.16,1090.69 L526.76,1088.27 L527.36,1085.97 L527.96,1083.8 L528.56,1081.83 L529.16,1080.06 L529.76,1078.53 L530.36,1077.26 L530.95,1076.25 L531.55,1076.12 L532.15,1077.08 L532.75,1078.3 L533.35,1079.77 L533.95,1081.48 L534.55,1083.41 L535.15,1085.52 L535.75,1087.78 L536.35,1090.16 L536.95,1092.62 L537.55,1095.12 L538.15,1097.61 L538.75,1100.07 L539.35,1102.44 L539.95,1104.69 L540.55,1106.78 L541.15,1108.69 L541.75,1110.38 L542.35,1111.83 L542.95,1113.02 L543.55,1113.95 L544.15,1113.67 L544.75,1112.65 L545.35,1111.37 L545.95,1109.83 L546.55,1108.07 L547.15,1106.09 L547.75,1103.94 L548.35,1101.65 L548.95,1099.25 L549.55,1096.77 L550.15,1094.27 L550.75,1091.78 L551.35,1089.34 L551.95,1087 L552.55,1084.78 L553.15,1082.73 L553.75,1080.88 L554.35,1079.25 L554.95,1077.86 L555.55,1076.72 L556.15,1075.86 L556.75,1076.58 L557.35,1077.7 L557.95,1079.1 L558.55,1080.75 L559.15,1082.64 L559.75,1084.73 L560.35,1087 L560.95,1089.41 L561.55,1091.91 L562.15,1094.46 L562.75,1097.03 L563.35,1099.56 L563.95,1102.01 L564.55,1104.34 L565.15,1106.51 L565.75,1108.49 L566.35,1110.24 L566.94,1111.75 L567.54,1112.99 L568.14,1113.94 L568.74,1113.65 L569.34,1112.6 L569.94,1111.27 L570.54,1109.68 L571.14,1107.85 L571.74,1105.8 L572.34,1103.57 L572.94,1101.19 L573.54,1098.71 L574.14,1096.17 L574.74,1093.6 L575.34,1091.06 L575.94,1088.58 L576.54,1086.22 L577.14,1084.01 L577.74,1081.98 L578.34,1080.17 L578.94,1078.6 L579.54,1077.29 L580.14,1076.26 L580.74,1076.13 L581.34,1077.11 L581.94,1078.38 L582.54,1079.91 L583.14,1081.68 L583.74,1083.68 L584.34,1085.87 L584.94,1088.21 L585.54,1090.67 L586.14,1093.21 L586.74,1095.77 L587.34,1098.32 L587.94,1100.82 L588.54,1103.21 L589.14,1105.47 L589.74,1107.54 L590.34,1109.41 L590.94,1111.04 L591.54,1112.41 L592.14,1113.51 L592.74,1114.07 L593.34,1113.15 L593.94,1111.96 L594.54,1110.49 L595.14,1108.77 L595.74,1106.83 L596.34,1104.68 L596.94,1102.38 L597.54,1099.94 L598.14,1097.42 L598.74,1094.86 L599.34,1092.3 L599.94,1089.79 L600.54,1087.36 L601.14,1085.07 L601.74,1082.95 L602.34,1081.03 L602.93,1079.33 L603.53,1077.9 L604.13,1076.73 L604.73,1075.85 L605.33,1076.6 L605.93,1077.72 L606.53,1079.12 L607.13,1080.78 L607.73,1082.67 L608.33,1084.77 L608.93,1087.04 L609.53,1089.45 L610.13,1091.96 L610.73,1094.51 L611.33,1097.08 L611.93,1099.6 L612.53,1102.05 L613.13,1104.38 L613.73,1106.55 L614.33,1108.52 L614.93,1110.27 L615.53,1111.77 L616.13,1113.01 L616.73,1113.96 L617.33,1113.64 L617.93,1112.58 L618.53,1111.24 L619.13,1109.65 L619.73,1107.81 L620.33,1105.76 L620.93,1103.53 L621.53,1101.15 L622.13,1098.66 L622.73,1096.12 L623.33,1093.55 L623.93,1091.01 L624.53,1088.54 L625.13,1086.18 L625.73,1083.97 L626.33,1081.94 L626.93,1080.13 L627.53,1078.57 L628.13,1077.27 L628.73,1076.25 L629.33,1076.15 L629.93,1077.14 L630.53,1078.4 L631.13,1079.94 L631.73,1081.72 L632.33,1083.72 L632.93,1085.91 L633.53,1088.26 L634.13,1090.72 L634.73,1093.25 L635.33,1095.82 L635.93,1098.37 L636.53,1100.86 L637.13,1103.26 L637.73,1105.51 L638.32,1107.58 L638.92,1109.44 L639.52,1111.07 L640.12,1112.44 L640.72,1113.53 L641.32,1114.05 L641.92,1113.13 L642.52,1111.93 L643.12,1110.46 L643.72,1108.74 L644.32,1106.79 L644.92,1104.64 L645.52,1102.33 L646.12,1099.89 L646.72,1097.37 L647.32,1094.81 L647.92,1092.25 L648.52,1089.74 L649.12,1087.32 L649.72,1085.03 L650.32,1082.91 L650.92,1080.99 L651.52,1079.3 L652.12,1077.87 L652.72,1076.71 L653.32,1075.84 L653.92,1076.62 L654.52,1077.75 L655.12,1079.15 L655.72,1080.82 L656.32,1082.71 L656.92,1084.81 L657.52,1087.09 L658.12,1089.5 L658.72,1092 L659.32,1094.56 L659.92,1097.12 L660.52,1099.65 L661.12,1102.1 L661.72,1104.42 L662.32,1106.59 L662.92,1108.56 L663.52,1110.3 L664.12,1111.8 L664.72,1113.03 L665.32,1113.98 L665.92,1113.62 L666.52,1112.56 L667.12,1111.22 L667.72,1109.61 L668.32,1107.77 L668.92,1105.72 L669.52,1103.48 L670.12,1101.1 L670.72,1098.62 L671.32,1096.07 L671.92,1093.5 L672.52,1090.96 L673.12,1088.49 L673.72,1086.13 L674.31,1083.93 L674.91,1081.9 L675.51,1080.1 L676.11,1078.54 L676.71,1077.25 L677.31,1076.23 L677.91,1076.16 L678.51,1077.16 L679.11,1078.43 L679.71,1079.97 L680.31,1081.75 L680.91,1083.76 L681.51,1085.95 L682.11,1088.3 L682.71,1090.77 L683.31,1093.3 L683.91,1095.87 L684.51,1098.42 L685.11,1100.91 L685.71,1103.3 L686.31,1105.55 L686.91,1107.62 L687.51,1109.48 L688.11,1111.1 L688.71,1112.46 L689.31,1113.55 L689.91,1114.04 L690.51,1113.11 L691.11,1111.91 L691.71,1110.43 L692.31,1108.7 L692.91,1106.75 L693.51,1104.6 L694.11,1102.29 L694.71,1099.85 L695.31,1097.32 L695.91,1094.76 L696.51,1092.2 L697.11,1089.69 L697.71,1087.27 L698.31,1084.99 L698.91,1082.87 L699.51,1080.96 L700.11,1079.28 L700.71,1077.85 L701.31,1076.69 L701.91,1075.82 L702.51,1076.63 L703.11,1077.77 L703.71,1079.18 L704.31,1080.85 L704.91,1082.75 L705.51,1084.86 L706.11,1087.13 L706.71,1089.55 L707.31,1092.05 L707.91,1094.61 L708.51,1097.17 L709.11,1099.7 L709.7,1102.14 L710.3,1104.47 L710.9,1106.63 L711.5,1108.59 L712.1,1110.34 L712.7,1111.83 L713.3,1113.05 L713.9,1113.99 L714.5,1113.6 L715.1,1112.53 L715.7,1111.19 L716.3,1109.58 L716.9,1107.74 L717.5,1105.68 L718.1,1103.44 L718.7,1101.06 L719.3,1098.57 L719.9,1096.02 L720.5,1093.45 L721.1,1090.92 L721.7,1088.45 L722.3,1086.09 L722.9,1083.89 L723.5,1081.87 L724.1,1080.07 L724.7,1078.52 L725.3,1077.23 L725.9,1076.21 L726.5,1076.18 L727.1,1077.18 L727.7,1078.46 L728.3,1080 L728.9,1081.79 L729.5,1083.8 L730.1,1086 L730.7,1088.35 L731.3,1090.81 L731.9,1093.35 L732.5,1095.92 L733.1,1098.47 L733.7,1100.96 L734.3,1103.34 L734.9,1105.59 L735.5,1107.66 L736.1,1109.51 L736.7,1111.13 L737.3,1112.48 L737.9,1113.56 L738.5,1114.02 L739.1,1113.09 L739.7,1111.88 L740.3,1110.4 L740.9,1108.67 L741.5,1106.71 L742.1,1104.56 L742.7,1102.24 L743.3,1099.8 L743.9,1097.28 L744.5,1094.71 L745.1,1092.15 L745.69,1089.65 L746.29,1087.23 L746.89,1084.95 L747.49,1082.83 L748.09,1080.92 L748.69,1079.25 L749.29,1077.82 L749.89,1076.67 L750.49,1075.81 L751.09,1076.68 L751.69,1077.88 L752.29,1079.36 L752.89,1081.11 L753.49,1083.11 L754.09,1085.31 L754.69,1087.7 L755.29,1090.21 L755.89,1092.82 L756.49,1095.46 L757.09,1098.1 L757.69,1100.67 L758.29,1103.15 L758.89,1105.48 L759.49,1107.61 L760.09,1109.53 L760.69,1111.19 L761.29,1112.57 L761.89,1113.66 L762.49,1113.91 L763.09,1112.91 L763.69,1111.61 L764.29,1110.02 L764.89,1108.18 L765.49,1106.1 L766.09,1103.82 L766.69,1101.39 L767.29,1098.83 L767.89,1096.21 L768.49,1093.56 L769.09,1090.94 L769.69,1088.4 L770.29,1085.97 L770.89,1083.71 L771.49,1081.65 L772.09,1079.83 L772.69,1078.27 L773.29,1076.99 L773.89,1076.01 L774.49,1076.38 L775.09,1077.4 L775.69,1078.68 L776.29,1080.21 L776.89,1081.96 L777.49,1083.91 L778.09,1086.04 L778.69,1088.31 L779.29,1090.69 L779.89,1093.13 L780.49,1095.61 L781.08,1098.08 L781.68,1100.49 L782.28,1102.82 L782.88,1105.03 L783.48,1107.08 L784.08,1108.93 L784.68,1110.58 L785.28,1111.98 L785.88,1113.14 L786.48,1114.03 L787.08,1113.59 L787.68,1112.56 L788.28,1111.27 L788.88,1109.74 L789.48,1107.98 L790.08,1106.02 L790.68,1103.88 L791.28,1101.61 L791.88,1099.23 L792.48,1096.78 L793.08,1094.3 L793.68,1091.83 L794.28,1089.42 L794.88,1087.09 L795.48,1084.89 L796.08,1082.85 L796.68,1081 L797.28,1079.37 L797.88,1077.97 L798.48,1076.83 L799.08,1075.94 L799.68,1076.45 L800.28,1077.51 L800.88,1078.83 L801.48,1080.4 L802.08,1082.19 L802.68,1084.19 L803.28,1086.37 L803.88,1088.68 L804.48,1091.1 L805.08,1093.59 L805.68,1096.09 L806.28,1098.58 L806.88,1101.01 L807.48,1103.34 L808.08,1105.54 L808.68,1107.56 L809.28,1109.39 L809.88,1110.99 L810.48,1112.34 L811.08,1113.43 L811.68,1114.15 L812.28,1113.29 L812.88,1112.16 L813.48,1110.77 L814.08,1109.14 L814.68,1107.28 L815.28,1105.23 L815.88,1103.01 L816.48,1100.67 L817.07,1098.23 L817.67,1095.73 L818.27,1093.23 L818.87,1090.75 L819.47,1088.34 L820.07,1086.05 L820.67,1083.89 L821.27,1081.92 L821.87,1080.16 L822.47,1078.62 L823.07,1077.34 L823.67,1076.32 L824.27,1076.06 L824.87,1076.99 L825.47,1078.19 L826.07,1079.65 L826.67,1081.35 L827.27,1083.26 L827.87,1085.36 L828.47,1087.61 L829.07,1089.99 L829.67,1092.45 L830.27,1094.95 L830.87,1097.45 L831.47,1099.91 L832.07,1102.29 L832.67,1104.55 L833.27,1106.66 L833.87,1108.58 L834.47,1110.29 L835.07,1111.75 L835.67,1112.96 L836.27,1113.91 L836.87,1113.71 L837.47,1112.71 L838.07,1111.44 L838.67,1109.91 L839.27,1108.15 L839.87,1106.19 L840.47,1104.04 L841.07,1101.75 L841.67,1099.35 L842.27,1096.87 L842.87,1094.37 L843.47,1091.87 L844.07,1089.43 L844.67,1087.08 L845.27,1084.86 L845.87,1082.8 L846.47,1080.93 L847.07,1079.29 L847.67,1077.89 L848.27,1076.75 L848.87,1075.88 L849.47,1076.53 L850.07,1077.61 L850.67,1078.95 L851.27,1080.54 L851.87,1082.36 L852.46,1084.38 L853.06,1086.57 L853.66,1088.89 L854.26,1091.32 L854.86,1093.81 L855.46,1096.31 L856.06,1098.8 L856.66,1101.22 L857.26,1103.54 L857.86,1105.72 L858.46,1107.73 L859.06,1109.54 L859.66,1111.11 L860.26,1112.44 L860.86,1113.51 L861.46,1114.08 L862.06,1113.2 L862.66,1112.05 L863.26,1110.64 L863.86,1108.98 L864.46,1107.11 L865.06,1105.04 L865.66,1102.81 L866.26,1100.46 L866.86,1098.01 L867.46,1095.51 L868.06,1093.01 L868.66,1090.54 L869.26,1088.14 L869.86,1085.85 L870.46,1083.71 L871.06,1081.76 L871.66,1080.01 L872.26,1078.5 L872.86,1077.24 L873.46,1076.24 L874.06,1076.13 L874.66,1077.09 L875.26,1078.31 L875.86,1079.79 L876.46,1081.51 L877.06,1083.43 L877.66,1085.55 L878.26,1087.82 L878.86,1090.2 L879.46,1092.67 L880.06,1095.17 L880.66,1097.67 L881.26,1100.13 L881.86,1102.5 L882.46,1104.75 L883.06,1106.84 L883.66,1108.74 L884.26,1110.42 L884.86,1111.87 L885.46,1113.06 L886.06,1113.98 L886.66,1113.64 L887.26,1112.61 L887.86,1111.31 L888.45,1109.77 L889.05,1107.99 L889.65,1106.01 L890.25,1103.85 L890.85,1101.54 L891.45,1099.13 L892.05,1096.65 L892.65,1094.15 L893.25,1091.66 L893.85,1089.22 L894.45,1086.88 L895.05,1084.67 L895.65,1082.62 L896.25,1080.78 L896.85,1079.16 L897.45,1077.78 L898.05,1076.66 L898.65,1075.82 L899.25,1076.62 L899.85,1077.72 L900.45,1079.09 L901.05,1080.7 L901.65,1082.53 L902.25,1084.56 L902.85,1086.77 L903.45,1089.1 L904.05,1091.54 L904.65,1094.03 L905.25,1096.53 L905.85,1099.01 L906.45,1101.43 L907.05,1103.74 L907.65,1105.91 L908.25,1107.9 L908.85,1109.68 L909.45,1111.24 L910.05,1112.55 L910.65,1113.59 L911.25,1114.02 L911.85,1113.11 L912.45,1111.93 L913.05,1110.5 L913.65,1108.83 L914.25,1106.94 L914.85,1104.85 L915.45,1102.61 L916.05,1100.24 L916.65,1097.79 L917.25,1095.29 L917.85,1092.79 L918.45,1090.32 L919.05,1087.93 L919.65,1085.66 L920.25,1083.53 L920.85,1081.59 L921.45,1079.87 L922.05,1078.38 L922.65,1077.14 L923.25,1076.17 L923.85,1076.2 L924.44,1077.18 L925.04,1078.43 L925.64,1079.93 L926.24,1081.67 L926.84,1083.61 L927.44,1085.74 L928.04,1088.02 L928.64,1090.42 L929.24,1092.89 L929.84,1095.39 L930.44,1097.89 L931.04,1100.34 L931.64,1102.7 L932.24,1104.94 L932.84,1107.01 L933.44,1108.9 L934.04,1110.56 L934.64,1111.98 L935.24,1113.15 L935.84,1114.05 L936.44,1113.56 L937.04,1112.5 L937.64,1111.19 L938.24,1109.62 L938.84,1107.82 L939.44,1105.82 L940.04,1103.65 L940.64,1101.34 L941.24,1098.92 L941.84,1096.43 L942.44,1093.93 L943.04,1091.44 L943.64,1089.01 L944.24,1086.68 L944.84,1084.48 L945.44,1082.45 L946.04,1080.63 L946.64,1079.03 L947.24,1077.67 L947.84,1076.58 L948.44,1075.85 L949.04,1076.7 L949.64,1077.83 L950.24,1079.22 L950.84,1080.85 L951.44,1082.7 L952.04,1084.75 L952.64,1086.97 L953.24,1089.31 L953.84,1091.75 L954.44,1094.25 L955.04,1096.75 L955.64,1099.23 L956.24,1101.64 L956.84,1103.93 L957.44,1106.09 L958.04,1108.06 L958.64,1109.83 L959.24,1111.37 L959.83,1112.65 L960.43,1113.67 L961.03,1113.95 L961.63,1113.02 L962.23,1111.82 L962.83,1110.36 L963.43,1108.67 L964.03,1106.76 L964.63,1104.66 L965.23,1102.41 L965.83,1100.03 L966.43,1097.57 L967.03,1095.07 L967.63,1092.57 L968.23,1090.11 L968.83,1087.73 L969.43,1085.46 L970.03,1083.36 L970.63,1081.43 L971.23,1079.73 L971.83,1078.26 L972.43,1077.04 L973.03,1076.1 L973.63,1076.28 L974.23,1077.28 L974.83,1078.55 L975.43,1080.08 L976.03,1081.83 L976.63,1083.79 L977.23,1085.94 L977.83,1088.23 L978.43,1090.63 L979.03,1093.11 L979.63,1095.61 L980.23,1098.11 L980.83,1100.55 L981.43,1102.9 L982.03,1105.13 L982.63,1107.19 L983.23,1109.05 L983.83,1110.7 L984.43,1112.1 L985.03,1113.24 L985.63,1114.11 L986.23,1113.48 L986.83,1112.4 L987.43,1111.06 L988.03,1109.47 L988.63,1107.66 L989.23,1105.64 L989.83,1103.45 L990.43,1101.13 L991.03,1098.7 L991.63,1096.21 L992.23,1093.71 L992.83,1091.22 L993.43,1088.8 L994.03,1086.48 L994.63,1084.3 L995.23,1082.29 L995.82,1080.48 L996.42,1078.9 L997.02,1077.57 L997.62,1076.5 L998.22,1075.91 L998.82,1076.79 L999.42,1077.94 L1000.02,1079.35 L1000.62,1081 L1001.22,1082.87 L1001.82,1084.94 L1002.42,1087.17 L1003.02,1089.52 L1003.62,1091.97 L1004.22,1094.47 L1004.82,1096.97 L1005.42,1099.44 L1006.02,1101.84 L1006.62,1104.13 L1007.22,1106.27 L1007.82,1108.23 L1008.42,1109.98 L1009.02,1111.49 L1009.62,1112.75 L1010.22,1113.75 L1010.82,1113.88 L1011.42,1112.92 L1012.02,1111.7 L1012.62,1110.22 L1013.22,1108.51 L1013.82,1106.58 L1014.42,1104.47 L1015.02,1102.2 L1015.62,1099.82 L1016.22,1097.35 L1016.82,1094.85 L1017.42,1092.35 L1018.02,1089.89 L1018.62,1087.52 L1019.22,1085.27 L1019.82,1083.18 L1020.42,1081.28 L1021.02,1079.59 L1021.62,1078.14 L1022.22,1076.95 L1022.82,1076.03 L1023.42,1076.36 L1024.02,1077.4 L1024.62,1078.7 L1025.22,1080.26 L1025.82,1082.05 L1026.42,1084.06 L1027.02,1086.24 L1027.62,1088.56 L1028.22,1090.99 L1028.82,1093.49 L1029.42,1096.01 L1030.02,1098.52 L1030.62,1100.97 L1031.21,1103.31 L1031.81,1105.53 L1032.41,1107.56 L1033.01,1109.4 L1033.61,1111.01 L1034.21,1112.36 L1034.81,1113.46 L1035.41,1114.12 L1036.01,1113.25 L1036.61,1112.1 L1037.21,1110.69 L1037.81,1109.03 L1038.41,1107.15 L1039.01,1105.07 L1039.61,1102.82 L1040.21,1100.45 L1040.81,1097.99 L1041.41,1095.48 L1042.01,1092.95 L1042.61,1090.47 L1043.21,1088.06 L1043.81,1085.76 L1044.41,1083.61 L1045.01,1081.65 L1045.61,1079.91 L1046.21,1078.4 L1046.81,1077.15 L1047.41,1076.17 L1048.01,1076.21 L1048.61,1077.2 L1049.21,1078.47 L1049.81,1079.99 L1050.41,1081.75 L1051.01,1083.73 L1051.61,1085.89 L1052.21,1088.21 L1052.81,1090.64 L1053.41,1093.14 L1054.01,1095.67 L1054.61,1098.19 L1055.21,1100.66 L1055.81,1103.03 L1056.41,1105.27 L1057.01,1107.34 L1057.61,1109.21 L1058.21,1110.85 L1058.81,1112.24 L1059.41,1113.36 L1060.01,1114.19 L1060.61,1113.34 L1061.21,1112.21 L1061.81,1110.81 L1062.41,1109.17 L1063.01,1107.29 L1063.61,1105.22 L1064.21,1102.98 L1064.81,1100.6 L1065.41,1098.13 L1066.01,1095.61 L1066.61,1093.08 L1067.2,1090.58 L1067.8,1088.15 L1068.4,1085.84 L1069,1083.68 L1069.6,1081.71 L1070.2,1079.95 L1070.8,1078.43 L1071.4,1077.17 L1072,1076.19 L1072.6,1076.2 L1073.2,1077.19 L1073.8,1078.45 L1074.4,1079.97 L1075,1081.73 L1075.6,1083.71 L1076.2,1085.87 L1076.8,1088.18 L1077.4,1090.61 L1078,1093.11 L1078.6,1095.64 L1079.2,1098.16 L1079.8,1100.63 L1080.4,1103 L1081,1105.25 L1081.6,1107.32 L1082.2,1109.19 L1082.8,1110.83 L1083.4,1112.22 L1084,1113.35 L1084.6,1114.2 C1086.1,1114.2 1086.6,1103 1087.6,1095 C1090.6,1083 1102.6,1078 1122.6,1078 L1141,1078" stroke="#888" stroke-width="3.5" fill="none" transform="translate(1,5)"/><rect x="258" y="1076" width="52" height="14" fill="#999"/><rect x="1141" y="1076" width="52" height="12" fill="#999"/></g>
<path d="M309,1078 L338,1078 C354,1078.5 364,1086 367,1098 C368.5,1108 368.8,1114.2 370.2,1114.2 L370.2,1113.92 L370.8,1112.98 L371.4,1111.77 L372,1110.31 L372.6,1108.6 L373.2,1106.68 L373.8,1104.58 L374.4,1102.32 L375,1099.93 L375.6,1097.47 L376.2,1094.97 L376.8,1092.46 L377.4,1090 L378,1087.62 L378.6,1085.36 L379.2,1083.26 L379.8,1081.35 L380.4,1079.65 L381,1078.19 L381.6,1076.99 L382.2,1076.05 L382.8,1076.33 L383.4,1077.35 L384,1078.63 L384.6,1080.17 L385.2,1081.94 L385.8,1083.92 L386.4,1086.07 L387,1088.37 L387.6,1090.79 L388.19,1093.26 L388.79,1095.77 L389.39,1098.27 L389.99,1100.71 L390.59,1103.06 L391.19,1105.27 L391.79,1107.32 L392.39,1109.18 L392.99,1110.81 L393.59,1112.19 L394.19,1113.31 L394.79,1114.17 L395.39,1113.4 L395.99,1112.3 L396.59,1110.94 L397.19,1109.33 L397.79,1107.5 L398.39,1105.47 L398.99,1103.26 L399.59,1100.93 L400.19,1098.49 L400.79,1096 L401.39,1093.49 L401.99,1091.01 L402.59,1088.59 L403.19,1086.27 L403.79,1084.1 L404.39,1082.11 L404.99,1080.32 L405.59,1078.76 L406.19,1077.45 L406.79,1076.41 L407.39,1075.98 L407.99,1076.89 L408.59,1078.07 L409.19,1079.51 L409.79,1081.18 L410.39,1083.08 L410.99,1085.17 L411.59,1087.41 L412.19,1089.78 L412.79,1092.24 L413.39,1094.74 L413.99,1097.25 L414.59,1099.71 L415.19,1102.11 L415.79,1104.38 L416.39,1106.5 L416.99,1108.44 L417.59,1110.16 L418.19,1111.65 L418.79,1112.88 L419.39,1113.85 L419.99,1113.78 L420.59,1112.79 L421.19,1111.53 L421.79,1110.02 L422.39,1108.28 L422.99,1106.32 L423.59,1104.19 L424.18,1101.9 L424.78,1099.5 L425.38,1097.03 L425.98,1094.52 L426.58,1092.02 L427.18,1089.57 L427.78,1087.21 L428.38,1084.98 L428.98,1082.91 L429.58,1081.03 L430.18,1079.37 L430.78,1077.96 L431.38,1076.8 L431.98,1075.92 L432.58,1076.49 L433.18,1077.55 L433.78,1078.89 L434.38,1080.47 L434.98,1082.27 L435.58,1084.29 L436.18,1086.47 L436.78,1088.79 L437.38,1091.22 L437.98,1093.71 L438.58,1096.22 L439.18,1098.71 L439.78,1101.13 L440.38,1103.46 L440.98,1105.65 L441.58,1107.67 L442.18,1109.48 L442.78,1111.07 L443.38,1112.41 L443.98,1113.49 L444.58,1114.1 L445.18,1113.23 L445.78,1112.08 L446.38,1110.67 L446.98,1109.02 L447.58,1107.15 L448.18,1105.09 L448.78,1102.86 L449.38,1100.5 L449.98,1098.05 L450.58,1095.55 L451.18,1093.05 L451.78,1090.57 L452.38,1088.17 L452.98,1085.88 L453.58,1083.74 L454.18,1081.78 L454.78,1080.03 L455.38,1078.51 L455.98,1077.25 L456.58,1076.25 L457.18,1076.13 L457.78,1077.08 L458.38,1078.31 L458.98,1079.79 L459.57,1081.5 L460.17,1083.44 L460.77,1085.55 L461.37,1087.82 L461.97,1090.21 L462.57,1092.68 L463.17,1095.18 L463.77,1097.69 L464.37,1100.14 L464.97,1102.52 L465.57,1104.77 L466.17,1106.86 L466.77,1108.76 L467.37,1110.45 L467.97,1111.89 L468.57,1113.07 L469.17,1113.99 L469.77,1113.62 L470.37,1112.58 L470.97,1111.28 L471.57,1109.73 L472.17,1107.95 L472.77,1105.96 L473.37,1103.79 L473.97,1101.48 L474.57,1099.07 L475.17,1096.59 L475.77,1094.08 L476.37,1091.58 L476.97,1089.15 L477.57,1086.81 L478.17,1084.6 L478.77,1082.56 L479.37,1080.72 L479.97,1079.1 L480.57,1077.74 L481.17,1076.63 L481.77,1075.81 L482.37,1076.66 L482.97,1077.77 L483.57,1079.15 L484.17,1080.77 L484.77,1082.62 L485.37,1084.66 L485.97,1086.87 L486.57,1089.22 L487.17,1091.66 L487.77,1094.15 L488.37,1096.66 L488.97,1099.14 L489.57,1101.55 L490.17,1103.86 L490.77,1106.02 L491.37,1108 L491.97,1109.78 L492.57,1111.32 L493.17,1112.62 L493.77,1113.65 L494.37,1113.97 L494.97,1113.04 L495.56,1111.85 L496.16,1110.4 L496.76,1108.71 L497.36,1106.8 L497.96,1104.7 L498.56,1102.45 L499.16,1100.07 L499.76,1097.61 L500.36,1095.11 L500.96,1092.61 L501.56,1090.14 L502.16,1087.76 L502.76,1085.49 L503.36,1083.38 L503.96,1081.45 L504.56,1079.74 L505.16,1078.27 L505.76,1077.05 L506.36,1076.1 L506.96,1076.28 L507.56,1077.29 L508.16,1078.57 L508.76,1080.11 L509.36,1081.88 L509.96,1083.86 L510.56,1086.03 L511.16,1088.34 L511.76,1090.76 L512.36,1093.26 L512.96,1095.78 L513.56,1098.29 L514.16,1100.74 L514.76,1103.1 L515.36,1105.33 L515.96,1107.38 L516.56,1109.24 L517.16,1110.87 L517.76,1112.25 L518.36,1113.37 L518.96,1114.19 L519.56,1113.34 L520.16,1112.22 L520.76,1110.83 L521.36,1109.19 L521.96,1107.33 L522.56,1105.27 L523.16,1103.04 L523.76,1100.68 L524.36,1098.22 L524.96,1095.71 L525.56,1093.19 L526.16,1090.69 L526.76,1088.27 L527.36,1085.97 L527.96,1083.8 L528.56,1081.83 L529.16,1080.06 L529.76,1078.53 L530.36,1077.26 L530.95,1076.25 L531.55,1076.12 L532.15,1077.08 L532.75,1078.3 L533.35,1079.77 L533.95,1081.48 L534.55,1083.41 L535.15,1085.52 L535.75,1087.78 L536.35,1090.16 L536.95,1092.62 L537.55,1095.12 L538.15,1097.61 L538.75,1100.07 L539.35,1102.44 L539.95,1104.69 L540.55,1106.78 L541.15,1108.69 L541.75,1110.38 L542.35,1111.83 L542.95,1113.02 L543.55,1113.95 L544.15,1113.67 L544.75,1112.65 L545.35,1111.37 L545.95,1109.83 L546.55,1108.07 L547.15,1106.09 L547.75,1103.94 L548.35,1101.65 L548.95,1099.25 L549.55,1096.77 L550.15,1094.27 L550.75,1091.78 L551.35,1089.34 L551.95,1087 L552.55,1084.78 L553.15,1082.73 L553.75,1080.88 L554.35,1079.25 L554.95,1077.86 L555.55,1076.72 L556.15,1075.86 L556.75,1076.58 L557.35,1077.7 L557.95,1079.1 L558.55,1080.75 L559.15,1082.64 L559.75,1084.73 L560.35,1087 L560.95,1089.41 L561.55,1091.91 L562.15,1094.46 L562.75,1097.03 L563.35,1099.56 L563.95,1102.01 L564.55,1104.34 L565.15,1106.51 L565.75,1108.49 L566.35,1110.24 L566.94,1111.75 L567.54,1112.99 L568.14,1113.94 L568.74,1113.65 L569.34,1112.6 L569.94,1111.27 L570.54,1109.68 L571.14,1107.85 L571.74,1105.8 L572.34,1103.57 L572.94,1101.19 L573.54,1098.71 L574.14,1096.17 L574.74,1093.6 L575.34,1091.06 L575.94,1088.58 L576.54,1086.22 L577.14,1084.01 L577.74,1081.98 L578.34,1080.17 L578.94,1078.6 L579.54,1077.29 L580.14,1076.26 L580.74,1076.13 L581.34,1077.11 L581.94,1078.38 L582.54,1079.91 L583.14,1081.68 L583.74,1083.68 L584.34,1085.87 L584.94,1088.21 L585.54,1090.67 L586.14,1093.21 L586.74,1095.77 L587.34,1098.32 L587.94,1100.82 L588.54,1103.21 L589.14,1105.47 L589.74,1107.54 L590.34,1109.41 L590.94,1111.04 L591.54,1112.41 L592.14,1113.51 L592.74,1114.07 L593.34,1113.15 L593.94,1111.96 L594.54,1110.49 L595.14,1108.77 L595.74,1106.83 L596.34,1104.68 L596.94,1102.38 L597.54,1099.94 L598.14,1097.42 L598.74,1094.86 L599.34,1092.3 L599.94,1089.79 L600.54,1087.36 L601.14,1085.07 L601.74,1082.95 L602.34,1081.03 L602.93,1079.33 L603.53,1077.9 L604.13,1076.73 L604.73,1075.85 L605.33,1076.6 L605.93,1077.72 L606.53,1079.12 L607.13,1080.78 L607.73,1082.67 L608.33,1084.77 L608.93,1087.04 L609.53,1089.45 L610.13,1091.96 L610.73,1094.51 L611.33,1097.08 L611.93,1099.6 L612.53,1102.05 L613.13,1104.38 L613.73,1106.55 L614.33,1108.52 L614.93,1110.27 L615.53,1111.77 L616.13,1113.01 L616.73,1113.96 L617.33,1113.64 L617.93,1112.58 L618.53,1111.24 L619.13,1109.65 L619.73,1107.81 L620.33,1105.76 L620.93,1103.53 L621.53,1101.15 L622.13,1098.66 L622.73,1096.12 L623.33,1093.55 L623.93,1091.01 L624.53,1088.54 L625.13,1086.18 L625.73,1083.97 L626.33,1081.94 L626.93,1080.13 L627.53,1078.57 L628.13,1077.27 L628.73,1076.25 L629.33,1076.15 L629.93,1077.14 L630.53,1078.4 L631.13,1079.94 L631.73,1081.72 L632.33,1083.72 L632.93,1085.91 L633.53,1088.26 L634.13,1090.72 L634.73,1093.25 L635.33,1095.82 L635.93,1098.37 L636.53,1100.86 L637.13,1103.26 L637.73,1105.51 L638.32,1107.58 L638.92,1109.44 L639.52,1111.07 L640.12,1112.44 L640.72,1113.53 L641.32,1114.05 L641.92,1113.13 L642.52,1111.93 L643.12,1110.46 L643.72,1108.74 L644.32,1106.79 L644.92,1104.64 L645.52,1102.33 L646.12,1099.89 L646.72,1097.37 L647.32,1094.81 L647.92,1092.25 L648.52,1089.74 L649.12,1087.32 L649.72,1085.03 L650.32,1082.91 L650.92,1080.99 L651.52,1079.3 L652.12,1077.87 L652.72,1076.71 L653.32,1075.84 L653.92,1076.62 L654.52,1077.75 L655.12,1079.15 L655.72,1080.82 L656.32,1082.71 L656.92,1084.81 L657.52,1087.09 L658.12,1089.5 L658.72,1092 L659.32,1094.56 L659.92,1097.12 L660.52,1099.65 L661.12,1102.1 L661.72,1104.42 L662.32,1106.59 L662.92,1108.56 L663.52,1110.3 L664.12,1111.8 L664.72,1113.03 L665.32,1113.98 L665.92,1113.62 L666.52,1112.56 L667.12,1111.22 L667.72,1109.61 L668.32,1107.77 L668.92,1105.72 L669.52,1103.48 L670.12,1101.1 L670.72,1098.62 L671.32,1096.07 L671.92,1093.5 L672.52,1090.96 L673.12,1088.49 L673.72,1086.13 L674.31,1083.93 L674.91,1081.9 L675.51,1080.1 L676.11,1078.54 L676.71,1077.25 L677.31,1076.23 L677.91,1076.16 L678.51,1077.16 L679.11,1078.43 L679.71,1079.97 L680.31,1081.75 L680.91,1083.76 L681.51,1085.95 L682.11,1088.3 L682.71,1090.77 L683.31,1093.3 L683.91,1095.87 L684.51,1098.42 L685.11,1100.91 L685.71,1103.3 L686.31,1105.55 L686.91,1107.62 L687.51,1109.48 L688.11,1111.1 L688.71,1112.46 L689.31,1113.55 L689.91,1114.04 L690.51,1113.11 L691.11,1111.91 L691.71,1110.43 L692.31,1108.7 L692.91,1106.75 L693.51,1104.6 L694.11,1102.29 L694.71,1099.85 L695.31,1097.32 L695.91,1094.76 L696.51,1092.2 L697.11,1089.69 L697.71,1087.27 L698.31,1084.99 L698.91,1082.87 L699.51,1080.96 L700.11,1079.28 L700.71,1077.85 L701.31,1076.69 L701.91,1075.82 L702.51,1076.63 L703.11,1077.77 L703.71,1079.18 L704.31,1080.85 L704.91,1082.75 L705.51,1084.86 L706.11,1087.13 L706.71,1089.55 L707.31,1092.05 L707.91,1094.61 L708.51,1097.17 L709.11,1099.7 L709.7,1102.14 L710.3,1104.47 L710.9,1106.63 L711.5,1108.59 L712.1,1110.34 L712.7,1111.83 L713.3,1113.05 L713.9,1113.99 L714.5,1113.6 L715.1,1112.53 L715.7,1111.19 L716.3,1109.58 L716.9,1107.74 L717.5,1105.68 L718.1,1103.44 L718.7,1101.06 L719.3,1098.57 L719.9,1096.02 L720.5,1093.45 L721.1,1090.92 L721.7,1088.45 L722.3,1086.09 L722.9,1083.89 L723.5,1081.87 L724.1,1080.07 L724.7,1078.52 L725.3,1077.23 L725.9,1076.21 L726.5,1076.18 L727.1,1077.18 L727.7,1078.46 L728.3,1080 L728.9,1081.79 L729.5,1083.8 L730.1,1086 L730.7,1088.35 L731.3,1090.81 L731.9,1093.35 L732.5,1095.92 L733.1,1098.47 L733.7,1100.96 L734.3,1103.34 L734.9,1105.59 L735.5,1107.66 L736.1,1109.51 L736.7,1111.13 L737.3,1112.48 L737.9,1113.56 L738.5,1114.02 L739.1,1113.09 L739.7,1111.88 L740.3,1110.4 L740.9,1108.67 L741.5,1106.71 L742.1,1104.56 L742.7,1102.24 L743.3,1099.8 L743.9,1097.28 L744.5,1094.71 L745.1,1092.15 L745.69,1089.65 L746.29,1087.23 L746.89,1084.95 L747.49,1082.83 L748.09,1080.92 L748.69,1079.25 L749.29,1077.82 L749.89,1076.67 L750.49,1075.81 L751.09,1076.68 L751.69,1077.88 L752.29,1079.36 L752.89,1081.11 L753.49,1083.11 L754.09,1085.31 L754.69,1087.7 L755.29,1090.21 L755.89,1092.82 L756.49,1095.46 L757.09,1098.1 L757.69,1100.67 L758.29,1103.15 L758.89,1105.48 L759.49,1107.61 L760.09,1109.53 L760.69,1111.19 L761.29,1112.57 L761.89,1113.66 L762.49,1113.91 L763.09,1112.91 L763.69,1111.61 L764.29,1110.02 L764.89,1108.18 L765.49,1106.1 L766.09,1103.82 L766.69,1101.39 L767.29,1098.83 L767.89,1096.21 L768.49,1093.56 L769.09,1090.94 L769.69,1088.4 L770.29,1085.97 L770.89,1083.71 L771.49,1081.65 L772.09,1079.83 L772.69,1078.27 L773.29,1076.99 L773.89,1076.01 L774.49,1076.38 L775.09,1077.4 L775.69,1078.68 L776.29,1080.21 L776.89,1081.96 L777.49,1083.91 L778.09,1086.04 L778.69,1088.31 L779.29,1090.69 L779.89,1093.13 L780.49,1095.61 L781.08,1098.08 L781.68,1100.49 L782.28,1102.82 L782.88,1105.03 L783.48,1107.08 L784.08,1108.93 L784.68,1110.58 L785.28,1111.98 L785.88,1113.14 L786.48,1114.03 L787.08,1113.59 L787.68,1112.56 L788.28,1111.27 L788.88,1109.74 L789.48,1107.98 L790.08,1106.02 L790.68,1103.88 L791.28,1101.61 L791.88,1099.23 L792.48,1096.78 L793.08,1094.3 L793.68,1091.83 L794.28,1089.42 L794.88,1087.09 L795.48,1084.89 L796.08,1082.85 L796.68,1081 L797.28,1079.37 L797.88,1077.97 L798.48,1076.83 L799.08,1075.94 L799.68,1076.45 L800.28,1077.51 L800.88,1078.83 L801.48,1080.4 L802.08,1082.19 L802.68,1084.19 L803.28,1086.37 L803.88,1088.68 L804.48,1091.1 L805.08,1093.59 L805.68,1096.09 L806.28,1098.58 L806.88,1101.01 L807.48,1103.34 L808.08,1105.54 L808.68,1107.56 L809.28,1109.39 L809.88,1110.99 L810.48,1112.34 L811.08,1113.43 L811.68,1114.15 L812.28,1113.29 L812.88,1112.16 L813.48,1110.77 L814.08,1109.14 L814.68,1107.28 L815.28,1105.23 L815.88,1103.01 L816.48,1100.67 L817.07,1098.23 L817.67,1095.73 L818.27,1093.23 L818.87,1090.75 L819.47,1088.34 L820.07,1086.05 L820.67,1083.89 L821.27,1081.92 L821.87,1080.16 L822.47,1078.62 L823.07,1077.34 L823.67,1076.32 L824.27,1076.06 L824.87,1076.99 L825.47,1078.19 L826.07,1079.65 L826.67,1081.35 L827.27,1083.26 L827.87,1085.36 L828.47,1087.61 L829.07,1089.99 L829.67,1092.45 L830.27,1094.95 L830.87,1097.45 L831.47,1099.91 L832.07,1102.29 L832.67,1104.55 L833.27,1106.66 L833.87,1108.58 L834.47,1110.29 L835.07,1111.75 L835.67,1112.96 L836.27,1113.91 L836.87,1113.71 L837.47,1112.71 L838.07,1111.44 L838.67,1109.91 L839.27,1108.15 L839.87,1106.19 L840.47,1104.04 L841.07,1101.75 L841.67,1099.35 L842.27,1096.87 L842.87,1094.37 L843.47,1091.87 L844.07,1089.43 L844.67,1087.08 L845.27,1084.86 L845.87,1082.8 L846.47,1080.93 L847.07,1079.29 L847.67,1077.89 L848.27,1076.75 L848.87,1075.88 L849.47,1076.53 L850.07,1077.61 L850.67,1078.95 L851.27,1080.54 L851.87,1082.36 L852.46,1084.38 L853.06,1086.57 L853.66,1088.89 L854.26,1091.32 L854.86,1093.81 L855.46,1096.31 L856.06,1098.8 L856.66,1101.22 L857.26,1103.54 L857.86,1105.72 L858.46,1107.73 L859.06,1109.54 L859.66,1111.11 L860.26,1112.44 L860.86,1113.51 L861.46,1114.08 L862.06,1113.2 L862.66,1112.05 L863.26,1110.64 L863.86,1108.98 L864.46,1107.11 L865.06,1105.04 L865.66,1102.81 L866.26,1100.46 L866.86,1098.01 L867.46,1095.51 L868.06,1093.01 L868.66,1090.54 L869.26,1088.14 L869.86,1085.85 L870.46,1083.71 L871.06,1081.76 L871.66,1080.01 L872.26,1078.5 L872.86,1077.24 L873.46,1076.24 L874.06,1076.13 L874.66,1077.09 L875.26,1078.31 L875.86,1079.79 L876.46,1081.51 L877.06,1083.43 L877.66,1085.55 L878.26,1087.82 L878.86,1090.2 L879.46,1092.67 L880.06,1095.17 L880.66,1097.67 L881.26,1100.13 L881.86,1102.5 L882.46,1104.75 L883.06,1106.84 L883.66,1108.74 L884.26,1110.42 L884.86,1111.87 L885.46,1113.06 L886.06,1113.98 L886.66,1113.64 L887.26,1112.61 L887.86,1111.31 L888.45,1109.77 L889.05,1107.99 L889.65,1106.01 L890.25,1103.85 L890.85,1101.54 L891.45,1099.13 L892.05,1096.65 L892.65,1094.15 L893.25,1091.66 L893.85,1089.22 L894.45,1086.88 L895.05,1084.67 L895.65,1082.62 L896.25,1080.78 L896.85,1079.16 L897.45,1077.78 L898.05,1076.66 L898.65,1075.82 L899.25,1076.62 L899.85,1077.72 L900.45,1079.09 L901.05,1080.7 L901.65,1082.53 L902.25,1084.56 L902.85,1086.77 L903.45,1089.1 L904.05,1091.54 L904.65,1094.03 L905.25,1096.53 L905.85,1099.01 L906.45,1101.43 L907.05,1103.74 L907.65,1105.91 L908.25,1107.9 L908.85,1109.68 L909.45,1111.24 L910.05,1112.55 L910.65,1113.59 L911.25,1114.02 L911.85,1113.11 L912.45,1111.93 L913.05,1110.5 L913.65,1108.83 L914.25,1106.94 L914.85,1104.85 L915.45,1102.61 L916.05,1100.24 L916.65,1097.79 L917.25,1095.29 L917.85,1092.79 L918.45,1090.32 L919.05,1087.93 L919.65,1085.66 L920.25,1083.53 L920.85,1081.59 L921.45,1079.87 L922.05,1078.38 L922.65,1077.14 L923.25,1076.17 L923.85,1076.2 L924.44,1077.18 L925.04,1078.43 L925.64,1079.93 L926.24,1081.67 L926.84,1083.61 L927.44,1085.74 L928.04,1088.02 L928.64,1090.42 L929.24,1092.89 L929.84,1095.39 L930.44,1097.89 L931.04,1100.34 L931.64,1102.7 L932.24,1104.94 L932.84,1107.01 L933.44,1108.9 L934.04,1110.56 L934.64,1111.98 L935.24,1113.15 L935.84,1114.05 L936.44,1113.56 L937.04,1112.5 L937.64,1111.19 L938.24,1109.62 L938.84,1107.82 L939.44,1105.82 L940.04,1103.65 L940.64,1101.34 L941.24,1098.92 L941.84,1096.43 L942.44,1093.93 L943.04,1091.44 L943.64,1089.01 L944.24,1086.68 L944.84,1084.48 L945.44,1082.45 L946.04,1080.63 L946.64,1079.03 L947.24,1077.67 L947.84,1076.58 L948.44,1075.85 L949.04,1076.7 L949.64,1077.83 L950.24,1079.22 L950.84,1080.85 L951.44,1082.7 L952.04,1084.75 L952.64,1086.97 L953.24,1089.31 L953.84,1091.75 L954.44,1094.25 L955.04,1096.75 L955.64,1099.23 L956.24,1101.64 L956.84,1103.93 L957.44,1106.09 L958.04,1108.06 L958.64,1109.83 L959.24,1111.37 L959.83,1112.65 L960.43,1113.67 L961.03,1113.95 L961.63,1113.02 L962.23,1111.82 L962.83,1110.36 L963.43,1108.67 L964.03,1106.76 L964.63,1104.66 L965.23,1102.41 L965.83,1100.03 L966.43,1097.57 L967.03,1095.07 L967.63,1092.57 L968.23,1090.11 L968.83,1087.73 L969.43,1085.46 L970.03,1083.36 L970.63,1081.43 L971.23,1079.73 L971.83,1078.26 L972.43,1077.04 L973.03,1076.1 L973.63,1076.28 L974.23,1077.28 L974.83,1078.55 L975.43,1080.08 L976.03,1081.83 L976.63,1083.79 L977.23,1085.94 L977.83,1088.23 L978.43,1090.63 L979.03,1093.11 L979.63,1095.61 L980.23,1098.11 L980.83,1100.55 L981.43,1102.9 L982.03,1105.13 L982.63,1107.19 L983.23,1109.05 L983.83,1110.7 L984.43,1112.1 L985.03,1113.24 L985.63,1114.11 L986.23,1113.48 L986.83,1112.4 L987.43,1111.06 L988.03,1109.47 L988.63,1107.66 L989.23,1105.64 L989.83,1103.45 L990.43,1101.13 L991.03,1098.7 L991.63,1096.21 L992.23,1093.71 L992.83,1091.22 L993.43,1088.8 L994.03,1086.48 L994.63,1084.3 L995.23,1082.29 L995.82,1080.48 L996.42,1078.9 L997.02,1077.57 L997.62,1076.5 L998.22,1075.91 L998.82,1076.79 L999.42,1077.94 L1000.02,1079.35 L1000.62,1081 L1001.22,1082.87 L1001.82,1084.94 L1002.42,1087.17 L1003.02,1089.52 L1003.62,1091.97 L1004.22,1094.47 L1004.82,1096.97 L1005.42,1099.44 L1006.02,1101.84 L1006.62,1104.13 L1007.22,1106.27 L1007.82,1108.23 L1008.42,1109.98 L1009.02,1111.49 L1009.62,1112.75 L1010.22,1113.75 L1010.82,1113.88 L1011.42,1112.92 L1012.02,1111.7 L1012.62,1110.22 L1013.22,1108.51 L1013.82,1106.58 L1014.42,1104.47 L1015.02,1102.2 L1015.62,1099.82 L1016.22,1097.35 L1016.82,1094.85 L1017.42,1092.35 L1018.02,1089.89 L1018.62,1087.52 L1019.22,1085.27 L1019.82,1083.18 L1020.42,1081.28 L1021.02,1079.59 L1021.62,1078.14 L1022.22,1076.95 L1022.82,1076.03 L1023.42,1076.36 L1024.02,1077.4 L1024.62,1078.7 L1025.22,1080.26 L1025.82,1082.05 L1026.42,1084.06 L1027.02,1086.24 L1027.62,1088.56 L1028.22,1090.99 L1028.82,1093.49 L1029.42,1096.01 L1030.02,1098.52 L1030.62,1100.97 L1031.21,1103.31 L1031.81,1105.53 L1032.41,1107.56 L1033.01,1109.4 L1033.61,1111.01 L1034.21,1112.36 L1034.81,1113.46 L1035.41,1114.12 L1036.01,1113.25 L1036.61,1112.1 L1037.21,1110.69 L1037.81,1109.03 L1038.41,1107.15 L1039.01,1105.07 L1039.61,1102.82 L1040.21,1100.45 L1040.81,1097.99 L1041.41,1095.48 L1042.01,1092.95 L1042.61,1090.47 L1043.21,1088.06 L1043.81,1085.76 L1044.41,1083.61 L1045.01,1081.65 L1045.61,1079.91 L1046.21,1078.4 L1046.81,1077.15 L1047.41,1076.17 L1048.01,1076.21 L1048.61,1077.2 L1049.21,1078.47 L1049.81,1079.99 L1050.41,1081.75 L1051.01,1083.73 L1051.61,1085.89 L1052.21,1088.21 L1052.81,1090.64 L1053.41,1093.14 L1054.01,1095.67 L1054.61,1098.19 L1055.21,1100.66 L1055.81,1103.03 L1056.41,1105.27 L1057.01,1107.34 L1057.61,1109.21 L1058.21,1110.85 L1058.81,1112.24 L1059.41,1113.36 L1060.01,1114.19 L1060.61,1113.34 L1061.21,1112.21 L1061.81,1110.81 L1062.41,1109.17 L1063.01,1107.29 L1063.61,1105.22 L1064.21,1102.98 L1064.81,1100.6 L1065.41,1098.13 L1066.01,1095.61 L1066.61,1093.08 L1067.2,1090.58 L1067.8,1088.15 L1068.4,1085.84 L1069,1083.68 L1069.6,1081.71 L1070.2,1079.95 L1070.8,1078.43 L1071.4,1077.17 L1072,1076.19 L1072.6,1076.2 L1073.2,1077.19 L1073.8,1078.45 L1074.4,1079.97 L1075,1081.73 L1075.6,1083.71 L1076.2,1085.87 L1076.8,1088.18 L1077.4,1090.61 L1078,1093.11 L1078.6,1095.64 L1079.2,1098.16 L1079.8,1100.63 L1080.4,1103 L1081,1105.25 L1081.6,1107.32 L1082.2,1109.19 L1082.8,1110.83 L1083.4,1112.22 L1084,1113.35 L1084.6,1114.2 C1086.1,1114.2 1086.6,1103 1087.6,1095 C1090.6,1083 1102.6,1078 1122.6,1078 L1141,1078" stroke="#111" stroke-width="3.3" fill="none" stroke-linejoin="round"/>
<rect x="252" y="1072.6" width="11.7" height="10.8" fill="#f3f2ee" stroke="#dcdcdc" stroke-width="0.5"/>
<rect x="253.07" y="1073.41" width="4.81" height="9.18" fill="#f6f1dc"/>
<path d="M290,1070.5 C296.7,1070.5 297.65,1073.7 301.45,1073.7 L308.48,1073.61 Q310,1073.7 310,1075.42 L310,1080.58 Q310,1082.3 308.48,1082.39 L301.45,1082.3 C297.65,1082.3 296.7,1085.5 290,1085.5 Z" fill="#232325"/>
<path d="M296.7,1077.14 L308.1,1077.14" stroke="#3c3c3e" stroke-width="1.5"/>
<rect x="262.7" y="1070.5" width="28.3" height="15" fill="#303136"/>
<rect x="262.7" y="1072.6" width="28.3" height="10.8" fill="#53555c"/>
<rect x="262.7" y="1072.15" width="28.3" height="1.2" fill="#b4b5ba"/>
<rect x="262.7" y="1082.65" width="28.3" height="1.2" fill="#b4b5ba"/>
<g opacity="0.99"><text x="0" y="0" transform="translate(276.85,1079.94) scale(-1.05,1)" text-anchor="middle" font-family="Liberation Sans" font-weight="bold" font-size="5.4" fill="#f4f4f4" letter-spacing="0.65">ACVEE</text></g>
<rect x="1183.2" y="1073.4" width="10.6" height="9.2" fill="#a0a0a0"/>
<rect x="1183.2" y="1073.4" width="10.6" height="1.61" fill="#bdbdbd"/>
<path d="M1139.8,1074.92 Q1139.8,1073.38 1141.89,1073.38 L1145.02,1073.82 C1149.37,1073.6 1151.98,1070.9 1158.2,1070.9 L1158.2,1085.1 C1151.98,1085.1 1149.37,1082.4 1145.02,1082.18 L1141.89,1082.62 Q1139.8,1082.62 1139.8,1081.08 Z" fill="#232325"/>
<rect x="1157.2" y="1070.9" width="27" height="14.2" fill="#303136"/>
<rect x="1157.2" y="1073.03" width="27" height="9.94" fill="#53555c"/>
<rect x="1157.2" y="1072.46" width="27" height="1.28" fill="#b4b5ba"/>
<rect x="1157.2" y="1082.26" width="27" height="1.28" fill="#b4b5ba"/>
<g transform="translate(1170.7,1078) scale(0.93)" fill="#f4f4f4" stroke="#f4f4f4"><circle cx="-6.5" cy="0" r="1.9" stroke="none"/><path d="M-6,0 H6 M-3.2,0 L-1.2,-2.9 H2.2 M-1.8,0 L0.4,2.9 H2.6" fill="none" stroke-width="1.3"/><path d="M7.5,0 L5,-1.7 V1.7 Z" stroke="none"/><rect x="2" y="-3.9" width="2" height="2" stroke="none"/><circle cx="3.2" cy="2.9" r="1.25" stroke="none"/></g>
<g filter="url(#sh2)" opacity="0.35"><path d="M111,1258.5 L161,1258.5 C163.5,1258.5 164.3,1259.5 164.6,1262.5 L165.3,1269.5 C165.8,1273.8 167.6,1273.8 168.6,1273.8 L168.6,1273.79 L169.2,1273.74 L169.8,1273.63 L170.4,1273.48 L171,1273.28 L171.6,1273.03 L172.2,1272.74 L172.8,1272.41 L173.4,1272.03 L174,1271.62 L174.6,1271.17 L175.2,1270.69 L175.8,1270.18 L176.4,1269.64 L177,1269.08 L177.6,1268.5 L178.2,1267.91 L178.8,1267.3 L179.4,1266.69 L180,1266.07 L180.6,1265.46 L181.2,1264.85 L181.8,1264.25 L182.4,1263.66 L183,1263.09 L183.6,1262.54 L184.2,1262.01 L184.8,1261.51 L185.4,1261.04 L186,1260.61 L186.6,1260.21 L187.19,1259.85 L187.79,1259.53 L188.39,1259.26 L188.99,1259.03 L189.59,1258.85 L190.19,1258.72 L190.79,1258.63 L191.39,1258.6 L191.99,1258.62 L192.59,1258.68 L193.19,1258.8 L193.79,1258.96 L194.39,1259.17 L194.99,1259.43 L195.59,1259.73 L196.19,1260.08 L196.79,1260.46 L197.39,1260.88 L197.99,1261.34 L198.59,1261.83 L199.19,1262.35 L199.79,1262.89 L200.39,1263.46 L200.99,1264.04 L201.59,1264.64 L202.19,1265.24 L202.79,1265.86 L203.39,1266.47 L203.99,1267.09 L204.59,1267.69 L205.19,1268.29 L205.79,1268.88 L206.39,1269.44 L206.99,1269.99 L207.59,1270.51 L208.19,1271 L208.79,1271.47 L209.39,1271.89 L209.99,1272.28 L210.59,1272.63 L211.19,1272.94 L211.79,1273.2 L212.39,1273.42 L212.99,1273.59 L213.59,1273.71 L214.19,1273.78 L214.79,1273.8 L215.39,1273.77 L215.99,1273.69 L216.59,1273.57 L217.19,1273.39 L217.79,1273.17 L218.39,1272.9 L218.99,1272.59 L219.59,1272.23 L220.19,1271.84 L220.79,1271.41 L221.39,1270.94 L221.99,1270.45 L222.59,1269.92 L223.19,1269.38 L223.79,1268.81 L224.38,1268.22 L224.98,1267.62 L225.58,1267.01 L226.18,1266.4 L226.78,1265.78 L227.38,1265.17 L227.98,1264.56 L228.58,1263.97 L229.18,1263.38 L229.78,1262.82 L230.38,1262.28 L230.98,1261.77 L231.58,1261.28 L232.18,1260.83 L232.78,1260.41 L233.38,1260.03 L233.98,1259.69 L234.58,1259.4 L235.18,1259.14 L235.78,1258.94 L236.38,1258.78 L236.98,1258.67 L237.58,1258.61 L238.18,1258.6 L238.78,1258.64 L239.38,1258.74 L239.98,1258.88 L240.58,1259.07 L241.18,1259.32 L241.78,1259.6 L242.38,1259.94 L242.98,1260.31 L243.58,1260.73 L244.18,1261.18 L244.78,1261.67 L245.38,1262.19 L245.98,1262.73 L246.58,1263.3 L247.18,1263.89 L247.78,1264.49 L248.38,1265.11 L248.98,1265.73 L249.58,1266.36 L250.18,1266.99 L250.78,1267.61 L251.38,1268.22 L251.98,1268.81 L252.58,1269.39 L253.18,1269.95 L253.78,1270.48 L254.38,1270.98 L254.98,1271.45 L255.58,1271.89 L256.18,1272.28 L256.78,1272.64 L257.38,1272.95 L257.98,1273.21 L258.58,1273.43 L259.18,1273.6 L259.78,1273.72 L260.38,1273.78 L260.97,1273.8 L261.57,1273.76 L262.17,1273.67 L262.77,1273.54 L263.37,1273.35 L263.97,1273.11 L264.57,1272.83 L265.17,1272.5 L265.77,1272.12 L266.37,1271.71 L266.97,1271.26 L267.57,1270.78 L268.17,1270.26 L268.77,1269.72 L269.37,1269.15 L269.97,1268.57 L270.57,1267.96 L271.17,1267.35 L271.77,1266.73 L272.37,1266.1 L272.97,1265.47 L273.57,1264.85 L274.17,1264.24 L274.77,1263.64 L275.37,1263.06 L275.97,1262.5 L276.57,1261.97 L277.17,1261.46 L277.77,1260.99 L278.37,1260.55 L278.97,1260.15 L279.57,1259.79 L280.17,1259.48 L280.77,1259.21 L281.37,1258.99 L281.97,1258.81 L282.57,1258.69 L283.17,1258.62 L283.77,1258.6 L284.37,1258.63 L284.97,1258.71 L285.57,1258.84 L286.17,1259.01 L286.77,1259.23 L287.37,1259.5 L287.97,1259.81 L288.57,1260.16 L289.17,1260.55 L289.77,1260.98 L290.37,1261.44 L290.97,1261.93 L291.57,1262.44 L292.17,1262.99 L292.77,1263.55 L293.37,1264.13 L293.97,1264.72 L294.57,1265.33 L295.17,1265.94 L295.77,1266.55 L296.37,1267.15 L296.97,1267.76 L297.57,1268.35 L298.16,1268.93 L298.76,1269.49 L299.36,1270.03 L299.96,1270.54 L300.56,1271.03 L301.16,1271.48 L301.76,1271.91 L302.36,1272.29 L302.96,1272.64 L303.56,1272.94 L304.16,1273.2 L304.76,1273.41 L305.36,1273.58 L305.96,1273.7 L306.56,1273.78 L307.16,1273.8 L307.76,1273.77 L308.36,1273.7 L308.96,1273.58 L309.56,1273.41 L310.16,1273.19 L310.76,1272.93 L311.36,1272.62 L311.96,1272.28 L312.56,1271.89 L313.16,1271.47 L313.76,1271.01 L314.36,1270.52 L314.96,1270.01 L315.56,1269.47 L316.16,1268.9 L316.76,1268.32 L317.36,1267.73 L317.96,1267.13 L318.56,1266.52 L319.16,1265.91 L319.76,1265.3 L320.36,1264.7 L320.96,1264.11 L321.56,1263.53 L322.16,1262.96 L322.76,1262.42 L323.36,1261.9 L323.96,1261.42 L324.56,1260.96 L325.16,1260.53 L325.76,1260.14 L326.36,1259.79 L326.96,1259.49 L327.56,1259.22 L328.16,1259 L328.76,1258.83 L329.36,1258.71 L329.96,1258.63 L330.56,1258.6 L331.16,1258.62 L331.76,1258.69 L332.36,1258.81 L332.96,1258.98 L333.56,1259.2 L334.16,1259.46 L334.76,1259.77 L335.35,1260.12 L335.95,1260.51 L336.55,1260.94 L337.15,1261.4 L337.75,1261.9 L338.35,1262.42 L338.95,1262.97 L339.55,1263.53 L340.15,1264.12 L340.75,1264.72 L341.35,1265.33 L341.95,1265.95 L342.55,1266.56 L343.15,1267.18 L343.75,1267.79 L344.35,1268.38 L344.95,1268.97 L345.55,1269.53 L346.15,1270.08 L346.75,1270.59 L347.35,1271.08 L347.95,1271.54 L348.55,1271.96 L349.15,1272.34 L349.75,1272.69 L350.35,1272.99 L350.95,1273.24 L351.55,1273.45 L352.15,1273.61 L352.75,1273.72 L353.35,1273.79 L353.95,1273.8 L354.55,1273.76 L355.15,1273.67 L355.75,1273.54 L356.35,1273.35 L356.95,1273.12 L357.55,1272.84 L358.15,1272.52 L358.75,1272.16 L359.35,1271.75 L359.95,1271.31 L360.55,1270.84 L361.15,1270.34 L361.75,1269.81 L362.35,1269.25 L362.95,1268.68 L363.55,1268.09 L364.15,1267.48 L364.75,1266.87 L365.35,1266.25 L365.95,1265.64 L366.55,1265.02 L367.15,1264.42 L367.75,1263.83 L368.35,1263.25 L368.95,1262.69 L369.55,1262.15 L370.15,1261.65 L370.75,1261.17 L371.35,1260.72 L371.94,1260.31 L372.54,1259.94 L373.14,1259.61 L373.74,1259.33 L374.34,1259.09 L374.94,1258.89 L375.54,1258.75 L376.14,1258.65 L376.74,1258.6 L377.34,1258.61 L377.94,1258.66 L378.54,1258.77 L379.14,1258.93 L379.74,1259.13 L380.34,1259.39 L380.94,1259.68 L381.54,1260.03 L382.14,1260.41 L382.74,1260.84 L383.34,1261.3 L383.94,1261.79 L384.54,1262.32 L385.14,1262.87 L385.74,1263.44 L386.34,1264.03 L386.94,1264.64 L387.54,1265.25 L388.14,1265.88 L388.74,1266.5 L389.34,1267.13 L389.94,1267.74 L390.54,1268.35 L391.14,1268.94 L391.74,1269.51 L392.34,1270.07 L392.94,1270.59 L393.54,1271.09 L394.14,1271.55 L394.74,1271.97 L395.34,1272.36 L395.94,1272.7 L396.54,1273.01 L397.14,1273.26 L397.74,1273.47 L398.34,1273.63 L398.94,1273.73 L399.54,1273.79 L400.14,1273.8 L400.74,1273.75 L401.34,1273.65 L401.94,1273.51 L402.54,1273.31 L403.14,1273.06 L403.74,1272.77 L404.34,1272.44 L404.94,1272.06 L405.54,1271.64 L406.14,1271.18 L406.74,1270.7 L407.34,1270.18 L407.94,1269.63 L408.54,1269.06 L409.13,1268.47 L409.73,1267.87 L410.33,1267.26 L410.93,1266.63 L411.53,1266.01 L412.13,1265.38 L412.73,1264.77 L413.33,1264.16 L413.93,1263.56 L414.53,1262.99 L415.13,1262.43 L415.73,1261.9 L416.33,1261.4 L416.93,1260.93 L417.53,1260.5 L418.13,1260.11 L418.73,1259.75 L419.33,1259.44 L419.93,1259.18 L420.53,1258.96 L421.13,1258.8 L421.73,1258.68 L422.33,1258.62 L422.93,1258.6 L423.53,1258.64 L424.13,1258.72 L424.73,1258.86 L425.33,1259.05 L425.93,1259.28 L426.53,1259.56 L427.13,1259.88 L427.73,1260.25 L428.33,1260.65 L428.93,1261.09 L429.53,1261.57 L430.13,1262.07 L430.73,1262.61 L431.33,1263.16 L431.93,1263.74 L432.53,1264.34 L433.13,1264.94 L433.73,1265.56 L434.33,1266.18 L434.93,1266.8 L435.53,1267.41 L436.13,1268.02 L436.73,1268.61 L437.33,1269.19 L437.93,1269.75 L438.53,1270.29 L439.13,1270.8 L439.73,1271.28 L440.33,1271.72 L440.93,1272.13 L441.53,1272.49 L442.13,1272.82 L442.73,1273.1 L443.33,1273.34 L443.93,1273.53 L444.53,1273.67 L445.13,1273.76 L445.72,1273.8 L446.32,1273.79 L446.92,1273.73 L447.52,1273.62 L448.12,1273.45 L448.72,1273.25 L449.32,1272.99 L449.92,1272.69 L450.52,1272.35 L451.12,1271.96 L451.72,1271.54 L452.32,1271.08 L452.92,1270.59 L453.52,1270.07 L454.12,1269.52 L454.72,1268.95 L455.32,1268.37 L455.92,1267.77 L456.52,1267.16 L457.12,1266.54 L457.72,1265.92 L458.32,1265.3 L458.92,1264.69 L459.52,1264.09 L460.12,1263.5 L460.72,1262.93 L461.32,1262.38 L461.92,1261.86 L462.52,1261.36 L463.12,1260.9 L463.72,1260.48 L464.32,1260.09 L464.92,1259.74 L465.52,1259.44 L466.12,1259.18 L466.72,1258.96 L467.32,1258.8 L467.92,1258.68 L468.52,1258.62 L469.12,1258.6 L469.72,1258.64 L470.32,1258.72 L470.92,1258.85 L471.52,1259.04 L472.12,1259.27 L472.72,1259.54 L473.32,1259.86 L473.92,1260.22 L474.52,1260.62 L475.12,1261.06 L475.72,1261.53 L476.32,1262.03 L476.92,1262.56 L477.52,1263.12 L478.12,1263.69 L478.72,1264.28 L479.32,1264.89 L479.92,1265.5 L480.52,1266.11 L481.12,1266.73 L481.72,1267.34 L482.32,1267.95 L482.91,1268.54 L483.51,1269.12 L484.11,1269.68 L484.71,1270.22 L485.31,1270.73 L485.91,1271.21 L486.51,1271.66 L487.11,1272.07 L487.71,1272.44 L488.31,1272.77 L488.91,1273.06 L489.51,1273.3 L490.11,1273.5 L490.71,1273.65 L491.31,1273.75 L491.91,1273.79 L492.51,1273.79 L493.11,1273.74 L493.71,1273.64 L494.31,1273.49 L494.91,1273.29 L495.51,1273.05 L496.11,1272.76 L496.71,1272.43 L497.31,1272.05 L497.91,1271.64 L498.51,1271.19 L499.11,1270.71 L499.71,1270.2 L500.31,1269.66 L500.91,1269.1 L501.51,1268.52 L502.11,1267.92 L502.71,1267.32 L503.31,1266.7 L503.91,1266.09 L504.51,1265.47 L505.11,1264.86 L505.71,1264.26 L506.31,1263.67 L506.91,1263.09 L507.51,1262.54 L508.11,1262.01 L508.71,1261.51 L509.31,1261.04 L509.91,1260.61 L510.51,1260.21 L511.11,1259.85 L511.71,1259.53 L512.31,1259.26 L512.91,1259.03 L513.51,1258.85 L514.11,1258.72 L514.71,1258.63 L515.31,1258.6 L515.91,1258.62 L516.51,1258.69 L517.11,1258.81 L517.71,1258.98 L518.31,1259.2 L518.91,1259.47 L519.5,1259.78 L520.1,1260.14 L520.7,1260.54 L521.3,1260.98 L521.9,1261.45 L522.5,1261.96 L523.1,1262.49 L523.7,1263.06 L524.3,1263.64 L524.9,1264.24 L525.5,1264.85 L526.1,1265.47 L526.7,1266.1 L527.3,1266.73 L527.9,1267.35 L528.5,1267.97 L529.1,1268.57 L529.7,1269.16 L530.3,1269.73 L530.9,1270.27 L531.5,1270.79 L532.1,1271.27 L532.7,1271.72 L533.3,1272.13 L533.9,1272.51 L534.5,1272.83 L535.1,1273.12 L535.7,1273.35 L536.3,1273.54 L536.9,1273.68 L537.5,1273.76 L538.1,1273.8 L538.7,1273.78 L539.3,1273.71 L539.9,1273.59 L540.5,1273.42 L541.1,1273.2 L541.7,1272.93 L542.3,1272.62 L542.9,1272.26 L543.5,1271.86 L544.1,1271.43 L544.7,1270.95 L545.3,1270.45 L545.9,1269.91 L546.5,1269.35 L547.1,1268.77 L547.7,1268.17 L548.3,1267.56 L548.9,1266.94 L549.5,1266.31 L550.1,1265.68 L550.7,1265.06 L551.3,1264.44 L551.9,1263.84 L552.5,1263.25 L553.1,1262.68 L553.7,1262.14 L554.3,1261.62 L554.9,1261.13 L555.5,1260.68 L556.1,1260.27 L556.69,1259.9 L557.29,1259.57 L557.89,1259.29 L558.49,1259.05 L559.09,1258.86 L559.69,1258.72 L560.29,1258.64 L560.89,1258.6 L561.49,1258.62 L562.09,1258.68 L562.69,1258.8 L563.29,1258.97 L563.89,1259.19 L564.49,1259.45 L565.09,1259.76 L565.69,1260.11 L566.29,1260.5 L566.89,1260.93 L567.49,1261.4 L568.09,1261.9 L568.69,1262.42 L569.29,1262.97 L569.89,1263.55 L570.49,1264.14 L571.09,1264.75 L571.69,1265.36 L572.29,1265.98 L572.89,1266.61 L573.49,1267.22 L574.09,1267.84 L574.69,1268.44 L575.29,1269.03 L575.89,1269.59 L576.49,1270.14 L577.09,1270.66 L577.69,1271.15 L578.29,1271.6 L578.89,1272.02 L579.49,1272.4 L580.09,1272.74 L580.69,1273.04 L581.29,1273.28 L581.89,1273.49 L582.49,1273.64 L583.09,1273.74 L583.69,1273.79 L584.29,1273.79 L584.89,1273.74 L585.49,1273.64 L586.09,1273.49 L586.69,1273.29 L587.29,1273.05 L587.89,1272.75 L588.49,1272.42 L589.09,1272.04 L589.69,1271.62 L590.29,1271.17 L590.89,1270.68 L591.49,1270.16 L592.09,1269.62 L592.69,1269.05 L593.29,1268.46 L593.88,1267.86 L594.48,1267.25 L595.08,1266.63 L595.68,1266.01 L596.28,1265.39 L596.88,1264.77 L597.48,1264.17 L598.08,1263.57 L598.68,1263 L599.28,1262.44 L599.88,1261.92 L600.48,1261.42 L601.08,1260.95 L601.68,1260.52 L602.28,1260.12 L602.88,1259.77 L603.48,1259.46 L604.08,1259.2 L604.68,1258.98 L605.28,1258.81 L605.88,1258.69 L606.48,1258.62 L607.08,1258.6 L607.68,1258.63 L608.28,1258.71 L608.88,1258.84 L609.48,1259.02 L610.08,1259.25 L610.68,1259.52 L611.28,1259.83 L611.88,1260.19 L612.48,1260.58 L613.08,1261.01 L613.68,1261.48 L614.28,1261.98 L614.88,1262.5 L615.48,1263.05 L616.08,1263.62 L616.68,1264.2 L617.28,1264.8 L617.88,1265.41 L618.48,1266.02 L619.08,1266.64 L619.68,1267.25 L620.28,1267.85 L620.88,1268.45 L621.48,1269.03 L622.08,1269.59 L622.68,1270.13 L623.28,1270.64 L623.88,1271.12 L624.48,1271.58 L625.08,1271.99 L625.68,1272.37 L626.28,1272.71 L626.88,1273 L627.48,1273.26 L628.08,1273.46 L628.68,1273.62 L629.28,1273.73 L629.88,1273.79 L630.47,1273.8 L631.07,1273.76 L631.67,1273.67 L632.27,1273.53 L632.87,1273.35 L633.47,1273.11 L634.07,1272.84 L634.67,1272.52 L635.27,1272.15 L635.87,1271.75 L636.47,1271.32 L637.07,1270.85 L637.67,1270.34 L638.27,1269.82 L638.87,1269.26 L639.47,1268.69 L640.07,1268.1 L640.67,1267.5 L641.27,1266.89 L641.87,1266.28 L642.47,1265.67 L643.07,1265.06 L643.67,1264.45 L644.27,1263.86 L644.87,1263.28 L645.47,1262.73 L646.07,1262.19 L646.67,1261.68 L647.27,1261.2 L647.87,1260.76 L648.47,1260.35 L649.07,1259.97 L649.67,1259.64 L650.27,1259.35 L650.87,1259.11 L651.47,1258.91 L652.07,1258.76 L652.67,1258.66 L653.27,1258.61 L653.87,1258.61 L654.47,1258.65 L655.07,1258.75 L655.67,1258.9 L656.27,1259.09 L656.87,1259.34 L657.47,1259.63 L658.07,1259.96 L658.67,1260.33 L659.27,1260.75 L659.87,1261.2 L660.47,1261.68 L661.07,1262.19 L661.67,1262.73 L662.27,1263.3 L662.87,1263.88 L663.47,1264.47 L664.07,1265.08 L664.67,1265.7 L665.27,1266.32 L665.87,1266.94 L666.47,1267.55 L667.07,1268.16 L667.66,1268.75 L668.26,1269.32 L668.86,1269.88 L669.46,1270.41 L670.06,1270.91 L670.66,1271.38 L671.26,1271.82 L671.86,1272.21 L672.46,1272.57 L673.06,1272.89 L673.66,1273.16 L674.26,1273.39 L674.86,1273.56 L675.46,1273.69 L676.06,1273.77 L676.66,1273.8 L677.26,1273.78 L677.86,1273.71 L678.46,1273.58 L679.06,1273.41 L679.66,1273.19 L680.26,1272.93 L680.86,1272.62 L681.46,1272.26 L682.06,1271.87 L682.66,1271.44 L683.26,1270.97 L683.86,1270.47 L684.46,1269.95 L685.06,1269.39 L685.66,1268.82 L686.26,1268.23 L686.86,1267.63 L687.46,1267.02 L688.06,1266.4 L688.66,1265.78 L689.26,1265.16 L689.86,1264.55 L690.46,1263.95 L691.06,1263.37 L691.66,1262.8 L692.26,1262.26 L692.86,1261.74 L693.46,1261.26 L694.06,1260.8 L694.66,1260.38 L695.26,1260 L695.86,1259.67 L696.46,1259.37 L697.06,1259.12 L697.66,1258.92 L698.26,1258.77 L698.86,1258.66 L699.46,1258.61 L700.06,1258.6 L700.66,1258.65 L701.26,1258.76 L701.86,1258.91 L702.46,1259.12 L703.06,1259.37 L703.66,1259.67 L704.25,1260.02 L704.85,1260.41 L705.45,1260.84 L706.05,1261.31 L706.65,1261.82 L707.25,1262.35 L707.85,1262.91 L708.45,1263.5 L709.05,1264.1 L709.65,1264.72 L710.25,1265.34 L710.85,1265.98 L711.45,1266.61 L712.05,1267.25 L712.65,1267.87 L713.25,1268.49 L713.85,1269.08 L714.45,1269.66 L715.05,1270.21 L715.65,1270.74 L716.25,1271.23 L716.85,1271.69 L717.45,1272.11 L718.05,1272.49 L718.65,1272.82 L719.25,1273.11 L719.85,1273.35 L720.45,1273.54 L721.05,1273.68 L721.65,1273.77 L722.25,1273.8 L722.85,1273.78 L723.45,1273.71 L724.05,1273.58 L724.65,1273.4 L725.25,1273.18 L725.85,1272.9 L726.45,1272.58 L727.05,1272.21 L727.65,1271.8 L728.25,1271.35 L728.85,1270.87 L729.45,1270.35 L730.05,1269.8 L730.65,1269.23 L731.25,1268.64 L731.85,1268.03 L732.45,1267.4 L733.05,1266.77 L733.65,1266.14 L734.25,1265.5 L734.85,1264.87 L735.45,1264.25 L736.05,1263.64 L736.65,1263.06 L737.25,1262.49 L737.85,1261.95 L738.45,1261.44 L739.05,1260.96 L739.65,1260.52 L740.25,1260.11 L740.85,1259.76 L741.44,1259.44 L742.04,1259.17 L742.64,1258.96 L743.24,1258.79 L743.84,1258.67 L744.44,1258.61 L745.04,1258.6 L745.64,1258.64 L746.24,1258.73 L746.84,1258.87 L747.44,1259.05 L748.04,1259.28 L748.64,1259.55 L749.24,1259.87 L749.84,1260.23 L750.44,1260.62 L751.04,1261.05 L751.64,1261.52 L752.24,1262.01 L752.84,1262.53 L753.44,1263.08 L754.04,1263.64 L754.64,1264.22 L755.24,1264.82 L755.84,1265.42 L756.44,1266.03 L757.04,1266.63 L757.64,1267.24 L758.24,1267.84 L758.84,1268.43 L759.44,1269 L760.04,1269.56 L760.64,1270.09 L761.24,1270.6 L761.84,1271.08 L762.44,1271.53 L763.04,1271.95 L763.64,1272.33 L764.24,1272.67 L764.84,1272.97 L765.44,1273.22 L766.04,1273.43 L766.64,1273.6 L767.24,1273.71 L767.84,1273.78 L768.44,1273.8 L769.04,1273.77 L769.64,1273.69 L770.24,1273.57 L770.84,1273.39 L771.44,1273.17 L772.04,1272.91 L772.64,1272.6 L773.24,1272.25 L773.84,1271.87 L774.44,1271.44 L775.04,1270.99 L775.64,1270.5 L776.24,1269.98 L776.84,1269.44 L777.44,1268.88 L778.03,1268.31 L778.63,1267.71 L779.23,1267.11 L779.83,1266.51 L780.43,1265.9 L781.03,1265.29 L781.63,1264.69 L782.23,1264.1 L782.83,1263.52 L783.43,1262.96 L784.03,1262.42 L784.63,1261.91 L785.23,1261.42 L785.83,1260.96 L786.43,1260.54 L787.03,1260.15 L787.63,1259.8 L788.23,1259.49 L788.83,1259.23 L789.43,1259.01 L790.03,1258.84 L790.63,1258.71 L791.23,1258.63 L791.83,1258.6 L792.43,1258.62 L793.03,1258.69 L793.63,1258.81 L794.23,1258.97 L794.83,1259.19 L795.43,1259.45 L796.03,1259.75 L796.63,1260.1 L797.23,1260.49 L797.83,1260.91 L798.43,1261.37 L799.03,1261.86 L799.63,1262.38 L800.23,1262.93 L800.83,1263.49 L801.43,1264.08 L802.03,1264.67 L802.63,1265.28 L803.23,1265.9 L803.83,1266.51 L804.43,1267.12 L805.03,1267.73 L805.63,1268.33 L806.23,1268.91 L806.83,1269.48 L807.43,1270.02 L808.03,1270.54 L808.63,1271.03 L809.23,1271.49 L809.83,1271.92 L810.43,1272.3 L811.03,1272.65 L811.63,1272.95 L812.23,1273.21 L812.83,1273.43 L813.43,1273.59 L814.03,1273.71 L814.63,1273.78 L815.22,1273.8 L815.82,1273.77 L816.42,1273.69 L817.02,1273.56 L817.62,1273.38 L818.22,1273.15 L818.82,1272.88 L819.42,1272.57 L820.02,1272.21 L820.62,1271.81 L821.22,1271.38 L821.82,1270.91 L822.42,1270.42 L823.02,1269.89 L823.62,1269.34 L824.22,1268.77 L824.82,1268.18 L825.42,1267.58 L826.02,1266.97 L826.62,1266.36 L827.22,1265.74 L827.82,1265.13 L828.42,1264.52 L829.02,1263.93 L829.62,1263.35 L830.22,1262.79 L830.82,1262.25 L831.42,1261.74 L832.02,1261.25 L832.62,1260.8 L833.22,1260.39 L833.82,1260.01 L834.42,1259.67 L835.02,1259.38 L835.62,1259.13 L836.22,1258.93 L836.82,1258.77 L837.42,1258.67 L838.02,1258.61 L838.62,1258.6 L839.22,1258.65 L839.82,1258.74 L840.42,1258.89 L841.02,1259.08 L841.62,1259.32 L842.22,1259.61 L842.82,1259.94 L843.42,1260.31 L844.02,1260.72 L844.62,1261.17 L845.22,1261.65 L845.82,1262.16 L846.42,1262.7 L847.02,1263.27 L847.62,1263.85 L848.22,1264.45 L848.82,1265.06 L849.42,1265.67 L850.02,1266.29 L850.62,1266.91 L851.22,1267.53 L851.81,1268.14 L852.41,1268.73 L853.01,1269.31 L853.61,1269.86 L854.21,1270.39 L854.81,1270.9 L855.41,1271.37 L856.01,1271.81 L856.61,1272.21 L857.21,1272.57 L857.81,1272.89 L858.41,1273.16 L859.01,1273.38 L859.61,1273.56 L860.21,1273.69 L860.81,1273.77 L861.41,1273.8 L862.01,1273.78 L862.61,1273.7 L863.21,1273.58 L863.81,1273.41 L864.41,1273.19 L865.01,1272.92 L865.61,1272.61 L866.21,1272.26 L866.81,1271.86 L867.41,1271.43 L868.01,1270.96 L868.61,1270.46 L869.21,1269.93 L869.81,1269.38 L870.41,1268.8 L871.01,1268.21 L871.61,1267.61 L872.21,1266.99 L872.81,1266.37 L873.41,1265.75 L874.01,1265.13 L874.61,1264.52 L875.21,1263.92 L875.81,1263.34 L876.41,1262.77 L877.01,1262.23 L877.61,1261.71 L878.21,1261.23 L878.81,1260.77 L879.41,1260.36 L880.01,1259.98 L880.61,1259.64 L881.21,1259.35 L881.81,1259.11 L882.41,1258.91 L883.01,1258.76 L883.61,1258.66 L884.21,1258.61 L884.81,1258.61 L885.41,1258.66 L886.01,1258.76 L886.61,1258.92 L887.21,1259.12 L887.81,1259.37 L888.41,1259.67 L889,1260.01 L889.6,1260.4 L890.2,1260.82 L890.8,1261.28 L891.4,1261.77 L892,1262.3 L892.6,1262.85 L893.2,1263.42 L893.8,1264.01 L894.4,1264.62 L895,1265.24 L895.6,1265.86 L896.2,1266.49 L896.8,1267.12 L897.4,1267.73 L898,1268.34 L898.6,1268.93 L899.2,1269.51 L899.8,1270.06 L900.4,1270.59 L901,1271.08 L901.6,1271.55 L902.2,1271.97 L902.8,1272.36 L903.4,1272.71 L904,1273.01 L904.6,1273.26 L905.2,1273.47 L905.8,1273.63 L906.4,1273.74 L907,1273.79 L907.6,1273.8 L908.2,1273.75 L908.8,1273.65 L909.4,1273.5 L910,1273.3 L910.6,1273.05 L911.2,1272.76 L911.8,1272.42 L912.4,1272.04 L913,1271.62 L913.6,1271.16 L914.2,1270.67 L914.8,1270.15 L915.4,1269.6 L916,1269.03 L916.6,1268.44 L917.2,1267.84 L917.8,1267.22 L918.4,1266.59 L919,1265.97 L919.6,1265.34 L920.2,1264.72 L920.8,1264.11 L921.4,1263.52 L922,1262.94 L922.6,1262.39 L923.2,1261.86 L923.8,1261.36 L924.4,1260.89 L925,1260.46 L925.6,1260.07 L926.19,1259.72 L926.79,1259.42 L927.39,1259.16 L927.99,1258.95 L928.59,1258.78 L929.19,1258.67 L929.79,1258.61 L930.39,1258.6 L930.99,1258.64 L931.59,1258.73 L932.19,1258.87 L932.79,1259.06 L933.39,1259.3 L933.99,1259.58 L934.59,1259.9 L935.19,1260.26 L935.79,1260.67 L936.39,1261.11 L936.99,1261.58 L937.59,1262.09 L938.19,1262.62 L938.79,1263.17 L939.39,1263.75 L939.99,1264.34 L940.59,1264.94 L941.19,1265.55 L941.79,1266.16 L942.39,1266.78 L942.99,1267.39 L943.59,1268 L944.19,1268.59 L944.79,1269.16 L945.39,1269.72 L945.99,1270.25 L946.59,1270.76 L947.19,1271.24 L947.79,1271.68 L948.39,1272.09 L948.99,1272.46 L949.59,1272.79 L950.19,1273.07 L950.79,1273.31 L951.39,1273.51 L951.99,1273.65 L952.59,1273.75 L953.19,1273.8 L953.79,1273.79 L954.39,1273.74 L954.99,1273.64 L955.59,1273.49 L956.19,1273.29 L956.79,1273.04 L957.39,1272.75 L957.99,1272.42 L958.59,1272.04 L959.19,1271.63 L959.79,1271.18 L960.39,1270.7 L960.99,1270.19 L961.59,1269.65 L962.19,1269.09 L962.78,1268.51 L963.38,1267.92 L963.98,1267.32 L964.58,1266.7 L965.18,1266.09 L965.78,1265.47 L966.38,1264.86 L966.98,1264.26 L967.58,1263.67 L968.18,1263.1 L968.78,1262.55 L969.38,1262.02 L969.98,1261.52 L970.58,1261.05 L971.18,1260.62 L971.78,1260.22 L972.38,1259.86 L972.98,1259.54 L973.58,1259.26 L974.18,1259.04 L974.78,1258.85 L975.38,1258.72 L975.98,1258.64 L976.58,1258.6 L977.18,1258.62 L977.78,1258.68 L978.38,1258.8 L978.98,1258.97 L979.58,1259.19 L980.18,1259.45 L980.78,1259.76 L981.38,1260.12 L981.98,1260.52 L982.58,1260.95 L983.18,1261.42 L983.78,1261.92 L984.38,1262.46 L984.98,1263.01 L985.58,1263.59 L986.18,1264.19 L986.78,1264.8 L987.38,1265.42 L987.98,1266.05 L988.58,1266.67 L989.18,1267.3 L989.78,1267.91 L990.38,1268.52 L990.98,1269.1 L991.58,1269.67 L992.18,1270.22 L992.78,1270.74 L993.38,1271.22 L993.98,1271.68 L994.58,1272.09 L995.18,1272.47 L995.78,1272.8 L996.38,1273.09 L996.98,1273.33 L997.58,1273.52 L998.18,1273.66 L998.78,1273.76 L999.38,1273.8 L999.97,1273.79 L1000.57,1273.72 L1001.17,1273.61 L1001.77,1273.45 L1002.37,1273.23 L1002.97,1272.97 L1003.57,1272.67 L1004.17,1272.32 L1004.77,1271.92 L1005.37,1271.49 L1005.97,1271.02 L1006.57,1270.52 L1007.17,1269.99 L1007.77,1269.44 L1008.37,1268.86 L1008.97,1268.27 L1009.57,1267.66 L1010.17,1267.04 L1010.77,1266.41 L1011.37,1265.79 L1011.97,1265.16 L1012.57,1264.55 L1013.17,1263.94 L1013.77,1263.35 L1014.37,1262.78 L1014.97,1262.23 L1015.57,1261.71 L1016.17,1261.22 L1016.77,1260.77 L1017.37,1260.35 L1017.97,1259.97 L1018.57,1259.63 L1019.17,1259.34 L1019.77,1259.09 L1020.37,1258.89 L1020.97,1258.75 L1021.57,1258.65 L1022.17,1258.6 L1022.77,1258.61 L1023.37,1258.67 L1023.97,1258.78 L1024.57,1258.94 L1025.17,1259.15 L1025.77,1259.4 L1026.37,1259.71 L1026.97,1260.06 L1027.57,1260.45 L1028.17,1260.88 L1028.77,1261.34 L1029.37,1261.84 L1029.97,1262.37 L1030.57,1262.92 L1031.17,1263.5 L1031.77,1264.1 L1032.37,1264.71 L1032.97,1265.33 L1033.57,1265.95 L1034.17,1266.58 L1034.77,1267.21 L1035.37,1267.83 L1035.97,1268.43 L1036.56,1269.03 L1037.16,1269.6 L1037.76,1270.15 L1038.36,1270.67 L1038.96,1271.16 L1039.56,1271.62 L1040.16,1272.04 L1040.76,1272.42 L1041.36,1272.76 L1041.96,1273.06 L1042.56,1273.3 L1043.16,1273.5 L1043.76,1273.65 L1044.36,1273.75 L1044.96,1273.8 L1045.56,1273.79 L1046.16,1273.73 L1046.76,1273.62 L1047.36,1273.47 L1047.96,1273.26 L1048.56,1273 L1049.16,1272.7 L1049.76,1272.35 L1050.36,1271.96 L1050.96,1271.53 L1051.56,1271.06 L1052.16,1270.56 L1052.76,1270.04 L1053.36,1269.48 L1053.96,1268.9 L1054.56,1268.31 L1055.16,1267.7 L1055.76,1267.08 L1056.36,1266.45 L1056.96,1265.82 L1057.56,1265.2 L1058.16,1264.58 L1058.76,1263.97 L1059.36,1263.38 L1059.96,1262.81 L1060.56,1262.26 L1061.16,1261.73 L1061.76,1261.24 L1062.36,1260.78 L1062.96,1260.36 L1063.56,1259.98 L1064.16,1259.64 L1064.76,1259.35 L1065.36,1259.1 L1065.96,1258.9 L1066.56,1258.75 L1067.16,1258.65 L1067.76,1258.6 L1068.36,1258.61 L1068.96,1258.67 L1069.56,1258.77 L1070.16,1258.93 L1070.76,1259.14 L1071.36,1259.39 L1071.96,1259.7 L1072.56,1260.04 L1073.16,1260.43 L1073.75,1260.86 L1074.35,1261.32 L1074.95,1261.82 L1075.55,1262.34 L1076.15,1262.9 L1076.75,1263.47 L1077.35,1264.07 L1077.95,1264.67 L1078.55,1265.29 L1079.15,1265.92 L1079.75,1266.54 L1080.35,1267.17 L1080.95,1267.78 L1081.55,1268.39 L1082.15,1268.98 L1082.75,1269.56 L1083.35,1270.11 L1083.95,1270.63 L1084.55,1271.12 L1085.15,1271.58 L1085.75,1272.01 L1086.35,1272.39 L1086.95,1272.73 L1087.55,1273.03 L1088.15,1273.28 L1088.75,1273.49 L1089.35,1273.64 L1089.95,1273.74 L1090.55,1273.79 L1091.15,1273.79 L1091.75,1273.74 L1092.35,1273.64 L1092.95,1273.49 L1093.55,1273.28 L1094.15,1273.03 L1094.75,1272.73 L1095.35,1272.39 L1095.95,1272.01 L1096.55,1271.58 L1097.15,1271.12 L1097.75,1270.63 L1098.35,1270.11 L1098.95,1269.56 L1099.55,1268.98 L1100.15,1268.39 L1100.75,1267.78 L1101.35,1267.17 L1101.95,1266.54 L1102.55,1265.92 L1103.15,1265.29 L1103.75,1264.67 L1104.35,1264.06 L1104.95,1263.47 L1105.55,1262.9 L1106.15,1262.34 L1106.75,1261.82 L1107.35,1261.32 L1107.95,1260.86 L1108.55,1260.43 L1109.15,1260.04 L1109.75,1259.7 L1110.34,1259.39 L1110.94,1259.14 L1111.54,1258.93 L1112.14,1258.77 L1112.74,1258.67 L1113.34,1258.61 L1113.94,1258.6 L1114.54,1258.65 L1115.14,1258.74 L1115.74,1258.89 L1116.34,1259.08 L1116.94,1259.32 L1117.54,1259.6 L1118.14,1259.93 L1118.74,1260.3 L1119.34,1260.7 L1119.94,1261.15 L1120.54,1261.62 L1121.14,1262.13 L1121.74,1262.66 L1122.34,1263.22 L1122.94,1263.79 L1123.54,1264.39 L1124.14,1264.99 L1124.74,1265.6 L1125.34,1266.22 L1125.94,1266.83 L1126.54,1267.44 L1127.14,1268.05 L1127.74,1268.64 L1128.34,1269.21 L1128.94,1269.77 L1129.54,1270.3 L1130.14,1270.8 L1130.74,1271.28 L1131.34,1271.72 L1131.94,1272.12 L1132.54,1272.49 L1133.14,1272.81 L1133.74,1273.1 L1134.34,1273.33 L1134.94,1273.52 L1135.54,1273.66 L1136.14,1273.75 L1136.74,1273.8 L1137.34,1273.79 L1137.94,1273.73 L1138.54,1273.63 L1139.14,1273.47 L1139.74,1273.27 L1140.34,1273.02 L1140.94,1272.72 L1141.54,1272.39 L1142.14,1272.01 L1142.74,1271.59 L1143.34,1271.14 L1143.94,1270.66 L1144.54,1270.15 L1145.14,1269.61 L1145.74,1269.05 L1146.34,1268.47 L1146.94,1267.87 L1147.53,1267.26 L1148.13,1266.65 L1148.73,1266.04 L1149.33,1265.42 L1149.93,1264.81 L1150.53,1264.21 L1151.13,1263.62 L1151.73,1263.05 L1152.33,1262.5 L1152.93,1261.98 L1153.53,1261.48 L1154.13,1261.01 L1154.73,1260.58 L1155.33,1260.19 L1155.93,1259.83 L1156.53,1259.51 L1157.13,1259.24 L1157.73,1259.02 L1158.33,1258.84 L1158.93,1258.71 L1159.53,1258.63 L1160.13,1258.6 L1160.73,1258.62 L1161.33,1258.69 L1161.93,1258.8 L1162.53,1258.97 L1163.13,1259.18 L1163.73,1259.43 L1164.33,1259.73 L1164.93,1260.07 L1165.53,1260.45 L1166.13,1260.87 L1166.73,1261.32 L1167.33,1261.8 L1167.93,1262.31 L1168.53,1262.84 L1169.13,1263.4 L1169.73,1263.98 L1170.33,1264.57 L1170.93,1265.17 L1171.53,1265.77 L1172.13,1266.38 L1172.73,1266.99 L1173.33,1267.59 L1173.93,1268.19 L1174.53,1268.77 L1175.13,1269.33 L1175.73,1269.88 L1176.33,1270.4 L1176.93,1270.89 L1177.53,1271.36 L1178.13,1271.79 L1178.73,1272.18 L1179.33,1272.54 L1179.93,1272.85 L1180.53,1273.13 L1181.13,1273.35 L1181.73,1273.54 L1182.33,1273.67 L1182.93,1273.76 L1183.53,1273.8 L1184.13,1273.79 L1184.72,1273.73 L1185.32,1273.62 L1185.92,1273.47 L1186.52,1273.26 L1187.12,1273.02 L1187.72,1272.73 L1188.32,1272.39 L1188.92,1272.02 L1189.52,1271.61 L1190.12,1271.17 L1190.72,1270.69 L1191.32,1270.18 L1191.92,1269.65 L1192.52,1269.1 L1193.12,1268.53 L1193.72,1267.94 L1194.32,1267.34 L1194.92,1266.74 L1195.52,1266.13 L1196.12,1265.52 L1196.72,1264.91 L1197.32,1264.32 L1197.92,1263.73 L1198.52,1263.17 L1199.12,1262.62 L1199.72,1262.09 L1200.32,1261.59 L1200.92,1261.12 L1201.52,1260.69 L1202.12,1260.29 L1202.72,1259.92 L1203.32,1259.6 L1203.92,1259.32 L1204.52,1259.08 L1205.12,1258.89 L1205.72,1258.75 L1206.32,1258.65 L1206.92,1258.61 L1207.52,1258.61 L1208.12,1258.66 L1208.72,1258.76 L1209.32,1258.92 L1209.92,1259.12 L1210.52,1259.38 L1211.12,1259.68 L1211.72,1260.02 L1212.32,1260.4 L1212.92,1260.83 L1213.52,1261.29 L1214.12,1261.79 L1214.72,1262.31 L1215.32,1262.86 L1215.92,1263.43 L1216.52,1264.03 L1217.12,1264.63 L1217.72,1265.25 L1218.32,1265.88 L1218.92,1266.5 L1219.52,1267.13 L1220.12,1267.75 L1220.72,1268.35 L1221.31,1268.95 L1221.91,1269.52 L1222.51,1270.07 L1223.11,1270.6 L1223.71,1271.09 L1224.31,1271.56 L1224.91,1271.98 L1225.51,1272.37 L1226.11,1272.71 L1226.71,1273.01 L1227.31,1273.27 L1227.91,1273.47 L1228.51,1273.63 L1229.11,1273.74 L1229.71,1273.79 L1230.31,1273.8 L1230.91,1273.75 L1231.51,1273.65 L1232.11,1273.5 L1232.71,1273.3 L1233.31,1273.05 L1233.91,1272.75 L1234.51,1272.41 L1235.11,1272.03 L1235.71,1271.61 L1236.31,1271.15 L1236.91,1270.66 L1237.51,1270.14 L1238.11,1269.59 L1238.71,1269.02 L1239.31,1268.43 L1239.91,1267.82 L1240.51,1267.21 L1241.11,1266.58 L1241.71,1265.96 L1242.31,1265.33 L1242.91,1264.71 L1243.51,1264.1 L1244.11,1263.51 L1244.71,1262.93 L1245.31,1262.38 L1245.91,1261.85 L1246.51,1261.35 L1247.11,1260.89 L1247.71,1260.46 L1248.31,1260.07 L1248.91,1259.72 L1249.51,1259.41 L1250.11,1259.15 L1250.71,1258.94 L1251.31,1258.78 L1251.91,1258.67 L1252.51,1258.61 L1253.11,1258.6 L1253.71,1258.65 L1254.31,1258.74 L1254.91,1258.89 L1255.51,1259.08 L1256.11,1259.33 L1256.71,1259.62 L1257.31,1259.95 L1257.91,1260.33 L1258.5,1260.75 L1259.1,1261.2 L1259.7,1261.69 L1260.3,1262.21 L1260.9,1262.76 L1261.5,1263.33 L1262.1,1263.92 L1262.7,1264.52 L1263.3,1265.14 L1263.9,1265.76 L1264.5,1266.39 L1265.1,1267.01 L1265.7,1267.63 L1266.3,1268.24 L1266.9,1268.84 L1267.5,1269.42 L1268.1,1269.97 L1268.7,1270.5 L1269.3,1271 L1269.9,1271.47 L1270.5,1271.91 L1271.1,1272.3 L1271.7,1272.65 L1272.3,1272.96 L1272.9,1273.22 L1273.5,1273.44 L1274.1,1273.61 L1274.7,1273.72 L1275.3,1273.79 L1275.9,1273.8 L1276.5,1273.76 C1279,1273.8 1279.5,1272.8 1279.8,1269.2 L1280.1,1261.5 C1280.5,1258.5 1281.5,1258.5 1284.5,1258.5 L1337,1258.5" stroke="#999" stroke-width="3.2" fill="none" transform="translate(1.5,5.5)"/><rect x="78" y="1257.5" width="36" height="10" fill="#999"/><rect x="1336" y="1257.5" width="38" height="10" fill="#999"/></g>
<path d="M111,1258.5 L161,1258.5 C163.5,1258.5 164.3,1259.5 164.6,1262.5 L165.3,1269.5 C165.8,1273.8 167.6,1273.8 168.6,1273.8 L168.6,1273.79 L169.2,1273.74 L169.8,1273.63 L170.4,1273.48 L171,1273.28 L171.6,1273.03 L172.2,1272.74 L172.8,1272.41 L173.4,1272.03 L174,1271.62 L174.6,1271.17 L175.2,1270.69 L175.8,1270.18 L176.4,1269.64 L177,1269.08 L177.6,1268.5 L178.2,1267.91 L178.8,1267.3 L179.4,1266.69 L180,1266.07 L180.6,1265.46 L181.2,1264.85 L181.8,1264.25 L182.4,1263.66 L183,1263.09 L183.6,1262.54 L184.2,1262.01 L184.8,1261.51 L185.4,1261.04 L186,1260.61 L186.6,1260.21 L187.19,1259.85 L187.79,1259.53 L188.39,1259.26 L188.99,1259.03 L189.59,1258.85 L190.19,1258.72 L190.79,1258.63 L191.39,1258.6 L191.99,1258.62 L192.59,1258.68 L193.19,1258.8 L193.79,1258.96 L194.39,1259.17 L194.99,1259.43 L195.59,1259.73 L196.19,1260.08 L196.79,1260.46 L197.39,1260.88 L197.99,1261.34 L198.59,1261.83 L199.19,1262.35 L199.79,1262.89 L200.39,1263.46 L200.99,1264.04 L201.59,1264.64 L202.19,1265.24 L202.79,1265.86 L203.39,1266.47 L203.99,1267.09 L204.59,1267.69 L205.19,1268.29 L205.79,1268.88 L206.39,1269.44 L206.99,1269.99 L207.59,1270.51 L208.19,1271 L208.79,1271.47 L209.39,1271.89 L209.99,1272.28 L210.59,1272.63 L211.19,1272.94 L211.79,1273.2 L212.39,1273.42 L212.99,1273.59 L213.59,1273.71 L214.19,1273.78 L214.79,1273.8 L215.39,1273.77 L215.99,1273.69 L216.59,1273.57 L217.19,1273.39 L217.79,1273.17 L218.39,1272.9 L218.99,1272.59 L219.59,1272.23 L220.19,1271.84 L220.79,1271.41 L221.39,1270.94 L221.99,1270.45 L222.59,1269.92 L223.19,1269.38 L223.79,1268.81 L224.38,1268.22 L224.98,1267.62 L225.58,1267.01 L226.18,1266.4 L226.78,1265.78 L227.38,1265.17 L227.98,1264.56 L228.58,1263.97 L229.18,1263.38 L229.78,1262.82 L230.38,1262.28 L230.98,1261.77 L231.58,1261.28 L232.18,1260.83 L232.78,1260.41 L233.38,1260.03 L233.98,1259.69 L234.58,1259.4 L235.18,1259.14 L235.78,1258.94 L236.38,1258.78 L236.98,1258.67 L237.58,1258.61 L238.18,1258.6 L238.78,1258.64 L239.38,1258.74 L239.98,1258.88 L240.58,1259.07 L241.18,1259.32 L241.78,1259.6 L242.38,1259.94 L242.98,1260.31 L243.58,1260.73 L244.18,1261.18 L244.78,1261.67 L245.38,1262.19 L245.98,1262.73 L246.58,1263.3 L247.18,1263.89 L247.78,1264.49 L248.38,1265.11 L248.98,1265.73 L249.58,1266.36 L250.18,1266.99 L250.78,1267.61 L251.38,1268.22 L251.98,1268.81 L252.58,1269.39 L253.18,1269.95 L253.78,1270.48 L254.38,1270.98 L254.98,1271.45 L255.58,1271.89 L256.18,1272.28 L256.78,1272.64 L257.38,1272.95 L257.98,1273.21 L258.58,1273.43 L259.18,1273.6 L259.78,1273.72 L260.38,1273.78 L260.97,1273.8 L261.57,1273.76 L262.17,1273.67 L262.77,1273.54 L263.37,1273.35 L263.97,1273.11 L264.57,1272.83 L265.17,1272.5 L265.77,1272.12 L266.37,1271.71 L266.97,1271.26 L267.57,1270.78 L268.17,1270.26 L268.77,1269.72 L269.37,1269.15 L269.97,1268.57 L270.57,1267.96 L271.17,1267.35 L271.77,1266.73 L272.37,1266.1 L272.97,1265.47 L273.57,1264.85 L274.17,1264.24 L274.77,1263.64 L275.37,1263.06 L275.97,1262.5 L276.57,1261.97 L277.17,1261.46 L277.77,1260.99 L278.37,1260.55 L278.97,1260.15 L279.57,1259.79 L280.17,1259.48 L280.77,1259.21 L281.37,1258.99 L281.97,1258.81 L282.57,1258.69 L283.17,1258.62 L283.77,1258.6 L284.37,1258.63 L284.97,1258.71 L285.57,1258.84 L286.17,1259.01 L286.77,1259.23 L287.37,1259.5 L287.97,1259.81 L288.57,1260.16 L289.17,1260.55 L289.77,1260.98 L290.37,1261.44 L290.97,1261.93 L291.57,1262.44 L292.17,1262.99 L292.77,1263.55 L293.37,1264.13 L293.97,1264.72 L294.57,1265.33 L295.17,1265.94 L295.77,1266.55 L296.37,1267.15 L296.97,1267.76 L297.57,1268.35 L298.16,1268.93 L298.76,1269.49 L299.36,1270.03 L299.96,1270.54 L300.56,1271.03 L301.16,1271.48 L301.76,1271.91 L302.36,1272.29 L302.96,1272.64 L303.56,1272.94 L304.16,1273.2 L304.76,1273.41 L305.36,1273.58 L305.96,1273.7 L306.56,1273.78 L307.16,1273.8 L307.76,1273.77 L308.36,1273.7 L308.96,1273.58 L309.56,1273.41 L310.16,1273.19 L310.76,1272.93 L311.36,1272.62 L311.96,1272.28 L312.56,1271.89 L313.16,1271.47 L313.76,1271.01 L314.36,1270.52 L314.96,1270.01 L315.56,1269.47 L316.16,1268.9 L316.76,1268.32 L317.36,1267.73 L317.96,1267.13 L318.56,1266.52 L319.16,1265.91 L319.76,1265.3 L320.36,1264.7 L320.96,1264.11 L321.56,1263.53 L322.16,1262.96 L322.76,1262.42 L323.36,1261.9 L323.96,1261.42 L324.56,1260.96 L325.16,1260.53 L325.76,1260.14 L326.36,1259.79 L326.96,1259.49 L327.56,1259.22 L328.16,1259 L328.76,1258.83 L329.36,1258.71 L329.96,1258.63 L330.56,1258.6 L331.16,1258.62 L331.76,1258.69 L332.36,1258.81 L332.96,1258.98 L333.56,1259.2 L334.16,1259.46 L334.76,1259.77 L335.35,1260.12 L335.95,1260.51 L336.55,1260.94 L337.15,1261.4 L337.75,1261.9 L338.35,1262.42 L338.95,1262.97 L339.55,1263.53 L340.15,1264.12 L340.75,1264.72 L341.35,1265.33 L341.95,1265.95 L342.55,1266.56 L343.15,1267.18 L343.75,1267.79 L344.35,1268.38 L344.95,1268.97 L345.55,1269.53 L346.15,1270.08 L346.75,1270.59 L347.35,1271.08 L347.95,1271.54 L348.55,1271.96 L349.15,1272.34 L349.75,1272.69 L350.35,1272.99 L350.95,1273.24 L351.55,1273.45 L352.15,1273.61 L352.75,1273.72 L353.35,1273.79 L353.95,1273.8 L354.55,1273.76 L355.15,1273.67 L355.75,1273.54 L356.35,1273.35 L356.95,1273.12 L357.55,1272.84 L358.15,1272.52 L358.75,1272.16 L359.35,1271.75 L359.95,1271.31 L360.55,1270.84 L361.15,1270.34 L361.75,1269.81 L362.35,1269.25 L362.95,1268.68 L363.55,1268.09 L364.15,1267.48 L364.75,1266.87 L365.35,1266.25 L365.95,1265.64 L366.55,1265.02 L367.15,1264.42 L367.75,1263.83 L368.35,1263.25 L368.95,1262.69 L369.55,1262.15 L370.15,1261.65 L370.75,1261.17 L371.35,1260.72 L371.94,1260.31 L372.54,1259.94 L373.14,1259.61 L373.74,1259.33 L374.34,1259.09 L374.94,1258.89 L375.54,1258.75 L376.14,1258.65 L376.74,1258.6 L377.34,1258.61 L377.94,1258.66 L378.54,1258.77 L379.14,1258.93 L379.74,1259.13 L380.34,1259.39 L380.94,1259.68 L381.54,1260.03 L382.14,1260.41 L382.74,1260.84 L383.34,1261.3 L383.94,1261.79 L384.54,1262.32 L385.14,1262.87 L385.74,1263.44 L386.34,1264.03 L386.94,1264.64 L387.54,1265.25 L388.14,1265.88 L388.74,1266.5 L389.34,1267.13 L389.94,1267.74 L390.54,1268.35 L391.14,1268.94 L391.74,1269.51 L392.34,1270.07 L392.94,1270.59 L393.54,1271.09 L394.14,1271.55 L394.74,1271.97 L395.34,1272.36 L395.94,1272.7 L396.54,1273.01 L397.14,1273.26 L397.74,1273.47 L398.34,1273.63 L398.94,1273.73 L399.54,1273.79 L400.14,1273.8 L400.74,1273.75 L401.34,1273.65 L401.94,1273.51 L402.54,1273.31 L403.14,1273.06 L403.74,1272.77 L404.34,1272.44 L404.94,1272.06 L405.54,1271.64 L406.14,1271.18 L406.74,1270.7 L407.34,1270.18 L407.94,1269.63 L408.54,1269.06 L409.13,1268.47 L409.73,1267.87 L410.33,1267.26 L410.93,1266.63 L411.53,1266.01 L412.13,1265.38 L412.73,1264.77 L413.33,1264.16 L413.93,1263.56 L414.53,1262.99 L415.13,1262.43 L415.73,1261.9 L416.33,1261.4 L416.93,1260.93 L417.53,1260.5 L418.13,1260.11 L418.73,1259.75 L419.33,1259.44 L419.93,1259.18 L420.53,1258.96 L421.13,1258.8 L421.73,1258.68 L422.33,1258.62 L422.93,1258.6 L423.53,1258.64 L424.13,1258.72 L424.73,1258.86 L425.33,1259.05 L425.93,1259.28 L426.53,1259.56 L427.13,1259.88 L427.73,1260.25 L428.33,1260.65 L428.93,1261.09 L429.53,1261.57 L430.13,1262.07 L430.73,1262.61 L431.33,1263.16 L431.93,1263.74 L432.53,1264.34 L433.13,1264.94 L433.73,1265.56 L434.33,1266.18 L434.93,1266.8 L435.53,1267.41 L436.13,1268.02 L436.73,1268.61 L437.33,1269.19 L437.93,1269.75 L438.53,1270.29 L439.13,1270.8 L439.73,1271.28 L440.33,1271.72 L440.93,1272.13 L441.53,1272.49 L442.13,1272.82 L442.73,1273.1 L443.33,1273.34 L443.93,1273.53 L444.53,1273.67 L445.13,1273.76 L445.72,1273.8 L446.32,1273.79 L446.92,1273.73 L447.52,1273.62 L448.12,1273.45 L448.72,1273.25 L449.32,1272.99 L449.92,1272.69 L450.52,1272.35 L451.12,1271.96 L451.72,1271.54 L452.32,1271.08 L452.92,1270.59 L453.52,1270.07 L454.12,1269.52 L454.72,1268.95 L455.32,1268.37 L455.92,1267.77 L456.52,1267.16 L457.12,1266.54 L457.72,1265.92 L458.32,1265.3 L458.92,1264.69 L459.52,1264.09 L460.12,1263.5 L460.72,1262.93 L461.32,1262.38 L461.92,1261.86 L462.52,1261.36 L463.12,1260.9 L463.72,1260.48 L464.32,1260.09 L464.92,1259.74 L465.52,1259.44 L466.12,1259.18 L466.72,1258.96 L467.32,1258.8 L467.92,1258.68 L468.52,1258.62 L469.12,1258.6 L469.72,1258.64 L470.32,1258.72 L470.92,1258.85 L471.52,1259.04 L472.12,1259.27 L472.72,1259.54 L473.32,1259.86 L473.92,1260.22 L474.52,1260.62 L475.12,1261.06 L475.72,1261.53 L476.32,1262.03 L476.92,1262.56 L477.52,1263.12 L478.12,1263.69 L478.72,1264.28 L479.32,1264.89 L479.92,1265.5 L480.52,1266.11 L481.12,1266.73 L481.72,1267.34 L482.32,1267.95 L482.91,1268.54 L483.51,1269.12 L484.11,1269.68 L484.71,1270.22 L485.31,1270.73 L485.91,1271.21 L486.51,1271.66 L487.11,1272.07 L487.71,1272.44 L488.31,1272.77 L488.91,1273.06 L489.51,1273.3 L490.11,1273.5 L490.71,1273.65 L491.31,1273.75 L491.91,1273.79 L492.51,1273.79 L493.11,1273.74 L493.71,1273.64 L494.31,1273.49 L494.91,1273.29 L495.51,1273.05 L496.11,1272.76 L496.71,1272.43 L497.31,1272.05 L497.91,1271.64 L498.51,1271.19 L499.11,1270.71 L499.71,1270.2 L500.31,1269.66 L500.91,1269.1 L501.51,1268.52 L502.11,1267.92 L502.71,1267.32 L503.31,1266.7 L503.91,1266.09 L504.51,1265.47 L505.11,1264.86 L505.71,1264.26 L506.31,1263.67 L506.91,1263.09 L507.51,1262.54 L508.11,1262.01 L508.71,1261.51 L509.31,1261.04 L509.91,1260.61 L510.51,1260.21 L511.11,1259.85 L511.71,1259.53 L512.31,1259.26 L512.91,1259.03 L513.51,1258.85 L514.11,1258.72 L514.71,1258.63 L515.31,1258.6 L515.91,1258.62 L516.51,1258.69 L517.11,1258.81 L517.71,1258.98 L518.31,1259.2 L518.91,1259.47 L519.5,1259.78 L520.1,1260.14 L520.7,1260.54 L521.3,1260.98 L521.9,1261.45 L522.5,1261.96 L523.1,1262.49 L523.7,1263.06 L524.3,1263.64 L524.9,1264.24 L525.5,1264.85 L526.1,1265.47 L526.7,1266.1 L527.3,1266.73 L527.9,1267.35 L528.5,1267.97 L529.1,1268.57 L529.7,1269.16 L530.3,1269.73 L530.9,1270.27 L531.5,1270.79 L532.1,1271.27 L532.7,1271.72 L533.3,1272.13 L533.9,1272.51 L534.5,1272.83 L535.1,1273.12 L535.7,1273.35 L536.3,1273.54 L536.9,1273.68 L537.5,1273.76 L538.1,1273.8 L538.7,1273.78 L539.3,1273.71 L539.9,1273.59 L540.5,1273.42 L541.1,1273.2 L541.7,1272.93 L542.3,1272.62 L542.9,1272.26 L543.5,1271.86 L544.1,1271.43 L544.7,1270.95 L545.3,1270.45 L545.9,1269.91 L546.5,1269.35 L547.1,1268.77 L547.7,1268.17 L548.3,1267.56 L548.9,1266.94 L549.5,1266.31 L550.1,1265.68 L550.7,1265.06 L551.3,1264.44 L551.9,1263.84 L552.5,1263.25 L553.1,1262.68 L553.7,1262.14 L554.3,1261.62 L554.9,1261.13 L555.5,1260.68 L556.1,1260.27 L556.69,1259.9 L557.29,1259.57 L557.89,1259.29 L558.49,1259.05 L559.09,1258.86 L559.69,1258.72 L560.29,1258.64 L560.89,1258.6 L561.49,1258.62 L562.09,1258.68 L562.69,1258.8 L563.29,1258.97 L563.89,1259.19 L564.49,1259.45 L565.09,1259.76 L565.69,1260.11 L566.29,1260.5 L566.89,1260.93 L567.49,1261.4 L568.09,1261.9 L568.69,1262.42 L569.29,1262.97 L569.89,1263.55 L570.49,1264.14 L571.09,1264.75 L571.69,1265.36 L572.29,1265.98 L572.89,1266.61 L573.49,1267.22 L574.09,1267.84 L574.69,1268.44 L575.29,1269.03 L575.89,1269.59 L576.49,1270.14 L577.09,1270.66 L577.69,1271.15 L578.29,1271.6 L578.89,1272.02 L579.49,1272.4 L580.09,1272.74 L580.69,1273.04 L581.29,1273.28 L581.89,1273.49 L582.49,1273.64 L583.09,1273.74 L583.69,1273.79 L584.29,1273.79 L584.89,1273.74 L585.49,1273.64 L586.09,1273.49 L586.69,1273.29 L587.29,1273.05 L587.89,1272.75 L588.49,1272.42 L589.09,1272.04 L589.69,1271.62 L590.29,1271.17 L590.89,1270.68 L591.49,1270.16 L592.09,1269.62 L592.69,1269.05 L593.29,1268.46 L593.88,1267.86 L594.48,1267.25 L595.08,1266.63 L595.68,1266.01 L596.28,1265.39 L596.88,1264.77 L597.48,1264.17 L598.08,1263.57 L598.68,1263 L599.28,1262.44 L599.88,1261.92 L600.48,1261.42 L601.08,1260.95 L601.68,1260.52 L602.28,1260.12 L602.88,1259.77 L603.48,1259.46 L604.08,1259.2 L604.68,1258.98 L605.28,1258.81 L605.88,1258.69 L606.48,1258.62 L607.08,1258.6 L607.68,1258.63 L608.28,1258.71 L608.88,1258.84 L609.48,1259.02 L610.08,1259.25 L610.68,1259.52 L611.28,1259.83 L611.88,1260.19 L612.48,1260.58 L613.08,1261.01 L613.68,1261.48 L614.28,1261.98 L614.88,1262.5 L615.48,1263.05 L616.08,1263.62 L616.68,1264.2 L617.28,1264.8 L617.88,1265.41 L618.48,1266.02 L619.08,1266.64 L619.68,1267.25 L620.28,1267.85 L620.88,1268.45 L621.48,1269.03 L622.08,1269.59 L622.68,1270.13 L623.28,1270.64 L623.88,1271.12 L624.48,1271.58 L625.08,1271.99 L625.68,1272.37 L626.28,1272.71 L626.88,1273 L627.48,1273.26 L628.08,1273.46 L628.68,1273.62 L629.28,1273.73 L629.88,1273.79 L630.47,1273.8 L631.07,1273.76 L631.67,1273.67 L632.27,1273.53 L632.87,1273.35 L633.47,1273.11 L634.07,1272.84 L634.67,1272.52 L635.27,1272.15 L635.87,1271.75 L636.47,1271.32 L637.07,1270.85 L637.67,1270.34 L638.27,1269.82 L638.87,1269.26 L639.47,1268.69 L640.07,1268.1 L640.67,1267.5 L641.27,1266.89 L641.87,1266.28 L642.47,1265.67 L643.07,1265.06 L643.67,1264.45 L644.27,1263.86 L644.87,1263.28 L645.47,1262.73 L646.07,1262.19 L646.67,1261.68 L647.27,1261.2 L647.87,1260.76 L648.47,1260.35 L649.07,1259.97 L649.67,1259.64 L650.27,1259.35 L650.87,1259.11 L651.47,1258.91 L652.07,1258.76 L652.67,1258.66 L653.27,1258.61 L653.87,1258.61 L654.47,1258.65 L655.07,1258.75 L655.67,1258.9 L656.27,1259.09 L656.87,1259.34 L657.47,1259.63 L658.07,1259.96 L658.67,1260.33 L659.27,1260.75 L659.87,1261.2 L660.47,1261.68 L661.07,1262.19 L661.67,1262.73 L662.27,1263.3 L662.87,1263.88 L663.47,1264.47 L664.07,1265.08 L664.67,1265.7 L665.27,1266.32 L665.87,1266.94 L666.47,1267.55 L667.07,1268.16 L667.66,1268.75 L668.26,1269.32 L668.86,1269.88 L669.46,1270.41 L670.06,1270.91 L670.66,1271.38 L671.26,1271.82 L671.86,1272.21 L672.46,1272.57 L673.06,1272.89 L673.66,1273.16 L674.26,1273.39 L674.86,1273.56 L675.46,1273.69 L676.06,1273.77 L676.66,1273.8 L677.26,1273.78 L677.86,1273.71 L678.46,1273.58 L679.06,1273.41 L679.66,1273.19 L680.26,1272.93 L680.86,1272.62 L681.46,1272.26 L682.06,1271.87 L682.66,1271.44 L683.26,1270.97 L683.86,1270.47 L684.46,1269.95 L685.06,1269.39 L685.66,1268.82 L686.26,1268.23 L686.86,1267.63 L687.46,1267.02 L688.06,1266.4 L688.66,1265.78 L689.26,1265.16 L689.86,1264.55 L690.46,1263.95 L691.06,1263.37 L691.66,1262.8 L692.26,1262.26 L692.86,1261.74 L693.46,1261.26 L694.06,1260.8 L694.66,1260.38 L695.26,1260 L695.86,1259.67 L696.46,1259.37 L697.06,1259.12 L697.66,1258.92 L698.26,1258.77 L698.86,1258.66 L699.46,1258.61 L700.06,1258.6 L700.66,1258.65 L701.26,1258.76 L701.86,1258.91 L702.46,1259.12 L703.06,1259.37 L703.66,1259.67 L704.25,1260.02 L704.85,1260.41 L705.45,1260.84 L706.05,1261.31 L706.65,1261.82 L707.25,1262.35 L707.85,1262.91 L708.45,1263.5 L709.05,1264.1 L709.65,1264.72 L710.25,1265.34 L710.85,1265.98 L711.45,1266.61 L712.05,1267.25 L712.65,1267.87 L713.25,1268.49 L713.85,1269.08 L714.45,1269.66 L715.05,1270.21 L715.65,1270.74 L716.25,1271.23 L716.85,1271.69 L717.45,1272.11 L718.05,1272.49 L718.65,1272.82 L719.25,1273.11 L719.85,1273.35 L720.45,1273.54 L721.05,1273.68 L721.65,1273.77 L722.25,1273.8 L722.85,1273.78 L723.45,1273.71 L724.05,1273.58 L724.65,1273.4 L725.25,1273.18 L725.85,1272.9 L726.45,1272.58 L727.05,1272.21 L727.65,1271.8 L728.25,1271.35 L728.85,1270.87 L729.45,1270.35 L730.05,1269.8 L730.65,1269.23 L731.25,1268.64 L731.85,1268.03 L732.45,1267.4 L733.05,1266.77 L733.65,1266.14 L734.25,1265.5 L734.85,1264.87 L735.45,1264.25 L736.05,1263.64 L736.65,1263.06 L737.25,1262.49 L737.85,1261.95 L738.45,1261.44 L739.05,1260.96 L739.65,1260.52 L740.25,1260.11 L740.85,1259.76 L741.44,1259.44 L742.04,1259.17 L742.64,1258.96 L743.24,1258.79 L743.84,1258.67 L744.44,1258.61 L745.04,1258.6 L745.64,1258.64 L746.24,1258.73 L746.84,1258.87 L747.44,1259.05 L748.04,1259.28 L748.64,1259.55 L749.24,1259.87 L749.84,1260.23 L750.44,1260.62 L751.04,1261.05 L751.64,1261.52 L752.24,1262.01 L752.84,1262.53 L753.44,1263.08 L754.04,1263.64 L754.64,1264.22 L755.24,1264.82 L755.84,1265.42 L756.44,1266.03 L757.04,1266.63 L757.64,1267.24 L758.24,1267.84 L758.84,1268.43 L759.44,1269 L760.04,1269.56 L760.64,1270.09 L761.24,1270.6 L761.84,1271.08 L762.44,1271.53 L763.04,1271.95 L763.64,1272.33 L764.24,1272.67 L764.84,1272.97 L765.44,1273.22 L766.04,1273.43 L766.64,1273.6 L767.24,1273.71 L767.84,1273.78 L768.44,1273.8 L769.04,1273.77 L769.64,1273.69 L770.24,1273.57 L770.84,1273.39 L771.44,1273.17 L772.04,1272.91 L772.64,1272.6 L773.24,1272.25 L773.84,1271.87 L774.44,1271.44 L775.04,1270.99 L775.64,1270.5 L776.24,1269.98 L776.84,1269.44 L777.44,1268.88 L778.03,1268.31 L778.63,1267.71 L779.23,1267.11 L779.83,1266.51 L780.43,1265.9 L781.03,1265.29 L781.63,1264.69 L782.23,1264.1 L782.83,1263.52 L783.43,1262.96 L784.03,1262.42 L784.63,1261.91 L785.23,1261.42 L785.83,1260.96 L786.43,1260.54 L787.03,1260.15 L787.63,1259.8 L788.23,1259.49 L788.83,1259.23 L789.43,1259.01 L790.03,1258.84 L790.63,1258.71 L791.23,1258.63 L791.83,1258.6 L792.43,1258.62 L793.03,1258.69 L793.63,1258.81 L794.23,1258.97 L794.83,1259.19 L795.43,1259.45 L796.03,1259.75 L796.63,1260.1 L797.23,1260.49 L797.83,1260.91 L798.43,1261.37 L799.03,1261.86 L799.63,1262.38 L800.23,1262.93 L800.83,1263.49 L801.43,1264.08 L802.03,1264.67 L802.63,1265.28 L803.23,1265.9 L803.83,1266.51 L804.43,1267.12 L805.03,1267.73 L805.63,1268.33 L806.23,1268.91 L806.83,1269.48 L807.43,1270.02 L808.03,1270.54 L808.63,1271.03 L809.23,1271.49 L809.83,1271.92 L810.43,1272.3 L811.03,1272.65 L811.63,1272.95 L812.23,1273.21 L812.83,1273.43 L813.43,1273.59 L814.03,1273.71 L814.63,1273.78 L815.22,1273.8 L815.82,1273.77 L816.42,1273.69 L817.02,1273.56 L817.62,1273.38 L818.22,1273.15 L818.82,1272.88 L819.42,1272.57 L820.02,1272.21 L820.62,1271.81 L821.22,1271.38 L821.82,1270.91 L822.42,1270.42 L823.02,1269.89 L823.62,1269.34 L824.22,1268.77 L824.82,1268.18 L825.42,1267.58 L826.02,1266.97 L826.62,1266.36 L827.22,1265.74 L827.82,1265.13 L828.42,1264.52 L829.02,1263.93 L829.62,1263.35 L830.22,1262.79 L830.82,1262.25 L831.42,1261.74 L832.02,1261.25 L832.62,1260.8 L833.22,1260.39 L833.82,1260.01 L834.42,1259.67 L835.02,1259.38 L835.62,1259.13 L836.22,1258.93 L836.82,1258.77 L837.42,1258.67 L838.02,1258.61 L838.62,1258.6 L839.22,1258.65 L839.82,1258.74 L840.42,1258.89 L841.02,1259.08 L841.62,1259.32 L842.22,1259.61 L842.82,1259.94 L843.42,1260.31 L844.02,1260.72 L844.62,1261.17 L845.22,1261.65 L845.82,1262.16 L846.42,1262.7 L847.02,1263.27 L847.62,1263.85 L848.22,1264.45 L848.82,1265.06 L849.42,1265.67 L850.02,1266.29 L850.62,1266.91 L851.22,1267.53 L851.81,1268.14 L852.41,1268.73 L853.01,1269.31 L853.61,1269.86 L854.21,1270.39 L854.81,1270.9 L855.41,1271.37 L856.01,1271.81 L856.61,1272.21 L857.21,1272.57 L857.81,1272.89 L858.41,1273.16 L859.01,1273.38 L859.61,1273.56 L860.21,1273.69 L860.81,1273.77 L861.41,1273.8 L862.01,1273.78 L862.61,1273.7 L863.21,1273.58 L863.81,1273.41 L864.41,1273.19 L865.01,1272.92 L865.61,1272.61 L866.21,1272.26 L866.81,1271.86 L867.41,1271.43 L868.01,1270.96 L868.61,1270.46 L869.21,1269.93 L869.81,1269.38 L870.41,1268.8 L871.01,1268.21 L871.61,1267.61 L872.21,1266.99 L872.81,1266.37 L873.41,1265.75 L874.01,1265.13 L874.61,1264.52 L875.21,1263.92 L875.81,1263.34 L876.41,1262.77 L877.01,1262.23 L877.61,1261.71 L878.21,1261.23 L878.81,1260.77 L879.41,1260.36 L880.01,1259.98 L880.61,1259.64 L881.21,1259.35 L881.81,1259.11 L882.41,1258.91 L883.01,1258.76 L883.61,1258.66 L884.21,1258.61 L884.81,1258.61 L885.41,1258.66 L886.01,1258.76 L886.61,1258.92 L887.21,1259.12 L887.81,1259.37 L888.41,1259.67 L889,1260.01 L889.6,1260.4 L890.2,1260.82 L890.8,1261.28 L891.4,1261.77 L892,1262.3 L892.6,1262.85 L893.2,1263.42 L893.8,1264.01 L894.4,1264.62 L895,1265.24 L895.6,1265.86 L896.2,1266.49 L896.8,1267.12 L897.4,1267.73 L898,1268.34 L898.6,1268.93 L899.2,1269.51 L899.8,1270.06 L900.4,1270.59 L901,1271.08 L901.6,1271.55 L902.2,1271.97 L902.8,1272.36 L903.4,1272.71 L904,1273.01 L904.6,1273.26 L905.2,1273.47 L905.8,1273.63 L906.4,1273.74 L907,1273.79 L907.6,1273.8 L908.2,1273.75 L908.8,1273.65 L909.4,1273.5 L910,1273.3 L910.6,1273.05 L911.2,1272.76 L911.8,1272.42 L912.4,1272.04 L913,1271.62 L913.6,1271.16 L914.2,1270.67 L914.8,1270.15 L915.4,1269.6 L916,1269.03 L916.6,1268.44 L917.2,1267.84 L917.8,1267.22 L918.4,1266.59 L919,1265.97 L919.6,1265.34 L920.2,1264.72 L920.8,1264.11 L921.4,1263.52 L922,1262.94 L922.6,1262.39 L923.2,1261.86 L923.8,1261.36 L924.4,1260.89 L925,1260.46 L925.6,1260.07 L926.19,1259.72 L926.79,1259.42 L927.39,1259.16 L927.99,1258.95 L928.59,1258.78 L929.19,1258.67 L929.79,1258.61 L930.39,1258.6 L930.99,1258.64 L931.59,1258.73 L932.19,1258.87 L932.79,1259.06 L933.39,1259.3 L933.99,1259.58 L934.59,1259.9 L935.19,1260.26 L935.79,1260.67 L936.39,1261.11 L936.99,1261.58 L937.59,1262.09 L938.19,1262.62 L938.79,1263.17 L939.39,1263.75 L939.99,1264.34 L940.59,1264.94 L941.19,1265.55 L941.79,1266.16 L942.39,1266.78 L942.99,1267.39 L943.59,1268 L944.19,1268.59 L944.79,1269.16 L945.39,1269.72 L945.99,1270.25 L946.59,1270.76 L947.19,1271.24 L947.79,1271.68 L948.39,1272.09 L948.99,1272.46 L949.59,1272.79 L950.19,1273.07 L950.79,1273.31 L951.39,1273.51 L951.99,1273.65 L952.59,1273.75 L953.19,1273.8 L953.79,1273.79 L954.39,1273.74 L954.99,1273.64 L955.59,1273.49 L956.19,1273.29 L956.79,1273.04 L957.39,1272.75 L957.99,1272.42 L958.59,1272.04 L959.19,1271.63 L959.79,1271.18 L960.39,1270.7 L960.99,1270.19 L961.59,1269.65 L962.19,1269.09 L962.78,1268.51 L963.38,1267.92 L963.98,1267.32 L964.58,1266.7 L965.18,1266.09 L965.78,1265.47 L966.38,1264.86 L966.98,1264.26 L967.58,1263.67 L968.18,1263.1 L968.78,1262.55 L969.38,1262.02 L969.98,1261.52 L970.58,1261.05 L971.18,1260.62 L971.78,1260.22 L972.38,1259.86 L972.98,1259.54 L973.58,1259.26 L974.18,1259.04 L974.78,1258.85 L975.38,1258.72 L975.98,1258.64 L976.58,1258.6 L977.18,1258.62 L977.78,1258.68 L978.38,1258.8 L978.98,1258.97 L979.58,1259.19 L980.18,1259.45 L980.78,1259.76 L981.38,1260.12 L981.98,1260.52 L982.58,1260.95 L983.18,1261.42 L983.78,1261.92 L984.38,1262.46 L984.98,1263.01 L985.58,1263.59 L986.18,1264.19 L986.78,1264.8 L987.38,1265.42 L987.98,1266.05 L988.58,1266.67 L989.18,1267.3 L989.78,1267.91 L990.38,1268.52 L990.98,1269.1 L991.58,1269.67 L992.18,1270.22 L992.78,1270.74 L993.38,1271.22 L993.98,1271.68 L994.58,1272.09 L995.18,1272.47 L995.78,1272.8 L996.38,1273.09 L996.98,1273.33 L997.58,1273.52 L998.18,1273.66 L998.78,1273.76 L999.38,1273.8 L999.97,1273.79 L1000.57,1273.72 L1001.17,1273.61 L1001.77,1273.45 L1002.37,1273.23 L1002.97,1272.97 L1003.57,1272.67 L1004.17,1272.32 L1004.77,1271.92 L1005.37,1271.49 L1005.97,1271.02 L1006.57,1270.52 L1007.17,1269.99 L1007.77,1269.44 L1008.37,1268.86 L1008.97,1268.27 L1009.57,1267.66 L1010.17,1267.04 L1010.77,1266.41 L1011.37,1265.79 L1011.97,1265.16 L1012.57,1264.55 L1013.17,1263.94 L1013.77,1263.35 L1014.37,1262.78 L1014.97,1262.23 L1015.57,1261.71 L1016.17,1261.22 L1016.77,1260.77 L1017.37,1260.35 L1017.97,1259.97 L1018.57,1259.63 L1019.17,1259.34 L1019.77,1259.09 L1020.37,1258.89 L1020.97,1258.75 L1021.57,1258.65 L1022.17,1258.6 L1022.77,1258.61 L1023.37,1258.67 L1023.97,1258.78 L1024.57,1258.94 L1025.17,1259.15 L1025.77,1259.4 L1026.37,1259.71 L1026.97,1260.06 L1027.57,1260.45 L1028.17,1260.88 L1028.77,1261.34 L1029.37,1261.84 L1029.97,1262.37 L1030.57,1262.92 L1031.17,1263.5 L1031.77,1264.1 L1032.37,1264.71 L1032.97,1265.33 L1033.57,1265.95 L1034.17,1266.58 L1034.77,1267.21 L1035.37,1267.83 L1035.97,1268.43 L1036.56,1269.03 L1037.16,1269.6 L1037.76,1270.15 L1038.36,1270.67 L1038.96,1271.16 L1039.56,1271.62 L1040.16,1272.04 L1040.76,1272.42 L1041.36,1272.76 L1041.96,1273.06 L1042.56,1273.3 L1043.16,1273.5 L1043.76,1273.65 L1044.36,1273.75 L1044.96,1273.8 L1045.56,1273.79 L1046.16,1273.73 L1046.76,1273.62 L1047.36,1273.47 L1047.96,1273.26 L1048.56,1273 L1049.16,1272.7 L1049.76,1272.35 L1050.36,1271.96 L1050.96,1271.53 L1051.56,1271.06 L1052.16,1270.56 L1052.76,1270.04 L1053.36,1269.48 L1053.96,1268.9 L1054.56,1268.31 L1055.16,1267.7 L1055.76,1267.08 L1056.36,1266.45 L1056.96,1265.82 L1057.56,1265.2 L1058.16,1264.58 L1058.76,1263.97 L1059.36,1263.38 L1059.96,1262.81 L1060.56,1262.26 L1061.16,1261.73 L1061.76,1261.24 L1062.36,1260.78 L1062.96,1260.36 L1063.56,1259.98 L1064.16,1259.64 L1064.76,1259.35 L1065.36,1259.1 L1065.96,1258.9 L1066.56,1258.75 L1067.16,1258.65 L1067.76,1258.6 L1068.36,1258.61 L1068.96,1258.67 L1069.56,1258.77 L1070.16,1258.93 L1070.76,1259.14 L1071.36,1259.39 L1071.96,1259.7 L1072.56,1260.04 L1073.16,1260.43 L1073.75,1260.86 L1074.35,1261.32 L1074.95,1261.82 L1075.55,1262.34 L1076.15,1262.9 L1076.75,1263.47 L1077.35,1264.07 L1077.95,1264.67 L1078.55,1265.29 L1079.15,1265.92 L1079.75,1266.54 L1080.35,1267.17 L1080.95,1267.78 L1081.55,1268.39 L1082.15,1268.98 L1082.75,1269.56 L1083.35,1270.11 L1083.95,1270.63 L1084.55,1271.12 L1085.15,1271.58 L1085.75,1272.01 L1086.35,1272.39 L1086.95,1272.73 L1087.55,1273.03 L1088.15,1273.28 L1088.75,1273.49 L1089.35,1273.64 L1089.95,1273.74 L1090.55,1273.79 L1091.15,1273.79 L1091.75,1273.74 L1092.35,1273.64 L1092.95,1273.49 L1093.55,1273.28 L1094.15,1273.03 L1094.75,1272.73 L1095.35,1272.39 L1095.95,1272.01 L1096.55,1271.58 L1097.15,1271.12 L1097.75,1270.63 L1098.35,1270.11 L1098.95,1269.56 L1099.55,1268.98 L1100.15,1268.39 L1100.75,1267.78 L1101.35,1267.17 L1101.95,1266.54 L1102.55,1265.92 L1103.15,1265.29 L1103.75,1264.67 L1104.35,1264.06 L1104.95,1263.47 L1105.55,1262.9 L1106.15,1262.34 L1106.75,1261.82 L1107.35,1261.32 L1107.95,1260.86 L1108.55,1260.43 L1109.15,1260.04 L1109.75,1259.7 L1110.34,1259.39 L1110.94,1259.14 L1111.54,1258.93 L1112.14,1258.77 L1112.74,1258.67 L1113.34,1258.61 L1113.94,1258.6 L1114.54,1258.65 L1115.14,1258.74 L1115.74,1258.89 L1116.34,1259.08 L1116.94,1259.32 L1117.54,1259.6 L1118.14,1259.93 L1118.74,1260.3 L1119.34,1260.7 L1119.94,1261.15 L1120.54,1261.62 L1121.14,1262.13 L1121.74,1262.66 L1122.34,1263.22 L1122.94,1263.79 L1123.54,1264.39 L1124.14,1264.99 L1124.74,1265.6 L1125.34,1266.22 L1125.94,1266.83 L1126.54,1267.44 L1127.14,1268.05 L1127.74,1268.64 L1128.34,1269.21 L1128.94,1269.77 L1129.54,1270.3 L1130.14,1270.8 L1130.74,1271.28 L1131.34,1271.72 L1131.94,1272.12 L1132.54,1272.49 L1133.14,1272.81 L1133.74,1273.1 L1134.34,1273.33 L1134.94,1273.52 L1135.54,1273.66 L1136.14,1273.75 L1136.74,1273.8 L1137.34,1273.79 L1137.94,1273.73 L1138.54,1273.63 L1139.14,1273.47 L1139.74,1273.27 L1140.34,1273.02 L1140.94,1272.72 L1141.54,1272.39 L1142.14,1272.01 L1142.74,1271.59 L1143.34,1271.14 L1143.94,1270.66 L1144.54,1270.15 L1145.14,1269.61 L1145.74,1269.05 L1146.34,1268.47 L1146.94,1267.87 L1147.53,1267.26 L1148.13,1266.65 L1148.73,1266.04 L1149.33,1265.42 L1149.93,1264.81 L1150.53,1264.21 L1151.13,1263.62 L1151.73,1263.05 L1152.33,1262.5 L1152.93,1261.98 L1153.53,1261.48 L1154.13,1261.01 L1154.73,1260.58 L1155.33,1260.19 L1155.93,1259.83 L1156.53,1259.51 L1157.13,1259.24 L1157.73,1259.02 L1158.33,1258.84 L1158.93,1258.71 L1159.53,1258.63 L1160.13,1258.6 L1160.73,1258.62 L1161.33,1258.69 L1161.93,1258.8 L1162.53,1258.97 L1163.13,1259.18 L1163.73,1259.43 L1164.33,1259.73 L1164.93,1260.07 L1165.53,1260.45 L1166.13,1260.87 L1166.73,1261.32 L1167.33,1261.8 L1167.93,1262.31 L1168.53,1262.84 L1169.13,1263.4 L1169.73,1263.98 L1170.33,1264.57 L1170.93,1265.17 L1171.53,1265.77 L1172.13,1266.38 L1172.73,1266.99 L1173.33,1267.59 L1173.93,1268.19 L1174.53,1268.77 L1175.13,1269.33 L1175.73,1269.88 L1176.33,1270.4 L1176.93,1270.89 L1177.53,1271.36 L1178.13,1271.79 L1178.73,1272.18 L1179.33,1272.54 L1179.93,1272.85 L1180.53,1273.13 L1181.13,1273.35 L1181.73,1273.54 L1182.33,1273.67 L1182.93,1273.76 L1183.53,1273.8 L1184.13,1273.79 L1184.72,1273.73 L1185.32,1273.62 L1185.92,1273.47 L1186.52,1273.26 L1187.12,1273.02 L1187.72,1272.73 L1188.32,1272.39 L1188.92,1272.02 L1189.52,1271.61 L1190.12,1271.17 L1190.72,1270.69 L1191.32,1270.18 L1191.92,1269.65 L1192.52,1269.1 L1193.12,1268.53 L1193.72,1267.94 L1194.32,1267.34 L1194.92,1266.74 L1195.52,1266.13 L1196.12,1265.52 L1196.72,1264.91 L1197.32,1264.32 L1197.92,1263.73 L1198.52,1263.17 L1199.12,1262.62 L1199.72,1262.09 L1200.32,1261.59 L1200.92,1261.12 L1201.52,1260.69 L1202.12,1260.29 L1202.72,1259.92 L1203.32,1259.6 L1203.92,1259.32 L1204.52,1259.08 L1205.12,1258.89 L1205.72,1258.75 L1206.32,1258.65 L1206.92,1258.61 L1207.52,1258.61 L1208.12,1258.66 L1208.72,1258.76 L1209.32,1258.92 L1209.92,1259.12 L1210.52,1259.38 L1211.12,1259.68 L1211.72,1260.02 L1212.32,1260.4 L1212.92,1260.83 L1213.52,1261.29 L1214.12,1261.79 L1214.72,1262.31 L1215.32,1262.86 L1215.92,1263.43 L1216.52,1264.03 L1217.12,1264.63 L1217.72,1265.25 L1218.32,1265.88 L1218.92,1266.5 L1219.52,1267.13 L1220.12,1267.75 L1220.72,1268.35 L1221.31,1268.95 L1221.91,1269.52 L1222.51,1270.07 L1223.11,1270.6 L1223.71,1271.09 L1224.31,1271.56 L1224.91,1271.98 L1225.51,1272.37 L1226.11,1272.71 L1226.71,1273.01 L1227.31,1273.27 L1227.91,1273.47 L1228.51,1273.63 L1229.11,1273.74 L1229.71,1273.79 L1230.31,1273.8 L1230.91,1273.75 L1231.51,1273.65 L1232.11,1273.5 L1232.71,1273.3 L1233.31,1273.05 L1233.91,1272.75 L1234.51,1272.41 L1235.11,1272.03 L1235.71,1271.61 L1236.31,1271.15 L1236.91,1270.66 L1237.51,1270.14 L1238.11,1269.59 L1238.71,1269.02 L1239.31,1268.43 L1239.91,1267.82 L1240.51,1267.21 L1241.11,1266.58 L1241.71,1265.96 L1242.31,1265.33 L1242.91,1264.71 L1243.51,1264.1 L1244.11,1263.51 L1244.71,1262.93 L1245.31,1262.38 L1245.91,1261.85 L1246.51,1261.35 L1247.11,1260.89 L1247.71,1260.46 L1248.31,1260.07 L1248.91,1259.72 L1249.51,1259.41 L1250.11,1259.15 L1250.71,1258.94 L1251.31,1258.78 L1251.91,1258.67 L1252.51,1258.61 L1253.11,1258.6 L1253.71,1258.65 L1254.31,1258.74 L1254.91,1258.89 L1255.51,1259.08 L1256.11,1259.33 L1256.71,1259.62 L1257.31,1259.95 L1257.91,1260.33 L1258.5,1260.75 L1259.1,1261.2 L1259.7,1261.69 L1260.3,1262.21 L1260.9,1262.76 L1261.5,1263.33 L1262.1,1263.92 L1262.7,1264.52 L1263.3,1265.14 L1263.9,1265.76 L1264.5,1266.39 L1265.1,1267.01 L1265.7,1267.63 L1266.3,1268.24 L1266.9,1268.84 L1267.5,1269.42 L1268.1,1269.97 L1268.7,1270.5 L1269.3,1271 L1269.9,1271.47 L1270.5,1271.91 L1271.1,1272.3 L1271.7,1272.65 L1272.3,1272.96 L1272.9,1273.22 L1273.5,1273.44 L1274.1,1273.61 L1274.7,1273.72 L1275.3,1273.79 L1275.9,1273.8 L1276.5,1273.76 C1279,1273.8 1279.5,1272.8 1279.8,1269.2 L1280.1,1261.5 C1280.5,1258.5 1281.5,1258.5 1284.5,1258.5 L1337,1258.5" stroke="#111" stroke-width="2.4" fill="none" stroke-linejoin="round"/>
<rect x="75.5" y="1255" width="6.5" height="8" fill="#f3f2ee" stroke="#dcdcdc" stroke-width="0.5"/>
<rect x="76.05" y="1255.6" width="2.48" height="6.8" fill="#f6f1dc"/>
<path d="M100,1253.5 C104.48,1253.5 105.06,1255.8 107.38,1255.8 L111.67,1255.74 Q112.6,1255.8 112.6,1257.08 L112.6,1260.92 Q112.6,1262.2 111.67,1262.26 L107.38,1262.2 C105.06,1262.2 104.48,1264.5 100,1264.5 Z" fill="#232325"/>
<path d="M104.48,1258.36 L111.44,1258.36" stroke="#3c3c3e" stroke-width="1.12"/>
<rect x="81" y="1253.5" width="20" height="11" fill="#303136"/>
<rect x="81" y="1255.04" width="20" height="7.92" fill="#53555c"/>
<rect x="81" y="1254.71" width="20" height="0.88" fill="#b4b5ba"/>
<rect x="81" y="1262.41" width="20" height="0.88" fill="#b4b5ba"/>
<g opacity="0.99"><text x="0" y="0" transform="translate(91,1260.43) scale(-1.05,1)" text-anchor="middle" font-family="Liberation Sans" font-weight="bold" font-size="3.96" fill="#f4f4f4" letter-spacing="0.48">ACVEE</text></g>
<rect x="1366.3" y="1254.9" width="7.7" height="7.2" fill="#a0a0a0"/>
<rect x="1366.3" y="1254.9" width="7.7" height="1.26" fill="#bdbdbd"/>
<path d="M1336,1256.4 Q1336,1255.35 1337.37,1255.35 L1339.42,1255.65 C1342.27,1255.5 1343.98,1253.3 1348.4,1253.3 L1348.4,1263.7 C1343.98,1263.7 1342.27,1261.5 1339.42,1261.35 L1337.37,1261.65 Q1336,1261.65 1336,1260.6 Z" fill="#232325"/>
<rect x="1347.4" y="1253.3" width="19.9" height="10.4" fill="#303136"/>
<rect x="1347.4" y="1254.86" width="19.9" height="7.28" fill="#53555c"/>
<rect x="1347.4" y="1254.44" width="19.9" height="0.94" fill="#b4b5ba"/>
<rect x="1347.4" y="1261.62" width="19.9" height="0.94" fill="#b4b5ba"/>
<g transform="translate(1357.35,1258.5) scale(0.68)" fill="#f4f4f4" stroke="#f4f4f4"><circle cx="-6.5" cy="0" r="1.9" stroke="none"/><path d="M-6,0 H6 M-3.2,0 L-1.2,-2.9 H2.2 M-1.8,0 L0.4,2.9 H2.6" fill="none" stroke-width="1.3"/><path d="M7.5,0 L5,-1.7 V1.7 Z" stroke="none"/><rect x="2" y="-3.9" width="2" height="2" stroke="none"/><circle cx="3.2" cy="2.9" r="1.25" stroke="none"/></g>
</svg>
<div class="t" style="left:270.46px;top:63.05px;font-size:72px;font-weight:bold;color:#13295f;transform:scaleX(0.8792)">Coiled Cable Length Overview</div>
<div class="t" style="left:92.5px;top:217.63px;font-size:66px;font-weight:normal;color:#0f2457;transform:scaleX(0.9344)">3ft Detail</div>
<div class="t" style="left:484.63px;top:328.99px;font-size:39px;font-weight:normal;color:#0a2a22;transform:scaleX(0.9360)">Original Length: 0.36m (1.2ft)</div>
<div class="t" style="left:320.11px;top:510.59px;font-size:39px;font-weight:normal;color:#0a2a22;transform:scaleX(0.9456)">Comfortable Stretch Range: 0.36m-0.9m(1.2ft-3ft)</div>
<div class="t" style="left:483.69px;top:682.69px;font-size:39px;font-weight:normal;color:#fffcd2;transform:scaleX(0.9355)">Max Stretch Length: 1.2m (4ft)</div>
<div class="t" style="left:93.71px;top:836.03px;font-size:66px;font-weight:normal;color:#0f2457;transform:scaleX(0.9300)">5ft Detail</div>
<div class="t" style="left:500.02px;top:946.79px;font-size:39px;font-weight:normal;color:#0a2a22;transform:scaleX(0.9378)">Original Length: 0.5m (1.5ft)</div>
<div class="t" style="left:341.31px;top:1128.49px;font-size:39px;font-weight:normal;color:#0a2a22;transform:scaleX(0.9449)">Comfortable Stretch Range:0.5m-1.5m(1.5ft-5ft)</div>
<div class="t" style="left:488.18px;top:1300.99px;font-size:39px;font-weight:normal;color:#fffcd2;transform:scaleX(0.9386)">Max Stretch Length: 1.8m (6ft)</div>
</body></html>
